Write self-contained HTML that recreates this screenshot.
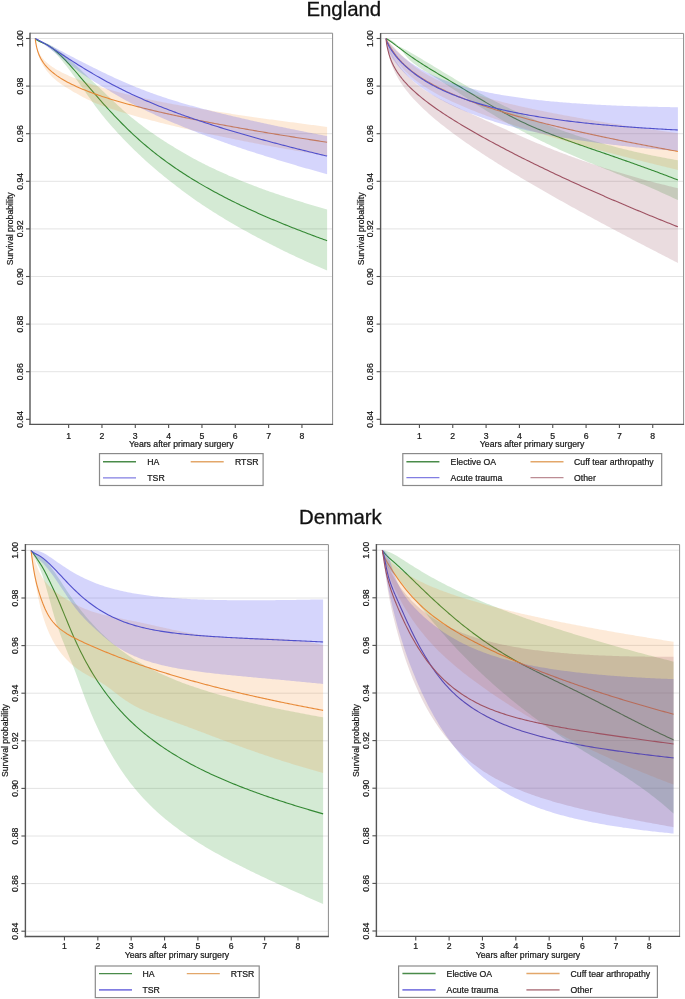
<!DOCTYPE html>
<html><head><meta charset="utf-8"><style>
html,body{margin:0;padding:0;background:#fff;}
body{width:685px;height:999px;overflow:hidden;font-family:"Liberation Sans",sans-serif;}
svg{display:block;will-change:transform;}
</style></head><body>
<svg width="685" height="999" viewBox="0 0 685 999">
<rect width="685" height="999" fill="#fff"/>
<text x="343.8" y="16.1" text-anchor="middle" font-size="20.4" fill="#111" font-family="Liberation Sans, sans-serif" stroke="#111" stroke-width="0.3" paint-order="stroke">England</text>
<text x="340.45" y="524.3" text-anchor="middle" font-size="20.4" fill="#111" font-family="Liberation Sans, sans-serif" stroke="#111" stroke-width="0.3" paint-order="stroke">Denmark</text>
<line x1="30.70" y1="38.50" x2="332.10" y2="38.50" stroke="#e4e4e4" stroke-width="1" stroke-opacity="1.00"/>
<line x1="30.70" y1="86.10" x2="332.10" y2="86.10" stroke="#e4e4e4" stroke-width="1" stroke-opacity="1.00"/>
<line x1="30.70" y1="133.70" x2="332.10" y2="133.70" stroke="#e4e4e4" stroke-width="1" stroke-opacity="1.00"/>
<line x1="30.70" y1="181.30" x2="332.10" y2="181.30" stroke="#e4e4e4" stroke-width="1" stroke-opacity="1.00"/>
<line x1="30.70" y1="228.90" x2="332.10" y2="228.90" stroke="#e4e4e4" stroke-width="1" stroke-opacity="1.00"/>
<line x1="30.70" y1="276.50" x2="332.10" y2="276.50" stroke="#e4e4e4" stroke-width="1" stroke-opacity="1.00"/>
<line x1="30.70" y1="324.10" x2="332.10" y2="324.10" stroke="#e4e4e4" stroke-width="1" stroke-opacity="1.00"/>
<line x1="30.70" y1="371.70" x2="332.10" y2="371.70" stroke="#e4e4e4" stroke-width="1" stroke-opacity="1.00"/>
<polygon points="35.30,38.50 35.30,38.52 35.33,38.61 35.40,38.73 35.51,38.88 35.72,39.10 35.93,39.29 36.14,39.45 36.35,39.59 36.57,39.73 36.78,39.86 36.99,39.98 37.20,40.09 37.41,40.20 37.62,40.31 37.83,40.41 38.04,40.51 38.25,40.60 38.46,40.70 38.68,40.78 38.89,40.87 39.10,40.96 39.31,41.04 39.52,41.12 39.73,41.20 39.94,41.27 40.15,41.35 40.36,41.42 40.57,41.49 40.78,41.56 41.00,41.63 41.21,41.70 41.42,41.77 41.63,41.83 41.84,41.90 42.05,41.96 42.26,42.02 42.47,42.08 42.68,42.14 42.89,42.20 43.11,42.26 43.32,42.32 43.53,42.37 43.74,42.43 43.95,42.48 44.16,42.55 44.37,42.61 44.58,42.67 44.79,42.74 45.00,42.81 45.21,42.88 45.43,42.96 45.64,43.03 45.85,43.11 46.06,43.19 46.27,43.28 46.48,43.36 46.69,43.45 46.90,43.53 47.11,43.62 47.32,43.72 47.54,43.81 47.75,43.90 47.96,44.00 48.17,44.10 48.38,44.20 48.59,44.30 48.80,44.40 49.01,44.51 49.22,44.61 49.43,44.72 49.64,44.83 49.86,44.94 50.07,45.05 50.28,45.16 50.49,45.28 50.70,45.39 50.91,45.51 51.12,45.63 51.33,45.75 51.54,45.87 51.75,45.99 51.96,46.12 53.70,47.17 55.43,48.28 57.16,49.44 58.89,50.66 60.62,51.92 62.35,53.25 64.08,54.62 65.81,56.05 67.54,57.53 69.27,59.07 71.00,60.64 72.73,62.24 74.46,63.86 76.19,65.50 77.92,67.16 79.65,68.83 81.38,70.50 83.11,72.18 84.84,73.86 86.57,75.54 88.30,77.20 90.03,78.85 91.77,80.49 93.50,82.13 95.23,83.77 96.96,85.41 98.69,87.06 100.42,88.72 102.15,90.40 103.88,92.07 105.61,93.75 107.34,95.42 109.07,97.08 110.80,98.73 112.53,100.37 114.26,101.99 115.99,103.61 117.72,105.21 119.45,106.80 121.18,108.37 122.91,109.92 124.64,111.45 126.37,112.97 128.10,114.46 129.83,115.93 131.57,117.38 133.30,118.81 135.03,120.22 136.76,121.60 138.49,122.95 140.22,124.29 141.95,125.60 143.68,126.90 145.41,128.17 147.14,129.43 148.87,130.67 150.60,131.90 152.33,133.10 154.06,134.29 155.79,135.47 157.52,136.64 159.25,137.79 160.98,138.93 162.71,140.05 164.44,141.17 166.17,142.28 167.90,143.38 169.63,144.46 171.37,145.54 173.10,146.61 174.83,147.67 176.56,148.72 178.29,149.76 180.02,150.79 181.75,151.81 183.48,152.82 185.21,153.82 186.94,154.81 188.67,155.78 190.40,156.75 192.13,157.71 193.86,158.65 195.59,159.58 197.32,160.50 199.05,161.41 200.78,162.31 202.51,163.19 204.24,164.06 205.97,164.93 207.70,165.78 209.43,166.63 211.17,167.47 212.90,168.29 214.63,169.11 216.36,169.92 218.09,170.73 219.82,171.52 221.55,172.31 223.28,173.09 225.01,173.86 226.74,174.62 228.47,175.38 230.20,176.13 231.93,176.87 233.66,177.60 235.39,178.33 237.12,179.05 238.85,179.77 240.58,180.48 242.31,181.18 244.04,181.88 245.77,182.57 247.50,183.26 249.23,183.94 250.97,184.62 252.70,185.28 254.43,185.95 256.16,186.60 257.89,187.26 259.62,187.90 261.35,188.54 263.08,189.17 264.81,189.80 266.54,190.42 268.27,191.04 270.00,191.65 271.73,192.25 273.46,192.85 275.19,193.45 276.92,194.03 278.65,194.62 280.38,195.19 282.11,195.77 283.84,196.33 285.57,196.90 287.30,197.46 289.03,198.01 290.77,198.57 292.50,199.12 294.23,199.66 295.96,200.20 297.69,200.74 299.42,201.28 301.15,201.82 302.88,202.35 304.61,202.88 306.34,203.41 308.07,203.93 309.80,204.45 311.53,204.97 313.26,205.49 314.99,206.00 316.72,206.52 318.45,207.02 320.18,207.53 321.91,208.03 323.64,208.54 325.37,209.04 327.10,209.53 327.10,270.46 325.37,269.73 323.64,268.99 321.91,268.25 320.18,267.51 318.45,266.76 316.72,266.01 314.99,265.26 313.26,264.50 311.53,263.73 309.80,262.96 308.07,262.19 306.34,261.41 304.61,260.63 302.88,259.85 301.15,259.06 299.42,258.26 297.69,257.46 295.96,256.66 294.23,255.85 292.50,255.03 290.77,254.21 289.03,253.38 287.30,252.55 285.57,251.72 283.84,250.88 282.11,250.03 280.38,249.19 278.65,248.33 276.92,247.47 275.19,246.61 273.46,245.74 271.73,244.87 270.00,243.99 268.27,243.11 266.54,242.22 264.81,241.33 263.08,240.43 261.35,239.52 259.62,238.61 257.89,237.69 256.16,236.77 254.43,235.84 252.70,234.91 250.97,233.97 249.23,233.02 247.50,232.07 245.77,231.11 244.04,230.15 242.31,229.18 240.58,228.20 238.85,227.22 237.12,226.23 235.39,225.24 233.66,224.24 231.93,223.23 230.20,222.22 228.47,221.20 226.74,220.17 225.01,219.14 223.28,218.10 221.55,217.05 219.82,215.99 218.09,214.93 216.36,213.85 214.63,212.77 212.90,211.68 211.17,210.58 209.43,209.47 207.70,208.35 205.97,207.22 204.24,206.08 202.51,204.93 200.78,203.77 199.05,202.59 197.32,201.40 195.59,200.20 193.86,198.98 192.13,197.76 190.40,196.52 188.67,195.26 186.94,194.00 185.21,192.72 183.48,191.44 181.75,190.14 180.02,188.84 178.29,187.52 176.56,186.20 174.83,184.86 173.10,183.52 171.37,182.16 169.63,180.80 167.90,179.44 166.17,178.06 164.44,176.66 162.71,175.26 160.98,173.84 159.25,172.41 157.52,170.97 155.79,169.51 154.06,168.03 152.33,166.54 150.60,165.03 148.87,163.51 147.14,161.97 145.41,160.41 143.68,158.83 141.95,157.23 140.22,155.61 138.49,153.97 136.76,152.31 135.03,150.63 133.30,148.94 131.57,147.22 129.83,145.50 128.10,143.75 126.37,141.99 124.64,140.21 122.91,138.41 121.18,136.58 119.45,134.74 117.72,132.88 115.99,130.99 114.26,129.08 112.53,127.14 110.80,125.17 109.07,123.19 107.34,121.17 105.61,119.13 103.88,117.06 102.15,114.96 100.42,112.80 98.69,110.57 96.96,108.26 95.23,105.90 93.50,103.49 91.77,101.05 90.03,98.60 88.30,96.14 86.57,93.70 84.84,91.28 83.11,88.87 81.38,86.44 79.65,84.02 77.92,81.60 76.19,79.19 74.46,76.80 72.73,74.44 71.00,72.10 69.27,69.80 67.54,67.55 65.81,65.32 64.08,63.14 62.35,61.01 60.62,58.95 58.89,56.95 57.16,55.04 55.43,53.23 53.70,51.52 51.96,49.93 51.75,49.74 51.54,49.56 51.33,49.37 51.12,49.19 50.91,49.01 50.70,48.84 50.49,48.66 50.28,48.49 50.07,48.31 49.86,48.14 49.64,47.97 49.43,47.81 49.22,47.64 49.01,47.48 48.80,47.31 48.59,47.15 48.38,47.00 48.17,46.84 47.96,46.68 47.75,46.53 47.54,46.38 47.32,46.23 47.11,46.09 46.90,45.94 46.69,45.80 46.48,45.66 46.27,45.52 46.06,45.38 45.85,45.25 45.64,45.12 45.43,44.99 45.21,44.86 45.00,44.74 44.79,44.61 44.58,44.50 44.37,44.38 44.16,44.27 43.95,44.16 43.74,44.05 43.53,43.94 43.32,43.84 43.11,43.73 42.89,43.63 42.68,43.52 42.47,43.41 42.26,43.30 42.05,43.20 41.84,43.09 41.63,42.98 41.42,42.87 41.21,42.76 41.00,42.64 40.78,42.53 40.57,42.42 40.36,42.30 40.15,42.19 39.94,42.07 39.73,41.95 39.52,41.83 39.31,41.71 39.10,41.59 38.89,41.46 38.68,41.34 38.46,41.21 38.25,41.08 38.04,40.95 37.83,40.81 37.62,40.67 37.41,40.53 37.20,40.39 36.99,40.24 36.78,40.08 36.57,39.92 36.35,39.75 36.14,39.57 35.93,39.38 35.72,39.16 35.51,38.91 35.40,38.75 35.33,38.62 35.30,38.52 35.30,38.50" fill="#2a962a" fill-opacity="0.200"/>
<polyline points="35.30,38.50 35.30,38.52 35.33,38.62 35.40,38.74 35.51,38.90 35.72,39.13 35.93,39.33 36.14,39.51 36.35,39.67 36.57,39.83 36.78,39.97 36.99,40.11 37.20,40.24 37.41,40.37 37.62,40.49 37.83,40.61 38.04,40.73 38.25,40.84 38.46,40.95 38.68,41.06 38.89,41.17 39.10,41.27 39.31,41.37 39.52,41.48 39.73,41.57 39.94,41.67 40.15,41.77 40.36,41.86 40.57,41.96 40.78,42.05 41.00,42.14 41.21,42.23 41.42,42.32 41.63,42.41 41.84,42.49 42.05,42.58 42.26,42.66 42.47,42.75 42.68,42.83 42.89,42.91 43.11,43.00 43.32,43.08 43.53,43.16 43.74,43.24 43.95,43.32 44.16,43.41 44.37,43.49 44.58,43.58 44.79,43.68 45.00,43.77 45.21,43.87 45.43,43.97 45.64,44.08 45.85,44.18 46.06,44.29 46.27,44.40 46.48,44.51 46.69,44.62 46.90,44.74 47.11,44.85 47.32,44.97 47.54,45.09 47.75,45.22 47.96,45.34 48.17,45.47 48.38,45.60 48.59,45.73 48.80,45.86 49.01,45.99 49.22,46.13 49.43,46.26 49.64,46.40 49.86,46.54 50.07,46.68 50.28,46.82 50.49,46.97 50.70,47.12 50.91,47.26 51.12,47.41 51.33,47.56 51.54,47.71 51.75,47.87 51.96,48.02 53.70,49.35 55.43,50.76 57.16,52.25 58.89,53.81 60.62,55.45 62.35,57.15 64.08,58.90 65.81,60.70 67.54,62.54 69.27,64.43 71.00,66.35 72.73,68.29 74.46,70.26 76.19,72.25 77.92,74.25 79.65,76.27 81.38,78.29 83.11,80.31 84.84,82.34 86.57,84.36 88.30,86.39 90.03,88.41 91.77,90.42 93.50,92.43 95.23,94.43 96.96,96.42 98.69,98.40 100.42,100.37 102.15,102.32 103.88,104.27 105.61,106.19 107.34,108.10 109.07,110.00 110.80,111.87 112.53,113.73 114.26,115.58 115.99,117.40 117.72,119.20 119.45,120.99 121.18,122.75 122.91,124.50 124.64,126.22 126.37,127.93 128.10,129.61 129.83,131.27 131.57,132.91 133.30,134.53 135.03,136.13 136.76,137.71 138.49,139.26 140.22,140.80 141.95,142.31 143.68,143.81 145.41,145.28 147.14,146.74 148.87,148.17 150.60,149.59 152.33,150.99 154.06,152.37 155.79,153.74 157.52,155.09 159.25,156.42 160.98,157.73 162.71,159.03 164.44,160.31 166.17,161.58 167.90,162.83 169.63,164.07 171.37,165.29 173.10,166.50 174.83,167.69 176.56,168.87 178.29,170.04 180.02,171.19 181.75,172.33 183.48,173.46 185.21,174.58 186.94,175.68 188.67,176.78 190.40,177.86 192.13,178.93 193.86,179.99 195.59,181.04 197.32,182.07 199.05,183.10 200.78,184.12 202.51,185.13 204.24,186.12 205.97,187.11 207.70,188.09 209.43,189.06 211.17,190.02 212.90,190.97 214.63,191.91 216.36,192.85 218.09,193.78 219.82,194.69 221.55,195.60 223.28,196.51 225.01,197.40 226.74,198.29 228.47,199.17 230.20,200.04 231.93,200.91 233.66,201.76 235.39,202.62 237.12,203.46 238.85,204.30 240.58,205.13 242.31,205.96 244.04,206.78 245.77,207.59 247.50,208.40 249.23,209.20 250.97,210.00 252.70,210.79 254.43,211.57 256.16,212.35 257.89,213.13 259.62,213.90 261.35,214.66 263.08,215.42 264.81,216.18 266.54,216.93 268.27,217.67 270.00,218.41 271.73,219.15 273.46,219.88 275.19,220.60 276.92,221.33 278.65,222.05 280.38,222.76 282.11,223.47 283.84,224.18 285.57,224.88 287.30,225.58 289.03,226.27 290.77,226.96 292.50,227.65 294.23,228.33 295.96,229.01 297.69,229.69 299.42,230.36 301.15,231.03 302.88,231.70 304.61,232.36 306.34,233.02 308.07,233.68 309.80,234.33 311.53,234.98 313.26,235.63 314.99,236.27 316.72,236.92 318.45,237.55 320.18,238.19 321.91,238.82 323.64,239.46 325.37,240.08 327.10,240.71" fill="none" stroke="#338833" stroke-width="1.10" stroke-linejoin="round"/>
<polygon points="35.30,38.50 35.30,38.62 35.33,39.11 35.40,39.81 35.51,40.70 35.72,42.04 35.93,43.18 36.14,44.19 36.35,45.13 36.57,46.01 36.78,46.81 36.99,47.54 37.20,48.22 37.41,48.85 37.62,49.45 37.83,50.00 38.04,50.53 38.25,51.04 38.46,51.52 38.68,51.98 38.89,52.42 39.10,52.84 39.31,53.25 39.52,53.64 39.73,54.02 39.94,54.39 40.15,54.74 40.36,55.08 40.57,55.42 40.78,55.74 41.00,56.06 41.21,56.36 41.42,56.66 41.63,56.96 41.84,57.24 42.05,57.52 42.26,57.79 42.47,58.06 42.68,58.32 42.89,58.58 43.11,58.83 43.32,59.08 43.53,59.32 43.74,59.56 43.95,59.79 44.16,60.02 44.37,60.25 44.58,60.47 44.79,60.69 45.00,60.90 45.21,61.11 45.43,61.32 45.64,61.53 45.85,61.73 46.06,61.93 46.27,62.12 46.48,62.32 46.69,62.51 46.90,62.69 47.11,62.88 47.32,63.06 47.54,63.24 47.75,63.42 47.96,63.60 48.17,63.78 48.38,63.95 48.59,64.12 48.80,64.29 49.01,64.46 49.22,64.62 49.43,64.79 49.64,64.95 49.86,65.11 50.07,65.27 50.28,65.43 50.49,65.58 50.70,65.74 50.91,65.89 51.12,66.04 51.33,66.19 51.54,66.34 51.75,66.49 51.96,66.64 53.70,67.80 55.43,68.88 57.16,69.90 58.89,70.86 60.62,71.77 62.35,72.65 64.08,73.49 65.81,74.31 67.54,75.11 69.27,75.89 71.00,76.64 72.73,77.38 74.46,78.09 76.19,78.78 77.92,79.46 79.65,80.12 81.38,80.76 83.11,81.39 84.84,82.01 86.57,82.61 88.30,83.21 90.03,83.79 91.77,84.36 93.50,84.92 95.23,85.47 96.96,86.02 98.69,86.55 100.42,87.07 102.15,87.59 103.88,88.10 105.61,88.60 107.34,89.09 109.07,89.58 110.80,90.07 112.53,90.55 114.26,91.02 115.99,91.49 117.72,91.95 119.45,92.40 121.18,92.85 122.91,93.30 124.64,93.74 126.37,94.17 128.10,94.60 129.83,95.02 131.57,95.44 133.30,95.85 135.03,96.25 136.76,96.65 138.49,97.05 140.22,97.44 141.95,97.83 143.68,98.21 145.41,98.59 147.14,98.97 148.87,99.35 150.60,99.71 152.33,100.08 154.06,100.44 155.79,100.80 157.52,101.16 159.25,101.51 160.98,101.85 162.71,102.20 164.44,102.54 166.17,102.87 167.90,103.20 169.63,103.53 171.37,103.86 173.10,104.17 174.83,104.49 176.56,104.80 178.29,105.11 180.02,105.41 181.75,105.71 183.48,106.01 185.21,106.31 186.94,106.60 188.67,106.89 190.40,107.18 192.13,107.47 193.86,107.76 195.59,108.05 197.32,108.33 199.05,108.62 200.78,108.90 202.51,109.19 204.24,109.47 205.97,109.76 207.70,110.04 209.43,110.32 211.17,110.60 212.90,110.88 214.63,111.16 216.36,111.44 218.09,111.72 219.82,112.00 221.55,112.27 223.28,112.54 225.01,112.81 226.74,113.08 228.47,113.35 230.20,113.62 231.93,113.89 233.66,114.15 235.39,114.41 237.12,114.67 238.85,114.93 240.58,115.19 242.31,115.44 244.04,115.70 245.77,115.95 247.50,116.21 249.23,116.46 250.97,116.71 252.70,116.96 254.43,117.20 256.16,117.45 257.89,117.70 259.62,117.94 261.35,118.18 263.08,118.43 264.81,118.67 266.54,118.91 268.27,119.15 270.00,119.38 271.73,119.62 273.46,119.85 275.19,120.09 276.92,120.32 278.65,120.55 280.38,120.78 282.11,121.00 283.84,121.23 285.57,121.46 287.30,121.68 289.03,121.91 290.77,122.14 292.50,122.36 294.23,122.59 295.96,122.82 297.69,123.05 299.42,123.27 301.15,123.50 302.88,123.74 304.61,123.97 306.34,124.20 308.07,124.43 309.80,124.66 311.53,124.89 313.26,125.12 314.99,125.36 316.72,125.59 318.45,125.82 320.18,126.05 321.91,126.28 323.64,126.52 325.37,126.75 327.10,126.98 327.10,155.78 325.37,155.51 323.64,155.24 321.91,154.96 320.18,154.68 318.45,154.41 316.72,154.13 314.99,153.85 313.26,153.57 311.53,153.28 309.80,153.00 308.07,152.71 306.34,152.43 304.61,152.14 302.88,151.85 301.15,151.56 299.42,151.27 297.69,150.98 295.96,150.68 294.23,150.39 292.50,150.09 290.77,149.79 289.03,149.49 287.30,149.19 285.57,148.89 283.84,148.59 282.11,148.28 280.38,147.98 278.65,147.67 276.92,147.36 275.19,147.05 273.46,146.73 271.73,146.42 270.00,146.10 268.27,145.79 266.54,145.47 264.81,145.15 263.08,144.82 261.35,144.50 259.62,144.17 257.89,143.84 256.16,143.50 254.43,143.17 252.70,142.84 250.97,142.50 249.23,142.16 247.50,141.82 245.77,141.48 244.04,141.13 242.31,140.79 240.58,140.45 238.85,140.10 237.12,139.75 235.39,139.41 233.66,139.06 231.93,138.71 230.20,138.36 228.47,138.01 226.74,137.65 225.01,137.30 223.28,136.94 221.55,136.58 219.82,136.22 218.09,135.86 216.36,135.50 214.63,135.14 212.90,134.77 211.17,134.40 209.43,134.03 207.70,133.66 205.97,133.29 204.24,132.92 202.51,132.54 200.78,132.16 199.05,131.78 197.32,131.40 195.59,131.02 193.86,130.63 192.13,130.25 190.40,129.86 188.67,129.46 186.94,129.07 185.21,128.67 183.48,128.28 181.75,127.88 180.02,127.47 178.29,127.07 176.56,126.66 174.83,126.25 173.10,125.84 171.37,125.42 169.63,125.01 167.90,124.59 166.17,124.16 164.44,123.74 162.71,123.31 160.98,122.88 159.25,122.44 157.52,122.01 155.79,121.56 154.06,121.12 152.33,120.67 150.60,120.22 148.87,119.77 147.14,119.31 145.41,118.85 143.68,118.38 141.95,117.91 140.22,117.44 138.49,116.96 136.76,116.48 135.03,115.99 133.30,115.50 131.57,115.01 129.83,114.52 128.10,114.02 126.37,113.52 124.64,113.01 122.91,112.49 121.18,111.97 119.45,111.45 117.72,110.91 115.99,110.37 114.26,109.82 112.53,109.27 110.80,108.70 109.07,108.12 107.34,107.53 105.61,106.93 103.88,106.32 102.15,105.69 100.42,105.04 98.69,104.36 96.96,103.66 95.23,102.93 93.50,102.17 91.77,101.39 90.03,100.58 88.30,99.75 86.57,98.90 84.84,98.02 83.11,97.13 81.38,96.22 79.65,95.29 77.92,94.34 76.19,93.37 74.46,92.38 72.73,91.38 71.00,90.36 69.27,89.32 67.54,88.26 65.81,87.18 64.08,86.06 62.35,84.91 60.62,83.72 58.89,82.46 57.16,81.14 55.43,79.74 53.70,78.24 51.96,76.64 51.75,76.43 51.54,76.22 51.33,76.02 51.12,75.80 50.91,75.59 50.70,75.37 50.49,75.15 50.28,74.93 50.07,74.71 49.86,74.48 49.64,74.25 49.43,74.02 49.22,73.79 49.01,73.55 48.80,73.31 48.59,73.07 48.38,72.82 48.17,72.57 47.96,72.32 47.75,72.07 47.54,71.81 47.32,71.55 47.11,71.28 46.90,71.01 46.69,70.74 46.48,70.47 46.27,70.19 46.06,69.91 45.85,69.62 45.64,69.33 45.43,69.03 45.21,68.74 45.00,68.43 44.79,68.12 44.58,67.81 44.37,67.49 44.16,67.17 43.95,66.84 43.74,66.51 43.53,66.17 43.32,65.83 43.11,65.48 42.89,65.12 42.68,64.76 42.47,64.38 42.26,64.01 42.05,63.62 41.84,63.22 41.63,62.82 41.42,62.40 41.21,61.98 41.00,61.54 40.78,61.10 40.57,60.64 40.36,60.17 40.15,59.68 39.94,59.18 39.73,58.67 39.52,58.14 39.31,57.59 39.10,57.02 38.89,56.43 38.68,55.82 38.46,55.18 38.25,54.51 38.04,53.81 37.83,53.08 37.62,52.30 37.41,51.48 37.20,50.62 36.99,49.69 36.78,48.71 36.57,47.65 36.35,46.51 36.14,45.31 35.93,44.02 35.72,42.61 35.51,40.98 35.40,39.95 35.33,39.16 35.30,38.63 35.30,38.50" fill="#f58c28" fill-opacity="0.180"/>
<polyline points="35.30,38.50 35.30,38.62 35.33,39.13 35.40,39.88 35.51,40.84 35.72,42.32 35.93,43.59 36.14,44.74 36.35,45.81 36.57,46.82 36.78,47.75 36.99,48.61 37.20,49.41 37.41,50.16 37.62,50.86 37.83,51.53 38.04,52.16 38.25,52.77 38.46,53.35 38.68,53.90 38.89,54.43 39.10,54.94 39.31,55.43 39.52,55.91 39.73,56.37 39.94,56.81 40.15,57.25 40.36,57.67 40.57,58.07 40.78,58.47 41.00,58.86 41.21,59.23 41.42,59.60 41.63,59.96 41.84,60.31 42.05,60.65 42.26,60.99 42.47,61.32 42.68,61.64 42.89,61.95 43.11,62.26 43.32,62.57 43.53,62.86 43.74,63.16 43.95,63.44 44.16,63.73 44.37,64.00 44.58,64.28 44.79,64.55 45.00,64.81 45.21,65.07 45.43,65.33 45.64,65.58 45.85,65.83 46.06,66.07 46.27,66.32 46.48,66.56 46.69,66.79 46.90,67.02 47.11,67.25 47.32,67.48 47.54,67.70 47.75,67.93 47.96,68.14 48.17,68.36 48.38,68.57 48.59,68.78 48.80,68.99 49.01,69.20 49.22,69.40 49.43,69.61 49.64,69.81 49.86,70.00 50.07,70.20 50.28,70.39 50.49,70.58 50.70,70.77 50.91,70.96 51.12,71.15 51.33,71.33 51.54,71.52 51.75,71.70 51.96,71.88 53.70,73.29 55.43,74.61 57.16,75.86 58.89,77.04 60.62,78.16 62.35,79.22 64.08,80.24 65.81,81.22 67.54,82.16 69.27,83.07 71.00,83.95 72.73,84.80 74.46,85.62 76.19,86.42 77.92,87.20 79.65,87.95 81.38,88.69 83.11,89.41 84.84,90.11 86.57,90.80 88.30,91.47 90.03,92.13 91.77,92.77 93.50,93.41 95.23,94.03 96.96,94.64 98.69,95.23 100.42,95.82 102.15,96.40 103.88,96.97 105.61,97.53 107.34,98.08 109.07,98.63 110.80,99.16 112.53,99.69 114.26,100.21 115.99,100.73 117.72,101.24 119.45,101.74 121.18,102.23 122.91,102.72 124.64,103.21 126.37,103.69 128.10,104.16 129.83,104.63 131.57,105.09 133.30,105.55 135.03,106.00 136.76,106.45 138.49,106.90 140.22,107.34 141.95,107.77 143.68,108.21 145.41,108.64 147.14,109.06 148.87,109.48 150.60,109.90 152.33,110.31 154.06,110.72 155.79,111.13 157.52,111.53 159.25,111.93 160.98,112.33 162.71,112.73 164.44,113.12 166.17,113.51 167.90,113.89 169.63,114.27 171.37,114.66 173.10,115.03 174.83,115.41 176.56,115.78 178.29,116.15 180.02,116.52 181.75,116.89 183.48,117.25 185.21,117.61 186.94,117.97 188.67,118.33 190.40,118.68 192.13,119.03 193.86,119.38 195.59,119.73 197.32,120.08 199.05,120.42 200.78,120.76 202.51,121.11 204.24,121.44 205.97,121.78 207.70,122.12 209.43,122.45 211.17,122.78 212.90,123.11 214.63,123.44 216.36,123.77 218.09,124.09 219.82,124.42 221.55,124.74 223.28,125.06 225.01,125.38 226.74,125.70 228.47,126.01 230.20,126.33 231.93,126.64 233.66,126.96 235.39,127.27 237.12,127.58 238.85,127.88 240.58,128.19 242.31,128.50 244.04,128.80 245.77,129.10 247.50,129.41 249.23,129.71 250.97,130.01 252.70,130.31 254.43,130.60 256.16,130.90 257.89,131.19 259.62,131.49 261.35,131.78 263.08,132.07 264.81,132.36 266.54,132.65 268.27,132.94 270.00,133.23 271.73,133.51 273.46,133.80 275.19,134.09 276.92,134.37 278.65,134.65 280.38,134.93 282.11,135.21 283.84,135.49 285.57,135.77 287.30,136.05 289.03,136.33 290.77,136.60 292.50,136.88 294.23,137.15 295.96,137.43 297.69,137.70 299.42,137.97 301.15,138.24 302.88,138.51 304.61,138.78 306.34,139.05 308.07,139.32 309.80,139.59 311.53,139.85 313.26,140.12 314.99,140.38 316.72,140.65 318.45,140.91 320.18,141.17 321.91,141.44 323.64,141.70 325.37,141.96 327.10,142.22" fill="none" stroke="#e88a38" stroke-width="1.10" stroke-linejoin="round"/>
<polygon points="35.30,38.50 35.30,38.50 35.33,38.51 35.40,38.53 35.51,38.56 35.72,38.63 35.93,38.71 36.14,38.79 36.35,38.87 36.57,38.95 36.78,39.03 36.99,39.11 37.20,39.20 37.41,39.28 37.62,39.37 37.83,39.46 38.04,39.54 38.25,39.63 38.46,39.72 38.68,39.81 38.89,39.90 39.10,39.99 39.31,40.08 39.52,40.17 39.73,40.26 39.94,40.35 40.15,40.44 40.36,40.53 40.57,40.63 40.78,40.72 41.00,40.81 41.21,40.91 41.42,41.00 41.63,41.09 41.84,41.19 42.05,41.28 42.26,41.38 42.47,41.47 42.68,41.57 42.89,41.66 43.11,41.76 43.32,41.86 43.53,41.95 43.74,42.05 43.95,42.15 44.16,42.24 44.37,42.34 44.58,42.44 44.79,42.54 45.00,42.64 45.21,42.74 45.43,42.84 45.64,42.94 45.85,43.04 46.06,43.14 46.27,43.25 46.48,43.35 46.69,43.45 46.90,43.55 47.11,43.66 47.32,43.76 47.54,43.87 47.75,43.97 47.96,44.07 48.17,44.18 48.38,44.29 48.59,44.39 48.80,44.50 49.01,44.60 49.22,44.71 49.43,44.82 49.64,44.92 49.86,45.03 50.07,45.14 50.28,45.25 50.49,45.35 50.70,45.46 50.91,45.57 51.12,45.68 51.33,45.79 51.54,45.90 51.75,46.01 51.96,46.12 53.70,47.02 55.43,47.93 57.16,48.85 58.89,49.77 60.62,50.69 62.35,51.62 64.08,52.54 65.81,53.46 67.54,54.38 69.27,55.30 71.00,56.20 72.73,57.10 74.46,58.00 76.19,58.88 77.92,59.76 79.65,60.64 81.38,61.52 83.11,62.40 84.84,63.28 86.57,64.16 88.30,65.03 90.03,65.90 91.77,66.77 93.50,67.63 95.23,68.49 96.96,69.34 98.69,70.20 100.42,71.04 102.15,71.89 103.88,72.73 105.61,73.57 107.34,74.40 109.07,75.23 110.80,76.05 112.53,76.86 114.26,77.67 115.99,78.47 117.72,79.26 119.45,80.05 121.18,80.83 122.91,81.60 124.64,82.36 126.37,83.11 128.10,83.85 129.83,84.58 131.57,85.31 133.30,86.02 135.03,86.72 136.76,87.42 138.49,88.10 140.22,88.78 141.95,89.45 143.68,90.11 145.41,90.76 147.14,91.41 148.87,92.05 150.60,92.69 152.33,93.31 154.06,93.93 155.79,94.54 157.52,95.15 159.25,95.74 160.98,96.33 162.71,96.92 164.44,97.49 166.17,98.06 167.90,98.63 169.63,99.18 171.37,99.73 173.10,100.27 174.83,100.81 176.56,101.34 178.29,101.87 180.02,102.38 181.75,102.90 183.48,103.41 185.21,103.91 186.94,104.41 188.67,104.90 190.40,105.39 192.13,105.87 193.86,106.35 195.59,106.83 197.32,107.30 199.05,107.77 200.78,108.23 202.51,108.69 204.24,109.15 205.97,109.60 207.70,110.05 209.43,110.50 211.17,110.94 212.90,111.38 214.63,111.81 216.36,112.24 218.09,112.67 219.82,113.10 221.55,113.52 223.28,113.94 225.01,114.35 226.74,114.77 228.47,115.18 230.20,115.59 231.93,116.00 233.66,116.41 235.39,116.81 237.12,117.22 238.85,117.62 240.58,118.02 242.31,118.42 244.04,118.81 245.77,119.21 247.50,119.60 249.23,119.99 250.97,120.38 252.70,120.76 254.43,121.15 256.16,121.53 257.89,121.91 259.62,122.29 261.35,122.67 263.08,123.05 264.81,123.42 266.54,123.80 268.27,124.17 270.00,124.54 271.73,124.91 273.46,125.28 275.19,125.65 276.92,126.02 278.65,126.38 280.38,126.75 282.11,127.11 283.84,127.47 285.57,127.83 287.30,128.19 289.03,128.55 290.77,128.91 292.50,129.26 294.23,129.62 295.96,129.97 297.69,130.32 299.42,130.67 301.15,131.02 302.88,131.36 304.61,131.71 306.34,132.05 308.07,132.40 309.80,132.74 311.53,133.08 313.26,133.42 314.99,133.75 316.72,134.09 318.45,134.43 320.18,134.76 321.91,135.10 323.64,135.43 325.37,135.76 327.10,136.09 327.10,174.17 325.37,173.70 323.64,173.22 321.91,172.75 320.18,172.27 318.45,171.79 316.72,171.31 314.99,170.82 313.26,170.34 311.53,169.85 309.80,169.36 308.07,168.87 306.34,168.38 304.61,167.88 302.88,167.39 301.15,166.89 299.42,166.38 297.69,165.88 295.96,165.37 294.23,164.86 292.50,164.35 290.77,163.84 289.03,163.32 287.30,162.80 285.57,162.28 283.84,161.76 282.11,161.24 280.38,160.71 278.65,160.18 276.92,159.65 275.19,159.12 273.46,158.59 271.73,158.06 270.00,157.52 268.27,156.98 266.54,156.44 264.81,155.90 263.08,155.36 261.35,154.81 259.62,154.27 257.89,153.72 256.16,153.17 254.43,152.61 252.70,152.06 250.97,151.50 249.23,150.94 247.50,150.38 245.77,149.81 244.04,149.24 242.31,148.67 240.58,148.09 238.85,147.51 237.12,146.93 235.39,146.34 233.66,145.75 231.93,145.15 230.20,144.55 228.47,143.95 226.74,143.34 225.01,142.73 223.28,142.12 221.55,141.50 219.82,140.87 218.09,140.25 216.36,139.62 214.63,138.99 212.90,138.35 211.17,137.71 209.43,137.07 207.70,136.42 205.97,135.77 204.24,135.12 202.51,134.46 200.78,133.80 199.05,133.14 197.32,132.47 195.59,131.80 193.86,131.12 192.13,130.44 190.40,129.75 188.67,129.06 186.94,128.37 185.21,127.67 183.48,126.96 181.75,126.26 180.02,125.54 178.29,124.83 176.56,124.11 174.83,123.38 173.10,122.66 171.37,121.92 169.63,121.19 167.90,120.45 166.17,119.70 164.44,118.95 162.71,118.20 160.98,117.45 159.25,116.69 157.52,115.92 155.79,115.15 154.06,114.37 152.33,113.58 150.60,112.79 148.87,111.99 147.14,111.18 145.41,110.37 143.68,109.54 141.95,108.71 140.22,107.86 138.49,107.01 136.76,106.14 135.03,105.26 133.30,104.37 131.57,103.46 129.83,102.53 128.10,101.60 126.37,100.65 124.64,99.69 122.91,98.72 121.18,97.74 119.45,96.74 117.72,95.74 115.99,94.73 114.26,93.71 112.53,92.69 110.80,91.66 109.07,90.62 107.34,89.58 105.61,88.53 103.88,87.48 102.15,86.43 100.42,85.38 98.69,84.33 96.96,83.27 95.23,82.21 93.50,81.14 91.77,80.07 90.03,78.97 88.30,77.86 86.57,76.73 84.84,75.58 83.11,74.39 81.38,73.17 79.65,71.91 77.92,70.63 76.19,69.33 74.46,68.02 72.73,66.69 71.00,65.36 69.27,64.02 67.54,62.68 65.81,61.33 64.08,59.98 62.35,58.61 60.62,57.23 58.89,55.86 57.16,54.48 55.43,53.11 53.70,51.75 51.96,50.40 51.75,50.24 51.54,50.07 51.33,49.91 51.12,49.75 50.91,49.58 50.70,49.42 50.49,49.26 50.28,49.10 50.07,48.93 49.86,48.77 49.64,48.61 49.43,48.45 49.22,48.29 49.01,48.13 48.80,47.97 48.59,47.81 48.38,47.65 48.17,47.49 47.96,47.33 47.75,47.17 47.54,47.01 47.32,46.85 47.11,46.69 46.90,46.54 46.69,46.38 46.48,46.22 46.27,46.07 46.06,45.91 45.85,45.75 45.64,45.60 45.43,45.44 45.21,45.29 45.00,45.13 44.79,44.98 44.58,44.83 44.37,44.67 44.16,44.52 43.95,44.37 43.74,44.22 43.53,44.07 43.32,43.92 43.11,43.77 42.89,43.62 42.68,43.47 42.47,43.32 42.26,43.17 42.05,43.02 41.84,42.87 41.63,42.72 41.42,42.57 41.21,42.43 41.00,42.28 40.78,42.13 40.57,41.98 40.36,41.84 40.15,41.69 39.94,41.54 39.73,41.40 39.52,41.25 39.31,41.11 39.10,40.96 38.89,40.82 38.68,40.68 38.46,40.53 38.25,40.39 38.04,40.25 37.83,40.11 37.62,39.97 37.41,39.82 37.20,39.69 36.99,39.55 36.78,39.41 36.57,39.27 36.35,39.14 36.14,39.00 35.93,38.87 35.72,38.74 35.51,38.62 35.40,38.55 35.33,38.52 35.30,38.50 35.30,38.50" fill="#4040f0" fill-opacity="0.220"/>
<polyline points="35.30,38.50 35.30,38.50 35.33,38.51 35.40,38.54 35.51,38.59 35.72,38.68 35.93,38.78 36.14,38.88 36.35,38.99 36.57,39.09 36.78,39.20 36.99,39.31 37.20,39.41 37.41,39.52 37.62,39.63 37.83,39.74 38.04,39.86 38.25,39.97 38.46,40.08 38.68,40.19 38.89,40.31 39.10,40.42 39.31,40.53 39.52,40.65 39.73,40.77 39.94,40.88 40.15,41.00 40.36,41.11 40.57,41.23 40.78,41.35 41.00,41.46 41.21,41.58 41.42,41.70 41.63,41.82 41.84,41.94 42.05,42.05 42.26,42.17 42.47,42.29 42.68,42.41 42.89,42.53 43.11,42.65 43.32,42.77 43.53,42.89 43.74,43.01 43.95,43.13 44.16,43.26 44.37,43.38 44.58,43.50 44.79,43.62 45.00,43.75 45.21,43.87 45.43,44.00 45.64,44.12 45.85,44.25 46.06,44.37 46.27,44.50 46.48,44.63 46.69,44.75 46.90,44.88 47.11,45.01 47.32,45.13 47.54,45.26 47.75,45.39 47.96,45.52 48.17,45.65 48.38,45.78 48.59,45.91 48.80,46.04 49.01,46.17 49.22,46.30 49.43,46.43 49.64,46.56 49.86,46.69 50.07,46.83 50.28,46.96 50.49,47.09 50.70,47.22 50.91,47.35 51.12,47.49 51.33,47.62 51.54,47.75 51.75,47.89 51.96,48.02 53.70,49.12 55.43,50.23 57.16,51.34 58.89,52.46 60.62,53.58 62.35,54.71 64.08,55.83 65.81,56.95 67.54,58.06 69.27,59.18 71.00,60.29 72.73,61.39 74.46,62.49 76.19,63.58 77.92,64.67 79.65,65.75 81.38,66.82 83.11,67.89 84.84,68.94 86.57,69.99 88.30,71.03 90.03,72.06 91.77,73.09 93.50,74.10 95.23,75.11 96.96,76.11 98.69,77.09 100.42,78.07 102.15,79.04 103.88,80.00 105.61,80.96 107.34,81.90 109.07,82.83 110.80,83.76 112.53,84.67 114.26,85.58 115.99,86.47 117.72,87.36 119.45,88.24 121.18,89.11 122.91,89.97 124.64,90.82 126.37,91.67 128.10,92.50 129.83,93.33 131.57,94.14 133.30,94.95 135.03,95.75 136.76,96.54 138.49,97.33 140.22,98.10 141.95,98.87 143.68,99.63 145.41,100.38 147.14,101.12 148.87,101.86 150.60,102.59 152.33,103.31 154.06,104.03 155.79,104.74 157.52,105.44 159.25,106.14 160.98,106.83 162.71,107.51 164.44,108.19 166.17,108.86 167.90,109.53 169.63,110.19 171.37,110.85 173.10,111.50 174.83,112.14 176.56,112.78 178.29,113.42 180.02,114.05 181.75,114.67 183.48,115.29 185.21,115.91 186.94,116.52 188.67,117.12 190.40,117.72 192.13,118.32 193.86,118.91 195.59,119.50 197.32,120.09 199.05,120.67 200.78,121.25 202.51,121.82 204.24,122.39 205.97,122.95 207.70,123.52 209.43,124.07 211.17,124.63 212.90,125.18 214.63,125.73 216.36,126.27 218.09,126.81 219.82,127.35 221.55,127.88 223.28,128.42 225.01,128.94 226.74,129.47 228.47,129.99 230.20,130.51 231.93,131.03 233.66,131.54 235.39,132.05 237.12,132.56 238.85,133.07 240.58,133.57 242.31,134.07 244.04,134.57 245.77,135.06 247.50,135.56 249.23,136.05 250.97,136.53 252.70,137.02 254.43,137.50 256.16,137.98 257.89,138.46 259.62,138.94 261.35,139.41 263.08,139.88 264.81,140.35 266.54,140.82 268.27,141.29 270.00,141.75 271.73,142.21 273.46,142.67 275.19,143.13 276.92,143.59 278.65,144.04 280.38,144.49 282.11,144.94 283.84,145.39 285.57,145.84 287.30,146.28 289.03,146.73 290.77,147.17 292.50,147.61 294.23,148.05 295.96,148.48 297.69,148.92 299.42,149.35 301.15,149.78 302.88,150.21 304.61,150.64 306.34,151.07 308.07,151.49 309.80,151.92 311.53,152.34 313.26,152.76 314.99,153.18 316.72,153.60 318.45,154.02 320.18,154.43 321.91,154.85 323.64,155.26 325.37,155.67 327.10,156.08" fill="none" stroke="#5050cc" stroke-width="1.10" stroke-linejoin="round"/>
<line x1="30.00" y1="33.20" x2="332.60" y2="33.20" stroke="#8a8a8a" stroke-width="1"/>
<line x1="332.60" y1="33.20" x2="332.60" y2="424.40" stroke="#8a8a8a" stroke-width="1"/>
<line x1="30.00" y1="32.70" x2="30.00" y2="425.10" stroke="#555555" stroke-width="1.4"/>
<line x1="29.30" y1="424.40" x2="333.10" y2="424.40" stroke="#555555" stroke-width="1.4"/>
<line x1="26.00" y1="38.50" x2="30.00" y2="38.50" stroke="#505050" stroke-width="1.1"/>
<text x="0" y="0" transform="translate(22.80,38.50) rotate(-90)" text-anchor="middle" font-size="8.7" fill="#161616" font-family="Liberation Sans, sans-serif" stroke="#1a1a1a" stroke-width="0.22" paint-order="stroke">1.00</text>
<line x1="26.00" y1="86.10" x2="30.00" y2="86.10" stroke="#505050" stroke-width="1.1"/>
<text x="0" y="0" transform="translate(22.80,86.10) rotate(-90)" text-anchor="middle" font-size="8.7" fill="#161616" font-family="Liberation Sans, sans-serif" stroke="#1a1a1a" stroke-width="0.22" paint-order="stroke">0.98</text>
<line x1="26.00" y1="133.70" x2="30.00" y2="133.70" stroke="#505050" stroke-width="1.1"/>
<text x="0" y="0" transform="translate(22.80,133.70) rotate(-90)" text-anchor="middle" font-size="8.7" fill="#161616" font-family="Liberation Sans, sans-serif" stroke="#1a1a1a" stroke-width="0.22" paint-order="stroke">0.96</text>
<line x1="26.00" y1="181.30" x2="30.00" y2="181.30" stroke="#505050" stroke-width="1.1"/>
<text x="0" y="0" transform="translate(22.80,181.30) rotate(-90)" text-anchor="middle" font-size="8.7" fill="#161616" font-family="Liberation Sans, sans-serif" stroke="#1a1a1a" stroke-width="0.22" paint-order="stroke">0.94</text>
<line x1="26.00" y1="228.90" x2="30.00" y2="228.90" stroke="#505050" stroke-width="1.1"/>
<text x="0" y="0" transform="translate(22.80,228.90) rotate(-90)" text-anchor="middle" font-size="8.7" fill="#161616" font-family="Liberation Sans, sans-serif" stroke="#1a1a1a" stroke-width="0.22" paint-order="stroke">0.92</text>
<line x1="26.00" y1="276.50" x2="30.00" y2="276.50" stroke="#505050" stroke-width="1.1"/>
<text x="0" y="0" transform="translate(22.80,276.50) rotate(-90)" text-anchor="middle" font-size="8.7" fill="#161616" font-family="Liberation Sans, sans-serif" stroke="#1a1a1a" stroke-width="0.22" paint-order="stroke">0.90</text>
<line x1="26.00" y1="324.10" x2="30.00" y2="324.10" stroke="#505050" stroke-width="1.1"/>
<text x="0" y="0" transform="translate(22.80,324.10) rotate(-90)" text-anchor="middle" font-size="8.7" fill="#161616" font-family="Liberation Sans, sans-serif" stroke="#1a1a1a" stroke-width="0.22" paint-order="stroke">0.88</text>
<line x1="26.00" y1="371.70" x2="30.00" y2="371.70" stroke="#505050" stroke-width="1.1"/>
<text x="0" y="0" transform="translate(22.80,371.70) rotate(-90)" text-anchor="middle" font-size="8.7" fill="#161616" font-family="Liberation Sans, sans-serif" stroke="#1a1a1a" stroke-width="0.22" paint-order="stroke">0.86</text>
<line x1="26.00" y1="419.30" x2="30.00" y2="419.30" stroke="#505050" stroke-width="1.1"/>
<text x="0" y="0" transform="translate(22.80,419.30) rotate(-90)" text-anchor="middle" font-size="8.7" fill="#161616" font-family="Liberation Sans, sans-serif" stroke="#1a1a1a" stroke-width="0.22" paint-order="stroke">0.84</text>
<line x1="68.63" y1="424.40" x2="68.63" y2="427.90" stroke="#505050" stroke-width="1.1"/>
<text x="68.63" y="439.00" text-anchor="middle" font-size="8.7" fill="#161616" font-family="Liberation Sans, sans-serif" stroke="#1a1a1a" stroke-width="0.22" paint-order="stroke">1</text>
<line x1="101.96" y1="424.40" x2="101.96" y2="427.90" stroke="#505050" stroke-width="1.1"/>
<text x="101.96" y="439.00" text-anchor="middle" font-size="8.7" fill="#161616" font-family="Liberation Sans, sans-serif" stroke="#1a1a1a" stroke-width="0.22" paint-order="stroke">2</text>
<line x1="135.29" y1="424.40" x2="135.29" y2="427.90" stroke="#505050" stroke-width="1.1"/>
<text x="135.29" y="439.00" text-anchor="middle" font-size="8.7" fill="#161616" font-family="Liberation Sans, sans-serif" stroke="#1a1a1a" stroke-width="0.22" paint-order="stroke">3</text>
<line x1="168.62" y1="424.40" x2="168.62" y2="427.90" stroke="#505050" stroke-width="1.1"/>
<text x="168.62" y="439.00" text-anchor="middle" font-size="8.7" fill="#161616" font-family="Liberation Sans, sans-serif" stroke="#1a1a1a" stroke-width="0.22" paint-order="stroke">4</text>
<line x1="201.95" y1="424.40" x2="201.95" y2="427.90" stroke="#505050" stroke-width="1.1"/>
<text x="201.95" y="439.00" text-anchor="middle" font-size="8.7" fill="#161616" font-family="Liberation Sans, sans-serif" stroke="#1a1a1a" stroke-width="0.22" paint-order="stroke">5</text>
<line x1="235.28" y1="424.40" x2="235.28" y2="427.90" stroke="#505050" stroke-width="1.1"/>
<text x="235.28" y="439.00" text-anchor="middle" font-size="8.7" fill="#161616" font-family="Liberation Sans, sans-serif" stroke="#1a1a1a" stroke-width="0.22" paint-order="stroke">6</text>
<line x1="268.61" y1="424.40" x2="268.61" y2="427.90" stroke="#505050" stroke-width="1.1"/>
<text x="268.61" y="439.00" text-anchor="middle" font-size="8.7" fill="#161616" font-family="Liberation Sans, sans-serif" stroke="#1a1a1a" stroke-width="0.22" paint-order="stroke">7</text>
<line x1="301.94" y1="424.40" x2="301.94" y2="427.90" stroke="#505050" stroke-width="1.1"/>
<text x="301.94" y="439.00" text-anchor="middle" font-size="8.7" fill="#161616" font-family="Liberation Sans, sans-serif" stroke="#1a1a1a" stroke-width="0.22" paint-order="stroke">8</text>
<text x="181.30" y="446.60" text-anchor="middle" font-size="8.7" fill="#161616" font-family="Liberation Sans, sans-serif" stroke="#1a1a1a" stroke-width="0.22" paint-order="stroke">Years after primary surgery</text>
<text x="0" y="0" transform="translate(13.20,228.80) rotate(-90)" text-anchor="middle" font-size="8.7" fill="#161616" font-family="Liberation Sans, sans-serif" stroke="#1a1a1a" stroke-width="0.22" paint-order="stroke">Survival probability</text>
<rect x="99.50" y="453.60" width="163.60" height="31.90" fill="#fff" stroke="#8a8a8a" stroke-width="1.2"/>
<line x1="103.00" y1="461.70" x2="136.00" y2="461.70" stroke="#3f853f" stroke-width="1.40" stroke-opacity="0.95"/>
<text x="147.30" y="464.80" font-size="8.7" fill="#161616" font-family="Liberation Sans, sans-serif" stroke="#1a1a1a" stroke-width="0.22" paint-order="stroke">HA</text>
<line x1="190.70" y1="461.70" x2="223.70" y2="461.70" stroke="#e2a262" stroke-width="1.40" stroke-opacity="0.95"/>
<text x="235.00" y="464.80" font-size="8.7" fill="#161616" font-family="Liberation Sans, sans-serif" stroke="#1a1a1a" stroke-width="0.22" paint-order="stroke">RTSR</text>
<line x1="103.00" y1="477.90" x2="136.00" y2="477.90" stroke="#7a76e0" stroke-width="1.40" stroke-opacity="0.95"/>
<text x="147.30" y="481.00" font-size="8.7" fill="#161616" font-family="Liberation Sans, sans-serif" stroke="#1a1a1a" stroke-width="0.22" paint-order="stroke">TSR</text>
<line x1="381.30" y1="38.50" x2="683.10" y2="38.50" stroke="#e4e4e4" stroke-width="1" stroke-opacity="1.00"/>
<line x1="381.30" y1="86.10" x2="683.10" y2="86.10" stroke="#e4e4e4" stroke-width="1" stroke-opacity="1.00"/>
<line x1="381.30" y1="133.70" x2="683.10" y2="133.70" stroke="#e4e4e4" stroke-width="1" stroke-opacity="1.00"/>
<line x1="381.30" y1="181.30" x2="683.10" y2="181.30" stroke="#e4e4e4" stroke-width="1" stroke-opacity="1.00"/>
<line x1="381.30" y1="228.90" x2="683.10" y2="228.90" stroke="#e4e4e4" stroke-width="1" stroke-opacity="1.00"/>
<line x1="381.30" y1="276.50" x2="683.10" y2="276.50" stroke="#e4e4e4" stroke-width="1" stroke-opacity="1.00"/>
<line x1="381.30" y1="324.10" x2="683.10" y2="324.10" stroke="#e4e4e4" stroke-width="1" stroke-opacity="1.00"/>
<line x1="381.30" y1="371.70" x2="683.10" y2="371.70" stroke="#e4e4e4" stroke-width="1" stroke-opacity="1.00"/>
<polygon points="386.10,38.50 386.10,38.51 386.13,38.54 386.20,38.60 386.31,38.70 386.52,38.87 386.73,39.03 386.94,39.19 387.15,39.34 387.37,39.49 387.58,39.63 387.79,39.78 388.00,39.92 388.21,40.06 388.42,40.19 388.63,40.33 388.84,40.46 389.05,40.60 389.26,40.73 389.48,40.86 389.69,40.99 389.90,41.12 390.11,41.25 390.32,41.38 390.53,41.51 390.74,41.64 390.95,41.76 391.16,41.89 391.37,42.01 391.58,42.14 391.80,42.26 392.01,42.39 392.22,42.51 392.43,42.63 392.64,42.75 392.85,42.88 393.06,43.00 393.27,43.12 393.48,43.24 393.69,43.36 393.91,43.48 394.12,43.60 394.33,43.72 394.54,43.84 394.75,43.95 394.96,44.07 395.17,44.19 395.38,44.31 395.59,44.42 395.80,44.54 396.01,44.66 396.23,44.77 396.44,44.89 396.65,45.01 396.86,45.12 397.07,45.24 397.28,45.35 397.49,45.47 397.70,45.58 397.91,45.69 398.12,45.81 398.34,45.92 398.55,46.04 398.76,46.15 398.97,46.26 399.18,46.38 399.39,46.49 399.60,46.60 399.81,46.71 400.02,46.83 400.23,46.94 400.44,47.05 400.66,47.16 400.87,47.27 401.08,47.38 401.29,47.49 401.50,47.60 401.71,47.72 401.92,47.83 402.13,47.94 402.34,48.05 402.55,48.16 402.77,48.27 404.50,49.18 406.23,50.11 407.96,51.06 409.69,52.03 411.42,53.01 413.15,54.00 414.88,55.00 416.61,56.01 418.34,57.03 420.07,58.06 421.80,59.09 423.53,60.13 425.26,61.17 426.99,62.22 428.72,63.26 430.45,64.31 432.18,65.36 433.91,66.41 435.64,67.46 437.37,68.51 439.10,69.56 440.83,70.61 442.57,71.66 444.30,72.70 446.03,73.74 447.76,74.78 449.49,75.81 451.22,76.85 452.95,77.87 454.68,78.90 456.41,79.92 458.14,80.93 459.87,81.94 461.60,82.95 463.33,83.95 465.06,84.94 466.79,85.93 468.52,86.92 470.25,87.90 471.98,88.87 473.71,89.84 475.44,90.80 477.17,91.76 478.90,92.70 480.63,93.65 482.37,94.58 484.10,95.51 485.83,96.44 487.56,97.35 489.29,98.26 491.02,99.17 492.75,100.07 494.48,100.96 496.21,101.84 497.94,102.72 499.67,103.59 501.40,104.45 503.13,105.31 504.86,106.16 506.59,107.00 508.32,107.83 510.05,108.66 511.78,109.49 513.51,110.30 515.24,111.11 516.97,111.91 518.70,112.70 520.43,113.49 522.17,114.27 523.90,115.05 525.63,115.81 527.36,116.57 529.09,117.33 530.82,118.07 532.55,118.81 534.28,119.55 536.01,120.27 537.74,120.99 539.47,121.71 541.20,122.41 542.93,123.11 544.66,123.81 546.39,124.49 548.12,125.17 549.85,125.85 551.58,126.52 553.31,127.18 555.04,127.83 556.77,128.48 558.50,129.12 560.23,129.76 561.97,130.39 563.70,131.01 565.43,131.63 567.16,132.24 568.89,132.84 570.62,133.44 572.35,134.03 574.08,134.62 575.81,135.20 577.54,135.77 579.27,136.34 581.00,136.90 582.73,137.46 584.46,138.01 586.19,138.56 587.92,139.10 589.65,139.63 591.38,140.16 593.11,140.68 594.84,141.20 596.57,141.71 598.30,142.22 600.03,142.72 601.77,143.21 603.50,143.70 605.23,144.19 606.96,144.67 608.69,145.14 610.42,145.61 612.15,146.07 613.88,146.53 615.61,146.98 617.34,147.43 619.07,147.88 620.80,148.31 622.53,148.75 624.26,149.18 625.99,149.60 627.72,150.02 629.45,150.43 631.18,150.84 632.91,151.25 634.64,151.65 636.37,152.04 638.10,152.43 639.83,152.82 641.57,153.20 643.30,153.58 645.03,153.95 646.76,154.32 648.49,154.68 650.22,155.04 651.95,155.39 653.68,155.74 655.41,156.09 657.14,156.43 658.87,156.77 660.60,157.10 662.33,157.43 664.06,157.76 665.79,158.08 667.52,158.40 669.25,158.71 670.98,159.02 672.71,159.32 674.44,159.63 676.17,159.92 677.90,160.22 677.90,200.08 676.17,199.26 674.44,198.45 672.71,197.64 670.98,196.84 669.25,196.05 667.52,195.25 665.79,194.47 664.06,193.69 662.33,192.91 660.60,192.13 658.87,191.36 657.14,190.60 655.41,189.84 653.68,189.08 651.95,188.33 650.22,187.58 648.49,186.83 646.76,186.09 645.03,185.35 643.30,184.62 641.57,183.88 639.83,183.15 638.10,182.43 636.37,181.70 634.64,180.98 632.91,180.26 631.18,179.55 629.45,178.83 627.72,178.12 625.99,177.41 624.26,176.70 622.53,175.99 620.80,175.29 619.07,174.58 617.34,173.88 615.61,173.18 613.88,172.48 612.15,171.77 610.42,171.07 608.69,170.37 606.96,169.67 605.23,168.97 603.50,168.27 601.77,167.57 600.03,166.87 598.30,166.17 596.57,165.46 594.84,164.76 593.11,164.05 591.38,163.34 589.65,162.63 587.92,161.91 586.19,161.19 584.46,160.47 582.73,159.75 581.00,159.02 579.27,158.29 577.54,157.56 575.81,156.82 574.08,156.07 572.35,155.32 570.62,154.57 568.89,153.81 567.16,153.04 565.43,152.27 563.70,151.50 561.97,150.72 560.23,149.93 558.50,149.14 556.77,148.34 555.04,147.54 553.31,146.73 551.58,145.92 549.85,145.10 548.12,144.27 546.39,143.44 544.66,142.61 542.93,141.77 541.20,140.92 539.47,140.06 537.74,139.20 536.01,138.34 534.28,137.47 532.55,136.59 530.82,135.70 529.09,134.81 527.36,133.92 525.63,133.01 523.90,132.10 522.17,131.19 520.43,130.27 518.70,129.34 516.97,128.40 515.24,127.46 513.51,126.51 511.78,125.56 510.05,124.59 508.32,123.63 506.59,122.65 504.86,121.67 503.13,120.68 501.40,119.68 499.67,118.67 497.94,117.66 496.21,116.64 494.48,115.62 492.75,114.59 491.02,113.54 489.29,112.50 487.56,111.44 485.83,110.38 484.10,109.31 482.37,108.23 480.63,107.14 478.90,106.05 477.17,104.95 475.44,103.85 473.71,102.73 471.98,101.62 470.25,100.50 468.52,99.37 466.79,98.24 465.06,97.10 463.33,95.96 461.60,94.82 459.87,93.67 458.14,92.52 456.41,91.37 454.68,90.22 452.95,89.07 451.22,87.91 449.49,86.76 447.76,85.61 446.03,84.46 444.30,83.32 442.57,82.17 440.83,81.04 439.10,79.90 437.37,78.78 435.64,77.66 433.91,76.56 432.18,75.46 430.45,74.38 428.72,73.31 426.99,72.25 425.26,71.20 423.53,70.13 421.80,69.06 420.07,67.96 418.34,66.82 416.61,65.62 414.88,64.36 413.15,63.01 411.42,61.55 409.69,59.96 407.96,58.21 406.23,56.29 404.50,54.18 402.77,51.87 402.55,51.58 402.34,51.29 402.13,51.01 401.92,50.73 401.71,50.45 401.50,50.17 401.29,49.89 401.08,49.62 400.87,49.35 400.66,49.09 400.44,48.82 400.23,48.56 400.02,48.30 399.81,48.05 399.60,47.80 399.39,47.55 399.18,47.30 398.97,47.06 398.76,46.82 398.55,46.58 398.34,46.34 398.12,46.11 397.91,45.88 397.70,45.66 397.49,45.43 397.28,45.21 397.07,44.99 396.86,44.78 396.65,44.57 396.44,44.36 396.23,44.15 396.01,43.95 395.80,43.75 395.59,43.56 395.38,43.37 395.17,43.18 394.96,42.99 394.75,42.81 394.54,42.63 394.33,42.45 394.12,42.28 393.91,42.11 393.69,41.94 393.48,41.78 393.27,41.61 393.06,41.46 392.85,41.30 392.64,41.15 392.43,41.01 392.22,40.87 392.01,40.73 391.80,40.59 391.58,40.46 391.37,40.33 391.16,40.21 390.95,40.08 390.74,39.97 390.53,39.85 390.32,39.74 390.11,39.64 389.90,39.54 389.69,39.44 389.48,39.35 389.26,39.26 389.05,39.17 388.84,39.09 388.63,39.01 388.42,38.94 388.21,38.87 388.00,38.81 387.79,38.75 387.58,38.70 387.37,38.65 387.15,38.61 386.94,38.58 386.73,38.55 386.52,38.52 386.31,38.51 386.20,38.50 386.13,38.50 386.10,38.50 386.10,38.50" fill="#2a962a" fill-opacity="0.200"/>
<polyline points="386.10,38.50 386.10,38.50 386.13,38.52 386.20,38.55 386.31,38.61 386.52,38.73 386.73,38.86 386.94,38.99 387.15,39.12 387.37,39.26 387.58,39.40 387.79,39.53 388.00,39.67 388.21,39.81 388.42,39.95 388.63,40.10 388.84,40.24 389.05,40.38 389.26,40.53 389.48,40.67 389.69,40.82 389.90,40.97 390.11,41.11 390.32,41.26 390.53,41.41 390.74,41.56 390.95,41.71 391.16,41.86 391.37,42.01 391.58,42.16 391.80,42.31 392.01,42.46 392.22,42.62 392.43,42.77 392.64,42.92 392.85,43.08 393.06,43.23 393.27,43.38 393.48,43.54 393.69,43.69 393.91,43.85 394.12,44.00 394.33,44.16 394.54,44.31 394.75,44.47 394.96,44.62 395.17,44.78 395.38,44.94 395.59,45.10 395.80,45.25 396.01,45.41 396.23,45.57 396.44,45.73 396.65,45.88 396.86,46.04 397.07,46.20 397.28,46.36 397.49,46.52 397.70,46.68 397.91,46.84 398.12,47.00 398.34,47.16 398.55,47.32 398.76,47.48 398.97,47.64 399.18,47.80 399.39,47.96 399.60,48.12 399.81,48.28 400.02,48.44 400.23,48.60 400.44,48.77 400.66,48.93 400.87,49.09 401.08,49.25 401.29,49.41 401.50,49.58 401.71,49.74 401.92,49.90 402.13,50.07 402.34,50.23 402.55,50.39 402.77,50.56 404.50,51.88 406.23,53.17 407.96,54.43 409.69,55.67 411.42,56.88 413.15,58.07 414.88,59.24 416.61,60.39 418.34,61.53 420.07,62.65 421.80,63.76 423.53,64.86 425.26,65.95 426.99,67.03 428.72,68.10 430.45,69.17 432.18,70.22 433.91,71.28 435.64,72.33 437.37,73.37 439.10,74.41 440.83,75.45 442.57,76.48 444.30,77.52 446.03,78.55 447.76,79.58 449.49,80.61 451.22,81.64 452.95,82.67 454.68,83.69 456.41,84.72 458.14,85.75 459.87,86.79 461.60,87.82 463.33,88.85 465.06,89.89 466.79,90.92 468.52,91.96 470.25,93.00 471.98,94.05 473.71,95.09 475.44,96.13 477.17,97.18 478.90,98.22 480.63,99.26 482.37,100.29 484.10,101.32 485.83,102.35 487.56,103.37 489.29,104.39 491.02,105.40 492.75,106.40 494.48,107.40 496.21,108.39 497.94,109.37 499.67,110.34 501.40,111.30 503.13,112.25 504.86,113.19 506.59,114.12 508.32,115.04 510.05,115.95 511.78,116.85 513.51,117.74 515.24,118.61 516.97,119.47 518.70,120.32 520.43,121.16 522.17,121.98 523.90,122.79 525.63,123.59 527.36,124.38 529.09,125.16 530.82,125.92 532.55,126.68 534.28,127.43 536.01,128.17 537.74,128.90 539.47,129.62 541.20,130.33 542.93,131.04 544.66,131.74 546.39,132.43 548.12,133.11 549.85,133.79 551.58,134.46 553.31,135.13 555.04,135.79 556.77,136.45 558.50,137.10 560.23,137.75 561.97,138.39 563.70,139.03 565.43,139.66 567.16,140.29 568.89,140.92 570.62,141.54 572.35,142.16 574.08,142.78 575.81,143.40 577.54,144.01 579.27,144.62 581.00,145.23 582.73,145.84 584.46,146.45 586.19,147.05 587.92,147.65 589.65,148.26 591.38,148.86 593.11,149.46 594.84,150.06 596.57,150.65 598.30,151.25 600.03,151.85 601.77,152.45 603.50,153.05 605.23,153.64 606.96,154.24 608.69,154.84 610.42,155.44 612.15,156.04 613.88,156.64 615.61,157.24 617.34,157.84 619.07,158.44 620.80,159.05 622.53,159.65 624.26,160.26 625.99,160.86 627.72,161.47 629.45,162.08 631.18,162.69 632.91,163.30 634.64,163.92 636.37,164.54 638.10,165.15 639.83,165.77 641.57,166.40 643.30,167.02 645.03,167.65 646.76,168.28 648.49,168.91 650.22,169.54 651.95,170.18 653.68,170.81 655.41,171.45 657.14,172.10 658.87,172.74 660.60,173.39 662.33,174.04 664.06,174.70 665.79,175.36 667.52,176.02 669.25,176.68 670.98,177.35 672.71,178.01 674.44,178.69 676.17,179.36 677.90,180.04" fill="none" stroke="#338833" stroke-width="1.10" stroke-linejoin="round"/>
<polygon points="386.10,38.50 386.10,38.51 386.13,38.55 386.20,38.64 386.31,38.78 386.52,39.04 386.73,39.29 386.94,39.54 387.15,39.79 387.37,40.03 387.58,40.27 387.79,40.51 388.00,40.75 388.21,40.99 388.42,41.22 388.63,41.46 388.84,41.69 389.05,41.93 389.26,42.16 389.48,42.39 389.69,42.62 389.90,42.85 390.11,43.08 390.32,43.31 390.53,43.54 390.74,43.77 390.95,43.99 391.16,44.22 391.37,44.45 391.58,44.67 391.80,44.90 392.01,45.12 392.22,45.35 392.43,45.57 392.64,45.80 392.85,46.02 393.06,46.24 393.27,46.46 393.48,46.69 393.69,46.91 393.91,47.13 394.12,47.35 394.33,47.57 394.54,47.79 394.75,48.01 394.96,48.23 395.17,48.45 395.38,48.67 395.59,48.89 395.80,49.11 396.01,49.33 396.23,49.55 396.44,49.77 396.65,49.99 396.86,50.21 397.07,50.42 397.28,50.64 397.49,50.86 397.70,51.08 397.91,51.29 398.12,51.51 398.34,51.73 398.55,51.94 398.76,52.16 398.97,52.37 399.18,52.59 399.39,52.81 399.60,53.02 399.81,53.24 400.02,53.45 400.23,53.67 400.44,53.88 400.66,54.09 400.87,54.31 401.08,54.52 401.29,54.74 401.50,54.95 401.71,55.16 401.92,55.38 402.13,55.59 402.34,55.80 402.55,56.02 402.77,56.23 404.50,57.93 406.23,59.56 407.96,61.11 409.69,62.59 411.42,64.00 413.15,65.36 414.88,66.66 416.61,67.91 418.34,69.11 420.07,70.27 421.80,71.39 423.53,72.46 425.26,73.51 426.99,74.52 428.72,75.49 430.45,76.44 432.18,77.36 433.91,78.26 435.64,79.13 437.37,79.97 439.10,80.80 440.83,81.60 442.57,82.38 444.30,83.15 446.03,83.89 447.76,84.62 449.49,85.33 451.22,86.03 452.95,86.71 454.68,87.38 456.41,88.04 458.14,88.68 459.87,89.31 461.60,89.93 463.33,90.54 465.06,91.13 466.79,91.72 468.52,92.30 470.25,92.86 471.98,93.42 473.71,93.97 475.44,94.51 477.17,95.04 478.90,95.56 480.63,96.08 482.37,96.59 484.10,97.09 485.83,97.58 487.56,98.07 489.29,98.55 491.02,99.03 492.75,99.50 494.48,99.96 496.21,100.42 497.94,100.87 499.67,101.32 501.40,101.76 503.13,102.19 504.86,102.63 506.59,103.05 508.32,103.47 510.05,103.89 511.78,104.31 513.51,104.72 515.24,105.12 516.97,105.52 518.70,105.92 520.43,106.31 522.17,106.70 523.90,107.09 525.63,107.47 527.36,107.85 529.09,108.23 530.82,108.60 532.55,108.97 534.28,109.33 536.01,109.70 537.74,110.06 539.47,110.42 541.20,110.77 542.93,111.12 544.66,111.47 546.39,111.82 548.12,112.16 549.85,112.50 551.58,112.84 553.31,113.18 555.04,113.51 556.77,113.85 558.50,114.18 560.23,114.50 561.97,114.83 563.70,115.15 565.43,115.47 567.16,115.79 568.89,116.11 570.62,116.43 572.35,116.74 574.08,117.05 575.81,117.36 577.54,117.67 579.27,117.97 581.00,118.28 582.73,118.58 584.46,118.88 586.19,119.18 587.92,119.48 589.65,119.78 591.38,120.07 593.11,120.36 594.84,120.66 596.57,120.95 598.30,121.24 600.03,121.52 601.77,121.81 603.50,122.09 605.23,122.38 606.96,122.66 608.69,122.94 610.42,123.22 612.15,123.50 613.88,123.77 615.61,124.05 617.34,124.32 619.07,124.60 620.80,124.87 622.53,125.14 624.26,125.41 625.99,125.68 627.72,125.95 629.45,126.21 631.18,126.48 632.91,126.74 634.64,127.01 636.37,127.27 638.10,127.53 639.83,127.79 641.57,128.05 643.30,128.31 645.03,128.57 646.76,128.83 648.49,129.08 650.22,129.34 651.95,129.59 653.68,129.84 655.41,130.10 657.14,130.35 658.87,130.60 660.60,130.85 662.33,131.10 664.06,131.35 665.79,131.59 667.52,131.84 669.25,132.09 670.98,132.33 672.71,132.58 674.44,132.82 676.17,133.06 677.90,133.31 677.90,169.91 676.17,169.50 674.44,169.08 672.71,168.67 670.98,168.25 669.25,167.83 667.52,167.41 665.79,166.99 664.06,166.57 662.33,166.15 660.60,165.73 658.87,165.31 657.14,164.89 655.41,164.46 653.68,164.04 651.95,163.61 650.22,163.19 648.49,162.76 646.76,162.33 645.03,161.90 643.30,161.47 641.57,161.04 639.83,160.61 638.10,160.17 636.37,159.74 634.64,159.30 632.91,158.87 631.18,158.43 629.45,157.99 627.72,157.55 625.99,157.11 624.26,156.67 622.53,156.23 620.80,155.79 619.07,155.34 617.34,154.90 615.61,154.45 613.88,154.00 612.15,153.55 610.42,153.10 608.69,152.65 606.96,152.20 605.23,151.74 603.50,151.29 601.77,150.83 600.03,150.37 598.30,149.91 596.57,149.45 594.84,148.99 593.11,148.53 591.38,148.06 589.65,147.60 587.92,147.13 586.19,146.66 584.46,146.19 582.73,145.72 581.00,145.24 579.27,144.77 577.54,144.29 575.81,143.81 574.08,143.33 572.35,142.85 570.62,142.36 568.89,141.88 567.16,141.39 565.43,140.90 563.70,140.41 561.97,139.92 560.23,139.42 558.50,138.92 556.77,138.42 555.04,137.92 553.31,137.42 551.58,136.91 549.85,136.40 548.12,135.89 546.39,135.38 544.66,134.87 542.93,134.35 541.20,133.83 539.47,133.31 537.74,132.78 536.01,132.26 534.28,131.73 532.55,131.19 530.82,130.66 529.09,130.12 527.36,129.58 525.63,129.04 523.90,128.49 522.17,127.94 520.43,127.38 518.70,126.83 516.97,126.27 515.24,125.70 513.51,125.14 511.78,124.57 510.05,123.99 508.32,123.41 506.59,122.83 504.86,122.24 503.13,121.65 501.40,121.06 499.67,120.46 497.94,119.86 496.21,119.25 494.48,118.64 492.75,118.02 491.02,117.40 489.29,116.77 487.56,116.13 485.83,115.49 484.10,114.85 482.37,114.20 480.63,113.54 478.90,112.88 477.17,112.21 475.44,111.53 473.71,110.85 471.98,110.16 470.25,109.46 468.52,108.75 466.79,108.04 465.06,107.31 463.33,106.58 461.60,105.84 459.87,105.09 458.14,104.33 456.41,103.56 454.68,102.77 452.95,101.98 451.22,101.17 449.49,100.35 447.76,99.52 446.03,98.68 444.30,97.82 442.57,96.94 440.83,96.05 439.10,95.14 437.37,94.21 435.64,93.26 433.91,92.29 432.18,91.30 430.45,90.29 428.72,89.25 426.99,88.18 425.26,87.08 423.53,85.96 421.80,84.79 420.07,83.60 418.34,82.36 416.61,81.07 414.88,79.74 413.15,78.36 411.42,76.92 409.69,75.41 407.96,73.82 406.23,72.16 404.50,70.39 402.77,68.52 402.55,68.28 402.34,68.05 402.13,67.81 401.92,67.57 401.71,67.33 401.50,67.08 401.29,66.84 401.08,66.60 400.87,66.35 400.66,66.10 400.44,65.85 400.23,65.60 400.02,65.35 399.81,65.10 399.60,64.84 399.39,64.59 399.18,64.33 398.97,64.07 398.76,63.81 398.55,63.55 398.34,63.28 398.12,63.02 397.91,62.75 397.70,62.48 397.49,62.21 397.28,61.93 397.07,61.66 396.86,61.38 396.65,61.10 396.44,60.82 396.23,60.53 396.01,60.25 395.80,59.96 395.59,59.67 395.38,59.37 395.17,59.08 394.96,58.78 394.75,58.48 394.54,58.17 394.33,57.87 394.12,57.56 393.91,57.24 393.69,56.93 393.48,56.61 393.27,56.28 393.06,55.96 392.85,55.62 392.64,55.29 392.43,54.95 392.22,54.61 392.01,54.26 391.80,53.91 391.58,53.55 391.37,53.19 391.16,52.82 390.95,52.44 390.74,52.06 390.53,51.68 390.32,51.28 390.11,50.88 389.90,50.47 389.69,50.05 389.48,49.62 389.26,49.19 389.05,48.74 388.84,48.27 388.63,47.80 388.42,47.31 388.21,46.80 388.00,46.27 387.79,45.72 387.58,45.15 387.37,44.54 387.15,43.89 386.94,43.19 386.73,42.42 386.52,41.54 386.31,40.47 386.20,39.74 386.13,39.12 386.10,38.65 386.10,38.50" fill="#f58c28" fill-opacity="0.180"/>
<polyline points="386.10,38.50 386.10,38.53 386.13,38.67 386.20,38.92 386.31,39.27 386.52,39.84 386.73,40.36 386.94,40.85 387.15,41.31 387.37,41.75 387.58,42.18 387.79,42.60 388.00,43.01 388.21,43.40 388.42,43.80 388.63,44.18 388.84,44.56 389.05,44.93 389.26,45.30 389.48,45.66 389.69,46.02 389.90,46.37 390.11,46.72 390.32,47.07 390.53,47.41 390.74,47.75 390.95,48.09 391.16,48.42 391.37,48.75 391.58,49.08 391.80,49.40 392.01,49.73 392.22,50.05 392.43,50.37 392.64,50.69 392.85,51.00 393.06,51.31 393.27,51.62 393.48,51.93 393.69,52.24 393.91,52.55 394.12,52.85 394.33,53.15 394.54,53.45 394.75,53.75 394.96,54.05 395.17,54.34 395.38,54.63 395.59,54.91 395.80,55.19 396.01,55.47 396.23,55.75 396.44,56.02 396.65,56.29 396.86,56.56 397.07,56.83 397.28,57.09 397.49,57.35 397.70,57.61 397.91,57.86 398.12,58.12 398.34,58.37 398.55,58.62 398.76,58.86 398.97,59.11 399.18,59.35 399.39,59.59 399.60,59.83 399.81,60.07 400.02,60.30 400.23,60.53 400.44,60.77 400.66,60.99 400.87,61.22 401.08,61.45 401.29,61.67 401.50,61.89 401.71,62.11 401.92,62.33 402.13,62.55 402.34,62.77 402.55,62.98 402.77,63.19 404.50,64.88 406.23,66.48 407.96,68.01 409.69,69.46 411.42,70.85 413.15,72.19 414.88,73.47 416.61,74.71 418.34,75.91 420.07,77.06 421.80,78.18 423.53,79.27 425.26,80.33 426.99,81.35 428.72,82.35 430.45,83.33 432.18,84.28 433.91,85.21 435.64,86.11 437.37,87.00 439.10,87.87 440.83,88.72 442.57,89.56 444.30,90.37 446.03,91.18 447.76,91.96 449.49,92.74 451.22,93.50 452.95,94.25 454.68,94.98 456.41,95.70 458.14,96.42 459.87,97.12 461.60,97.81 463.33,98.49 465.06,99.16 466.79,99.83 468.52,100.48 470.25,101.13 471.98,101.76 473.71,102.39 475.44,103.01 477.17,103.63 478.90,104.24 480.63,104.84 482.37,105.43 484.10,106.01 485.83,106.59 487.56,107.17 489.29,107.74 491.02,108.30 492.75,108.85 494.48,109.40 496.21,109.95 497.94,110.49 499.67,111.02 501.40,111.55 503.13,112.08 504.86,112.60 506.59,113.12 508.32,113.63 510.05,114.13 511.78,114.64 513.51,115.14 515.24,115.63 516.97,116.12 518.70,116.61 520.43,117.09 522.17,117.57 523.90,118.05 525.63,118.52 527.36,118.99 529.09,119.45 530.82,119.91 532.55,120.37 534.28,120.83 536.01,121.28 537.74,121.73 539.47,122.17 541.20,122.62 542.93,123.06 544.66,123.49 546.39,123.93 548.12,124.36 549.85,124.79 551.58,125.22 553.31,125.64 555.04,126.06 556.77,126.48 558.50,126.90 560.23,127.31 561.97,127.72 563.70,128.13 565.43,128.54 567.16,128.95 568.89,129.35 570.62,129.75 572.35,130.15 574.08,130.55 575.81,130.94 577.54,131.33 579.27,131.72 581.00,132.11 582.73,132.50 584.46,132.88 586.19,133.26 587.92,133.65 589.65,134.02 591.38,134.40 593.11,134.78 594.84,135.15 596.57,135.52 598.30,135.89 600.03,136.26 601.77,136.63 603.50,136.99 605.23,137.36 606.96,137.72 608.69,138.08 610.42,138.44 612.15,138.80 613.88,139.15 615.61,139.51 617.34,139.86 619.07,140.21 620.80,140.56 622.53,140.91 624.26,141.26 625.99,141.61 627.72,141.95 629.45,142.29 631.18,142.64 632.91,142.98 634.64,143.32 636.37,143.66 638.10,143.99 639.83,144.33 641.57,144.66 643.30,145.00 645.03,145.33 646.76,145.66 648.49,145.99 650.22,146.32 651.95,146.65 653.68,146.97 655.41,147.30 657.14,147.62 658.87,147.95 660.60,148.27 662.33,148.59 664.06,148.91 665.79,149.23 667.52,149.55 669.25,149.86 670.98,150.18 672.71,150.50 674.44,150.81 676.17,151.12 677.90,151.44" fill="none" stroke="#e88a38" stroke-width="1.10" stroke-linejoin="round"/>
<polygon points="386.10,38.50 386.10,38.51 386.13,38.58 386.20,38.71 386.31,38.90 386.52,39.24 386.73,39.56 386.94,39.86 387.15,40.15 387.37,40.44 387.58,40.72 387.79,41.00 388.00,41.27 388.21,41.54 388.42,41.80 388.63,42.06 388.84,42.32 389.05,42.58 389.26,42.83 389.48,43.09 389.69,43.34 389.90,43.59 390.11,43.83 390.32,44.08 390.53,44.32 390.74,44.56 390.95,44.80 391.16,45.04 391.37,45.28 391.58,45.52 391.80,45.76 392.01,45.99 392.22,46.22 392.43,46.46 392.64,46.69 392.85,46.92 393.06,47.15 393.27,47.38 393.48,47.61 393.69,47.84 393.91,48.06 394.12,48.29 394.33,48.51 394.54,48.74 394.75,48.96 394.96,49.18 395.17,49.40 395.38,49.62 395.59,49.84 395.80,50.06 396.01,50.27 396.23,50.49 396.44,50.70 396.65,50.91 396.86,51.12 397.07,51.33 397.28,51.53 397.49,51.74 397.70,51.95 397.91,52.15 398.12,52.35 398.34,52.55 398.55,52.75 398.76,52.95 398.97,53.15 399.18,53.35 399.39,53.54 399.60,53.74 399.81,53.93 400.02,54.12 400.23,54.32 400.44,54.51 400.66,54.69 400.87,54.88 401.08,55.07 401.29,55.26 401.50,55.44 401.71,55.63 401.92,55.81 402.13,55.99 402.34,56.17 402.55,56.35 402.77,56.53 404.50,57.97 406.23,59.34 407.96,60.67 409.69,61.94 411.42,63.16 413.15,64.34 414.88,65.47 416.61,66.57 418.34,67.62 420.07,68.65 421.80,69.63 423.53,70.59 425.26,71.52 426.99,72.41 428.72,73.28 430.45,74.12 432.18,74.94 433.91,75.74 435.64,76.51 437.37,77.25 439.10,77.98 440.83,78.69 442.57,79.38 444.30,80.05 446.03,80.70 447.76,81.33 449.49,81.95 451.22,82.55 452.95,83.14 454.68,83.71 456.41,84.26 458.14,84.81 459.87,85.33 461.60,85.85 463.33,86.35 465.06,86.84 466.79,87.32 468.52,87.79 470.25,88.25 471.98,88.69 473.71,89.13 475.44,89.55 477.17,89.97 478.90,90.38 480.63,90.77 482.37,91.16 484.10,91.54 485.83,91.91 487.56,92.27 489.29,92.63 491.02,92.97 492.75,93.31 494.48,93.64 496.21,93.97 497.94,94.28 499.67,94.59 501.40,94.90 503.13,95.20 504.86,95.49 506.59,95.77 508.32,96.05 510.05,96.32 511.78,96.59 513.51,96.85 515.24,97.10 516.97,97.35 518.70,97.60 520.43,97.84 522.17,98.07 523.90,98.30 525.63,98.53 527.36,98.75 529.09,98.97 530.82,99.18 532.55,99.38 534.28,99.59 536.01,99.79 537.74,99.98 539.47,100.17 541.20,100.36 542.93,100.54 544.66,100.72 546.39,100.89 548.12,101.07 549.85,101.23 551.58,101.40 553.31,101.56 555.04,101.72 556.77,101.87 558.50,102.02 560.23,102.17 561.97,102.32 563.70,102.46 565.43,102.60 567.16,102.73 568.89,102.87 570.62,103.00 572.35,103.13 574.08,103.25 575.81,103.37 577.54,103.49 579.27,103.61 581.00,103.73 582.73,103.84 584.46,103.95 586.19,104.06 587.92,104.16 589.65,104.27 591.38,104.37 593.11,104.47 594.84,104.56 596.57,104.66 598.30,104.75 600.03,104.84 601.77,104.93 603.50,105.01 605.23,105.10 606.96,105.18 608.69,105.26 610.42,105.34 612.15,105.42 613.88,105.49 615.61,105.57 617.34,105.64 619.07,105.71 620.80,105.78 622.53,105.84 624.26,105.91 625.99,105.97 627.72,106.03 629.45,106.09 631.18,106.15 632.91,106.21 634.64,106.27 636.37,106.32 638.10,106.38 639.83,106.43 641.57,106.48 643.30,106.53 645.03,106.57 646.76,106.62 648.49,106.67 650.22,106.71 651.95,106.75 653.68,106.79 655.41,106.83 657.14,106.87 658.87,106.91 660.60,106.95 662.33,106.98 664.06,107.02 665.79,107.05 667.52,107.08 669.25,107.11 670.98,107.14 672.71,107.17 674.44,107.20 676.17,107.23 677.90,107.25 677.90,151.03 676.17,150.90 674.44,150.77 672.71,150.63 670.98,150.49 669.25,150.36 667.52,150.22 665.79,150.08 664.06,149.93 662.33,149.79 660.60,149.64 658.87,149.49 657.14,149.34 655.41,149.19 653.68,149.04 651.95,148.88 650.22,148.72 648.49,148.56 646.76,148.40 645.03,148.24 643.30,148.07 641.57,147.90 639.83,147.73 638.10,147.56 636.37,147.39 634.64,147.21 632.91,147.03 631.18,146.85 629.45,146.67 627.72,146.48 625.99,146.30 624.26,146.11 622.53,145.91 620.80,145.72 619.07,145.52 617.34,145.32 615.61,145.12 613.88,144.91 612.15,144.71 610.42,144.50 608.69,144.28 606.96,144.07 605.23,143.85 603.50,143.63 601.77,143.41 600.03,143.18 598.30,142.95 596.57,142.72 594.84,142.48 593.11,142.24 591.38,142.00 589.65,141.76 587.92,141.51 586.19,141.26 584.46,141.01 582.73,140.75 581.00,140.49 579.27,140.22 577.54,139.96 575.81,139.69 574.08,139.41 572.35,139.13 570.62,138.85 568.89,138.57 567.16,138.28 565.43,137.98 563.70,137.69 561.97,137.39 560.23,137.08 558.50,136.77 556.77,136.46 555.04,136.14 553.31,135.82 551.58,135.49 549.85,135.16 548.12,134.83 546.39,134.49 544.66,134.14 542.93,133.79 541.20,133.44 539.47,133.08 537.74,132.72 536.01,132.35 534.28,131.97 532.55,131.59 530.82,131.21 529.09,130.82 527.36,130.42 525.63,130.02 523.90,129.61 522.17,129.20 520.43,128.78 518.70,128.35 516.97,127.92 515.24,127.48 513.51,127.03 511.78,126.58 510.05,126.12 508.32,125.66 506.59,125.18 504.86,124.70 503.13,124.21 501.40,123.72 499.67,123.21 497.94,122.70 496.21,122.18 494.48,121.66 492.75,121.12 491.02,120.57 489.29,120.02 487.56,119.46 485.83,118.88 484.10,118.30 482.37,117.71 480.63,117.11 478.90,116.49 477.17,115.87 475.44,115.24 473.71,114.59 471.98,113.93 470.25,113.27 468.52,112.58 466.79,111.89 465.06,111.18 463.33,110.46 461.60,109.73 459.87,108.98 458.14,108.22 456.41,107.44 454.68,106.65 452.95,105.84 451.22,105.02 449.49,104.18 447.76,103.32 446.03,102.44 444.30,101.54 442.57,100.62 440.83,99.68 439.10,98.73 437.37,97.74 435.64,96.74 433.91,95.71 432.18,94.66 430.45,93.58 428.72,92.47 426.99,91.33 425.26,90.16 423.53,88.97 421.80,87.73 420.07,86.46 418.34,85.16 416.61,83.81 414.88,82.42 413.15,80.99 411.42,79.50 409.69,77.97 407.96,76.38 406.23,74.72 404.50,73.00 402.77,71.20 402.55,70.98 402.34,70.75 402.13,70.52 401.92,70.30 401.71,70.07 401.50,69.84 401.29,69.60 401.08,69.37 400.87,69.13 400.66,68.90 400.44,68.66 400.23,68.42 400.02,68.18 399.81,67.94 399.60,67.70 399.39,67.45 399.18,67.20 398.97,66.96 398.76,66.71 398.55,66.45 398.34,66.20 398.12,65.95 397.91,65.69 397.70,65.43 397.49,65.17 397.28,64.91 397.07,64.65 396.86,64.38 396.65,64.11 396.44,63.84 396.23,63.57 396.01,63.30 395.80,63.02 395.59,62.74 395.38,62.47 395.17,62.18 394.96,61.90 394.75,61.61 394.54,61.32 394.33,61.03 394.12,60.74 393.91,60.44 393.69,60.13 393.48,59.83 393.27,59.52 393.06,59.20 392.85,58.88 392.64,58.55 392.43,58.22 392.22,57.88 392.01,57.54 391.80,57.19 391.58,56.84 391.37,56.48 391.16,56.11 390.95,55.73 390.74,55.35 390.53,54.95 390.32,54.55 390.11,54.14 389.90,53.71 389.69,53.28 389.48,52.83 389.26,52.37 389.05,51.89 388.84,51.39 388.63,50.88 388.42,50.34 388.21,49.78 388.00,49.19 387.79,48.57 387.58,47.91 387.37,47.20 387.15,46.43 386.94,45.58 386.73,44.61 386.52,43.47 386.31,41.99 386.20,40.89 386.13,39.86 386.10,38.92 386.10,38.50" fill="#4040f0" fill-opacity="0.220"/>
<polyline points="386.10,38.50 386.10,38.57 386.13,38.86 386.20,39.27 386.31,39.78 386.52,40.55 386.73,41.21 386.94,41.80 387.15,42.35 387.37,42.86 387.58,43.35 387.79,43.81 388.00,44.26 388.21,44.69 388.42,45.11 388.63,45.51 388.84,45.91 389.05,46.29 389.26,46.67 389.48,47.04 389.69,47.40 389.90,47.75 390.11,48.10 390.32,48.45 390.53,48.78 390.74,49.12 390.95,49.44 391.16,49.77 391.37,50.09 391.58,50.40 391.80,50.71 392.01,51.02 392.22,51.32 392.43,51.62 392.64,51.92 392.85,52.22 393.06,52.51 393.27,52.80 393.48,53.08 393.69,53.37 393.91,53.65 394.12,53.93 394.33,54.20 394.54,54.48 394.75,54.75 394.96,55.02 395.17,55.28 395.38,55.55 395.59,55.81 395.80,56.07 396.01,56.33 396.23,56.59 396.44,56.84 396.65,57.09 396.86,57.34 397.07,57.59 397.28,57.84 397.49,58.08 397.70,58.33 397.91,58.57 398.12,58.81 398.34,59.04 398.55,59.28 398.76,59.52 398.97,59.75 399.18,59.98 399.39,60.21 399.60,60.44 399.81,60.66 400.02,60.89 400.23,61.11 400.44,61.34 400.66,61.56 400.87,61.78 401.08,62.00 401.29,62.21 401.50,62.43 401.71,62.64 401.92,62.85 402.13,63.07 402.34,63.28 402.55,63.49 402.77,63.69 404.50,65.36 406.23,66.94 407.96,68.46 409.69,69.92 411.42,71.33 413.15,72.68 414.88,73.98 416.61,75.24 418.34,76.46 420.07,77.63 421.80,78.77 423.53,79.87 425.26,80.94 426.99,81.98 428.72,82.99 430.45,83.97 432.18,84.93 433.91,85.86 435.64,86.76 437.37,87.64 439.10,88.50 440.83,89.33 442.57,90.15 444.30,90.94 446.03,91.72 447.76,92.48 449.49,93.22 451.22,93.94 452.95,94.65 454.68,95.34 456.41,96.02 458.14,96.68 459.87,97.33 461.60,97.96 463.33,98.58 465.06,99.19 466.79,99.78 468.52,100.36 470.25,100.93 471.98,101.49 473.71,102.04 475.44,102.58 477.17,103.11 478.90,103.62 480.63,104.13 482.37,104.63 484.10,105.11 485.83,105.59 487.56,106.06 489.29,106.53 491.02,106.98 492.75,107.42 494.48,107.86 496.21,108.29 497.94,108.71 499.67,109.12 501.40,109.53 503.13,109.93 504.86,110.32 506.59,110.71 508.32,111.09 510.05,111.46 511.78,111.83 513.51,112.19 515.24,112.54 516.97,112.89 518.70,113.23 520.43,113.57 522.17,113.90 523.90,114.23 525.63,114.55 527.36,114.86 529.09,115.17 530.82,115.48 532.55,115.78 534.28,116.08 536.01,116.37 537.74,116.65 539.47,116.94 541.20,117.21 542.93,117.49 544.66,117.76 546.39,118.02 548.12,118.28 549.85,118.54 551.58,118.79 553.31,119.04 555.04,119.29 556.77,119.53 558.50,119.77 560.23,120.00 561.97,120.23 563.70,120.46 565.43,120.68 567.16,120.90 568.89,121.12 570.62,121.33 572.35,121.54 574.08,121.75 575.81,121.96 577.54,122.16 579.27,122.36 581.00,122.55 582.73,122.74 584.46,122.93 586.19,123.12 587.92,123.31 589.65,123.49 591.38,123.67 593.11,123.84 594.84,124.02 596.57,124.19 598.30,124.36 600.03,124.52 601.77,124.69 603.50,124.85 605.23,125.01 606.96,125.16 608.69,125.32 610.42,125.47 612.15,125.62 613.88,125.77 615.61,125.91 617.34,126.06 619.07,126.20 620.80,126.34 622.53,126.48 624.26,126.61 625.99,126.75 627.72,126.88 629.45,127.01 631.18,127.13 632.91,127.26 634.64,127.38 636.37,127.51 638.10,127.63 639.83,127.75 641.57,127.86 643.30,127.98 645.03,128.09 646.76,128.21 648.49,128.32 650.22,128.42 651.95,128.53 653.68,128.64 655.41,128.74 657.14,128.84 658.87,128.95 660.60,129.04 662.33,129.14 664.06,129.24 665.79,129.33 667.52,129.43 669.25,129.52 670.98,129.61 672.71,129.70 674.44,129.79 676.17,129.88 677.90,129.96" fill="none" stroke="#5050cc" stroke-width="1.10" stroke-linejoin="round"/>
<polygon points="386.10,38.50 386.10,38.61 386.13,39.00 386.20,39.53 386.31,40.19 386.52,41.18 386.73,42.00 386.94,42.74 387.15,43.42 387.37,44.05 387.58,44.65 387.79,45.22 388.00,45.76 388.21,46.29 388.42,46.80 388.63,47.29 388.84,47.77 389.05,48.24 389.26,48.69 389.48,49.14 389.69,49.58 389.90,50.01 390.11,50.44 390.32,50.87 390.53,51.29 390.74,51.71 390.95,52.12 391.16,52.53 391.37,52.93 391.58,53.33 391.80,53.73 392.01,54.12 392.22,54.51 392.43,54.89 392.64,55.27 392.85,55.65 393.06,56.03 393.27,56.40 393.48,56.76 393.69,57.13 393.91,57.49 394.12,57.85 394.33,58.20 394.54,58.55 394.75,58.90 394.96,59.25 395.17,59.59 395.38,59.93 395.59,60.27 395.80,60.60 396.01,60.93 396.23,61.26 396.44,61.59 396.65,61.91 396.86,62.23 397.07,62.55 397.28,62.87 397.49,63.18 397.70,63.49 397.91,63.80 398.12,64.11 398.34,64.41 398.55,64.71 398.76,65.01 398.97,65.31 399.18,65.61 399.39,65.90 399.60,66.19 399.81,66.48 400.02,66.76 400.23,67.05 400.44,67.33 400.66,67.61 400.87,67.89 401.08,68.16 401.29,68.44 401.50,68.71 401.71,68.98 401.92,69.25 402.13,69.51 402.34,69.78 402.55,70.04 402.77,70.30 404.50,72.37 406.23,74.33 407.96,76.18 409.69,77.94 411.42,79.61 413.15,81.20 414.88,82.71 416.61,84.14 418.34,85.51 420.07,86.81 421.80,88.06 423.53,89.25 425.26,90.40 426.99,91.51 428.72,92.58 430.45,93.62 432.18,94.63 433.91,95.61 435.64,96.58 437.37,97.52 439.10,98.44 440.83,99.35 442.57,100.24 444.30,101.11 446.03,101.98 447.76,102.83 449.49,103.68 451.22,104.52 452.95,105.35 454.68,106.17 456.41,106.99 458.14,107.80 459.87,108.60 461.60,109.41 463.33,110.20 465.06,111.00 466.79,111.79 468.52,112.58 470.25,113.37 471.98,114.16 473.71,114.95 475.44,115.73 477.17,116.52 478.90,117.30 480.63,118.09 482.37,118.87 484.10,119.66 485.83,120.44 487.56,121.23 489.29,122.02 491.02,122.80 492.75,123.59 494.48,124.38 496.21,125.17 497.94,125.95 499.67,126.74 501.40,127.52 503.13,128.30 504.86,129.08 506.59,129.86 508.32,130.64 510.05,131.41 511.78,132.18 513.51,132.95 515.24,133.72 516.97,134.48 518.70,135.24 520.43,136.00 522.17,136.75 523.90,137.51 525.63,138.25 527.36,139.00 529.09,139.74 530.82,140.48 532.55,141.21 534.28,141.94 536.01,142.67 537.74,143.39 539.47,144.11 541.20,144.82 542.93,145.53 544.66,146.24 546.39,146.94 548.12,147.63 549.85,148.33 551.58,149.02 553.31,149.70 555.04,150.38 556.77,151.05 558.50,151.73 560.23,152.39 561.97,153.05 563.70,153.71 565.43,154.37 567.16,155.02 568.89,155.66 570.62,156.30 572.35,156.94 574.08,157.57 575.81,158.20 577.54,158.82 579.27,159.44 581.00,160.05 582.73,160.66 584.46,161.27 586.19,161.87 587.92,162.47 589.65,163.06 591.38,163.65 593.11,164.24 594.84,164.82 596.57,165.40 598.30,165.97 600.03,166.54 601.77,167.10 603.50,167.67 605.23,168.22 606.96,168.77 608.69,169.32 610.42,169.87 612.15,170.41 613.88,170.95 615.61,171.48 617.34,172.01 619.07,172.53 620.80,173.05 622.53,173.57 624.26,174.09 625.99,174.59 627.72,175.10 629.45,175.60 631.18,176.10 632.91,176.60 634.64,177.09 636.37,177.57 638.10,178.06 639.83,178.54 641.57,179.01 643.30,179.48 645.03,179.95 646.76,180.42 648.49,180.88 650.22,181.34 651.95,181.79 653.68,182.24 655.41,182.69 657.14,183.13 658.87,183.57 660.60,184.01 662.33,184.44 664.06,184.87 665.79,185.30 667.52,185.72 669.25,186.14 670.98,186.56 672.71,186.97 674.44,187.38 676.17,187.79 677.90,188.19 677.90,262.93 676.17,262.04 674.44,261.16 672.71,260.27 670.98,259.39 669.25,258.50 667.52,257.61 665.79,256.72 664.06,255.83 662.33,254.94 660.60,254.05 658.87,253.16 657.14,252.27 655.41,251.37 653.68,250.48 651.95,249.58 650.22,248.68 648.49,247.79 646.76,246.89 645.03,245.99 643.30,245.09 641.57,244.19 639.83,243.29 638.10,242.38 636.37,241.48 634.64,240.57 632.91,239.66 631.18,238.76 629.45,237.85 627.72,236.94 625.99,236.03 624.26,235.12 622.53,234.20 620.80,233.29 619.07,232.37 617.34,231.46 615.61,230.54 613.88,229.62 612.15,228.70 610.42,227.78 608.69,226.85 606.96,225.93 605.23,225.00 603.50,224.08 601.77,223.15 600.03,222.22 598.30,221.29 596.57,220.35 594.84,219.42 593.11,218.48 591.38,217.55 589.65,216.61 587.92,215.67 586.19,214.72 584.46,213.78 582.73,212.84 581.00,211.89 579.27,210.94 577.54,209.99 575.81,209.04 574.08,208.08 572.35,207.13 570.62,206.17 568.89,205.21 567.16,204.25 565.43,203.28 563.70,202.32 561.97,201.35 560.23,200.38 558.50,199.41 556.77,198.44 555.04,197.46 553.31,196.48 551.58,195.50 549.85,194.52 548.12,193.53 546.39,192.55 544.66,191.56 542.93,190.56 541.20,189.57 539.47,188.57 537.74,187.57 536.01,186.57 534.28,185.56 532.55,184.55 530.82,183.54 529.09,182.52 527.36,181.50 525.63,180.48 523.90,179.46 522.17,178.43 520.43,177.40 518.70,176.37 516.97,175.33 515.24,174.29 513.51,173.24 511.78,172.19 510.05,171.14 508.32,170.08 506.59,169.02 504.86,167.95 503.13,166.88 501.40,165.81 499.67,164.73 497.94,163.65 496.21,162.56 494.48,161.46 492.75,160.37 491.02,159.26 489.29,158.15 487.56,157.04 485.83,155.92 484.10,154.79 482.37,153.66 480.63,152.52 478.90,151.37 477.17,150.22 475.44,149.06 473.71,147.89 471.98,146.72 470.25,145.54 468.52,144.35 466.79,143.15 465.06,141.94 463.33,140.73 461.60,139.50 459.87,138.26 458.14,137.02 456.41,135.76 454.68,134.49 452.95,133.21 451.22,131.92 449.49,130.62 447.76,129.30 446.03,127.97 444.30,126.62 442.57,125.26 440.83,123.88 439.10,122.48 437.37,121.07 435.64,119.63 433.91,118.17 432.18,116.70 430.45,115.19 428.72,113.67 426.99,112.11 425.26,110.53 423.53,108.91 421.80,107.26 420.07,105.58 418.34,103.85 416.61,102.08 414.88,100.25 413.15,98.38 411.42,96.44 409.69,94.44 407.96,92.35 406.23,90.18 404.50,87.91 402.77,85.52 402.55,85.22 402.34,84.92 402.13,84.61 401.92,84.31 401.71,84.00 401.50,83.69 401.29,83.37 401.08,83.05 400.87,82.74 400.66,82.41 400.44,82.09 400.23,81.76 400.02,81.43 399.81,81.10 399.60,80.76 399.39,80.43 399.18,80.08 398.97,79.74 398.76,79.39 398.55,79.04 398.34,78.68 398.12,78.33 397.91,77.96 397.70,77.60 397.49,77.23 397.28,76.86 397.07,76.48 396.86,76.10 396.65,75.71 396.44,75.32 396.23,74.92 396.01,74.52 395.80,74.12 395.59,73.71 395.38,73.29 395.17,72.87 394.96,72.44 394.75,72.01 394.54,71.57 394.33,71.12 394.12,70.67 393.91,70.21 393.69,69.74 393.48,69.26 393.27,68.78 393.06,68.28 392.85,67.78 392.64,67.27 392.43,66.75 392.22,66.22 392.01,65.68 391.80,65.12 391.58,64.55 391.37,63.97 391.16,63.38 390.95,62.77 390.74,62.15 390.53,61.50 390.32,60.84 390.11,60.16 389.90,59.46 389.69,58.74 389.48,57.99 389.26,57.21 389.05,56.42 388.84,55.60 388.63,54.76 388.42,53.90 388.21,53.00 388.00,52.07 387.79,51.10 387.58,50.09 387.37,49.02 387.15,47.88 386.94,46.65 386.73,45.30 386.52,43.76 386.31,41.90 386.20,40.62 386.13,39.56 386.10,38.75 386.10,38.50" fill="#82283c" fill-opacity="0.165"/>
<polyline points="386.10,38.50 386.10,38.69 386.13,39.35 386.20,40.25 386.31,41.34 386.52,42.95 386.73,44.30 386.94,45.49 387.15,46.58 387.37,47.59 387.58,48.55 387.79,49.46 388.00,50.33 388.21,51.17 388.42,51.98 388.63,52.76 388.84,53.52 389.05,54.26 389.26,54.98 389.48,55.67 389.69,56.33 389.90,56.98 390.11,57.60 390.32,58.20 390.53,58.78 390.74,59.35 390.95,59.90 391.16,60.43 391.37,60.96 391.58,61.47 391.80,61.96 392.01,62.45 392.22,62.92 392.43,63.39 392.64,63.84 392.85,64.29 393.06,64.72 393.27,65.15 393.48,65.57 393.69,65.99 393.91,66.39 394.12,66.79 394.33,67.19 394.54,67.57 394.75,67.95 394.96,68.33 395.17,68.70 395.38,69.06 395.59,69.42 395.80,69.77 396.01,70.12 396.23,70.47 396.44,70.81 396.65,71.14 396.86,71.48 397.07,71.80 397.28,72.13 397.49,72.45 397.70,72.77 397.91,73.08 398.12,73.39 398.34,73.70 398.55,74.00 398.76,74.30 398.97,74.60 399.18,74.89 399.39,75.18 399.60,75.47 399.81,75.76 400.02,76.04 400.23,76.32 400.44,76.60 400.66,76.88 400.87,77.15 401.08,77.43 401.29,77.69 401.50,77.96 401.71,78.23 401.92,78.49 402.13,78.75 402.34,79.01 402.55,79.27 402.77,79.52 404.50,81.55 406.23,83.47 407.96,85.31 409.69,87.06 411.42,88.75 413.15,90.38 414.88,91.96 416.61,93.49 418.34,94.98 420.07,96.43 421.80,97.85 423.53,99.24 425.26,100.59 426.99,101.92 428.72,103.23 430.45,104.51 432.18,105.77 433.91,107.01 435.64,108.23 437.37,109.43 439.10,110.62 440.83,111.80 442.57,112.95 444.30,114.10 446.03,115.23 447.76,116.35 449.49,117.46 451.22,118.56 452.95,119.64 454.68,120.72 456.41,121.79 458.14,122.85 459.87,123.90 461.60,124.94 463.33,125.97 465.06,127.00 466.79,128.01 468.52,129.03 470.25,130.03 471.98,131.03 473.71,132.02 475.44,133.01 477.17,133.99 478.90,134.96 480.63,135.93 482.37,136.90 484.10,137.86 485.83,138.81 487.56,139.76 489.29,140.70 491.02,141.64 492.75,142.58 494.48,143.51 496.21,144.44 497.94,145.36 499.67,146.28 501.40,147.20 503.13,148.11 504.86,149.02 506.59,149.92 508.32,150.82 510.05,151.72 511.78,152.61 513.51,153.50 515.24,154.39 516.97,155.27 518.70,156.15 520.43,157.02 522.17,157.90 523.90,158.77 525.63,159.63 527.36,160.49 529.09,161.35 530.82,162.21 532.55,163.06 534.28,163.91 536.01,164.76 537.74,165.61 539.47,166.45 541.20,167.29 542.93,168.12 544.66,168.96 546.39,169.79 548.12,170.62 549.85,171.44 551.58,172.26 553.31,173.08 555.04,173.90 556.77,174.72 558.50,175.53 560.23,176.34 561.97,177.15 563.70,177.95 565.43,178.76 567.16,179.56 568.89,180.36 570.62,181.15 572.35,181.95 574.08,182.74 575.81,183.53 577.54,184.31 579.27,185.10 581.00,185.88 582.73,186.66 584.46,187.44 586.19,188.22 587.92,188.99 589.65,189.76 591.38,190.53 593.11,191.30 594.84,192.07 596.57,192.83 598.30,193.60 600.03,194.36 601.77,195.12 603.50,195.87 605.23,196.63 606.96,197.38 608.69,198.13 610.42,198.88 612.15,199.63 613.88,200.37 615.61,201.12 617.34,201.86 619.07,202.60 620.80,203.34 622.53,204.07 624.26,204.81 625.99,205.54 627.72,206.27 629.45,207.00 631.18,207.73 632.91,208.46 634.64,209.19 636.37,209.91 638.10,210.63 639.83,211.35 641.57,212.07 643.30,212.79 645.03,213.50 646.76,214.22 648.49,214.93 650.22,215.64 651.95,216.35 653.68,217.06 655.41,217.76 657.14,218.47 658.87,219.17 660.60,219.88 662.33,220.58 664.06,221.28 665.79,221.97 667.52,222.67 669.25,223.36 670.98,224.06 672.71,224.75 674.44,225.44 676.17,226.13 677.90,226.82" fill="none" stroke="#9e5262" stroke-width="1.10" stroke-linejoin="round"/>
<line x1="380.60" y1="33.40" x2="683.60" y2="33.40" stroke="#8a8a8a" stroke-width="1"/>
<line x1="683.60" y1="33.40" x2="683.60" y2="424.40" stroke="#8a8a8a" stroke-width="1"/>
<line x1="380.60" y1="32.90" x2="380.60" y2="425.10" stroke="#555555" stroke-width="1.4"/>
<line x1="379.90" y1="424.40" x2="684.10" y2="424.40" stroke="#555555" stroke-width="1.4"/>
<line x1="376.60" y1="38.50" x2="380.60" y2="38.50" stroke="#505050" stroke-width="1.1"/>
<text x="0" y="0" transform="translate(373.40,38.50) rotate(-90)" text-anchor="middle" font-size="8.7" fill="#161616" font-family="Liberation Sans, sans-serif" stroke="#1a1a1a" stroke-width="0.22" paint-order="stroke">1.00</text>
<line x1="376.60" y1="86.10" x2="380.60" y2="86.10" stroke="#505050" stroke-width="1.1"/>
<text x="0" y="0" transform="translate(373.40,86.10) rotate(-90)" text-anchor="middle" font-size="8.7" fill="#161616" font-family="Liberation Sans, sans-serif" stroke="#1a1a1a" stroke-width="0.22" paint-order="stroke">0.98</text>
<line x1="376.60" y1="133.70" x2="380.60" y2="133.70" stroke="#505050" stroke-width="1.1"/>
<text x="0" y="0" transform="translate(373.40,133.70) rotate(-90)" text-anchor="middle" font-size="8.7" fill="#161616" font-family="Liberation Sans, sans-serif" stroke="#1a1a1a" stroke-width="0.22" paint-order="stroke">0.96</text>
<line x1="376.60" y1="181.30" x2="380.60" y2="181.30" stroke="#505050" stroke-width="1.1"/>
<text x="0" y="0" transform="translate(373.40,181.30) rotate(-90)" text-anchor="middle" font-size="8.7" fill="#161616" font-family="Liberation Sans, sans-serif" stroke="#1a1a1a" stroke-width="0.22" paint-order="stroke">0.94</text>
<line x1="376.60" y1="228.90" x2="380.60" y2="228.90" stroke="#505050" stroke-width="1.1"/>
<text x="0" y="0" transform="translate(373.40,228.90) rotate(-90)" text-anchor="middle" font-size="8.7" fill="#161616" font-family="Liberation Sans, sans-serif" stroke="#1a1a1a" stroke-width="0.22" paint-order="stroke">0.92</text>
<line x1="376.60" y1="276.50" x2="380.60" y2="276.50" stroke="#505050" stroke-width="1.1"/>
<text x="0" y="0" transform="translate(373.40,276.50) rotate(-90)" text-anchor="middle" font-size="8.7" fill="#161616" font-family="Liberation Sans, sans-serif" stroke="#1a1a1a" stroke-width="0.22" paint-order="stroke">0.90</text>
<line x1="376.60" y1="324.10" x2="380.60" y2="324.10" stroke="#505050" stroke-width="1.1"/>
<text x="0" y="0" transform="translate(373.40,324.10) rotate(-90)" text-anchor="middle" font-size="8.7" fill="#161616" font-family="Liberation Sans, sans-serif" stroke="#1a1a1a" stroke-width="0.22" paint-order="stroke">0.88</text>
<line x1="376.60" y1="371.70" x2="380.60" y2="371.70" stroke="#505050" stroke-width="1.1"/>
<text x="0" y="0" transform="translate(373.40,371.70) rotate(-90)" text-anchor="middle" font-size="8.7" fill="#161616" font-family="Liberation Sans, sans-serif" stroke="#1a1a1a" stroke-width="0.22" paint-order="stroke">0.86</text>
<line x1="376.60" y1="419.30" x2="380.60" y2="419.30" stroke="#505050" stroke-width="1.1"/>
<text x="0" y="0" transform="translate(373.40,419.30) rotate(-90)" text-anchor="middle" font-size="8.7" fill="#161616" font-family="Liberation Sans, sans-serif" stroke="#1a1a1a" stroke-width="0.22" paint-order="stroke">0.84</text>
<line x1="419.43" y1="424.40" x2="419.43" y2="427.90" stroke="#505050" stroke-width="1.1"/>
<text x="419.43" y="439.00" text-anchor="middle" font-size="8.7" fill="#161616" font-family="Liberation Sans, sans-serif" stroke="#1a1a1a" stroke-width="0.22" paint-order="stroke">1</text>
<line x1="452.76" y1="424.40" x2="452.76" y2="427.90" stroke="#505050" stroke-width="1.1"/>
<text x="452.76" y="439.00" text-anchor="middle" font-size="8.7" fill="#161616" font-family="Liberation Sans, sans-serif" stroke="#1a1a1a" stroke-width="0.22" paint-order="stroke">2</text>
<line x1="486.09" y1="424.40" x2="486.09" y2="427.90" stroke="#505050" stroke-width="1.1"/>
<text x="486.09" y="439.00" text-anchor="middle" font-size="8.7" fill="#161616" font-family="Liberation Sans, sans-serif" stroke="#1a1a1a" stroke-width="0.22" paint-order="stroke">3</text>
<line x1="519.42" y1="424.40" x2="519.42" y2="427.90" stroke="#505050" stroke-width="1.1"/>
<text x="519.42" y="439.00" text-anchor="middle" font-size="8.7" fill="#161616" font-family="Liberation Sans, sans-serif" stroke="#1a1a1a" stroke-width="0.22" paint-order="stroke">4</text>
<line x1="552.75" y1="424.40" x2="552.75" y2="427.90" stroke="#505050" stroke-width="1.1"/>
<text x="552.75" y="439.00" text-anchor="middle" font-size="8.7" fill="#161616" font-family="Liberation Sans, sans-serif" stroke="#1a1a1a" stroke-width="0.22" paint-order="stroke">5</text>
<line x1="586.08" y1="424.40" x2="586.08" y2="427.90" stroke="#505050" stroke-width="1.1"/>
<text x="586.08" y="439.00" text-anchor="middle" font-size="8.7" fill="#161616" font-family="Liberation Sans, sans-serif" stroke="#1a1a1a" stroke-width="0.22" paint-order="stroke">6</text>
<line x1="619.41" y1="424.40" x2="619.41" y2="427.90" stroke="#505050" stroke-width="1.1"/>
<text x="619.41" y="439.00" text-anchor="middle" font-size="8.7" fill="#161616" font-family="Liberation Sans, sans-serif" stroke="#1a1a1a" stroke-width="0.22" paint-order="stroke">7</text>
<line x1="652.74" y1="424.40" x2="652.74" y2="427.90" stroke="#505050" stroke-width="1.1"/>
<text x="652.74" y="439.00" text-anchor="middle" font-size="8.7" fill="#161616" font-family="Liberation Sans, sans-serif" stroke="#1a1a1a" stroke-width="0.22" paint-order="stroke">8</text>
<text x="532.10" y="446.60" text-anchor="middle" font-size="8.7" fill="#161616" font-family="Liberation Sans, sans-serif" stroke="#1a1a1a" stroke-width="0.22" paint-order="stroke">Years after primary surgery</text>
<text x="0" y="0" transform="translate(363.80,228.90) rotate(-90)" text-anchor="middle" font-size="8.7" fill="#161616" font-family="Liberation Sans, sans-serif" stroke="#1a1a1a" stroke-width="0.22" paint-order="stroke">Survival probability</text>
<rect x="402.80" y="453.60" width="258.90" height="31.90" fill="#fff" stroke="#8a8a8a" stroke-width="1.2"/>
<line x1="406.40" y1="461.70" x2="439.40" y2="461.70" stroke="#3f853f" stroke-width="1.40" stroke-opacity="0.95"/>
<text x="450.60" y="464.80" font-size="8.7" fill="#161616" font-family="Liberation Sans, sans-serif" stroke="#1a1a1a" stroke-width="0.22" paint-order="stroke">Elective OA</text>
<line x1="530.50" y1="461.70" x2="563.50" y2="461.70" stroke="#e2a262" stroke-width="1.40" stroke-opacity="0.95"/>
<text x="574.10" y="464.80" font-size="8.7" fill="#161616" font-family="Liberation Sans, sans-serif" stroke="#1a1a1a" stroke-width="0.22" paint-order="stroke">Cuff tear arthropathy</text>
<line x1="406.40" y1="477.60" x2="439.40" y2="477.60" stroke="#7a76e0" stroke-width="1.40" stroke-opacity="0.95"/>
<text x="450.60" y="480.70" font-size="8.7" fill="#161616" font-family="Liberation Sans, sans-serif" stroke="#1a1a1a" stroke-width="0.22" paint-order="stroke">Acute trauma</text>
<line x1="530.50" y1="477.60" x2="563.50" y2="477.60" stroke="#b8868e" stroke-width="1.40" stroke-opacity="0.95"/>
<text x="574.10" y="480.70" font-size="8.7" fill="#161616" font-family="Liberation Sans, sans-serif" stroke="#1a1a1a" stroke-width="0.22" paint-order="stroke">Other</text>
<line x1="26.10" y1="550.40" x2="327.90" y2="550.40" stroke="#e4e4e4" stroke-width="1" stroke-opacity="1.00"/>
<line x1="26.10" y1="598.00" x2="327.90" y2="598.00" stroke="#e4e4e4" stroke-width="1" stroke-opacity="1.00"/>
<line x1="26.10" y1="645.60" x2="327.90" y2="645.60" stroke="#e4e4e4" stroke-width="1" stroke-opacity="1.00"/>
<line x1="26.10" y1="693.20" x2="327.90" y2="693.20" stroke="#e4e4e4" stroke-width="1" stroke-opacity="1.00"/>
<line x1="26.10" y1="740.80" x2="327.90" y2="740.80" stroke="#e4e4e4" stroke-width="1" stroke-opacity="1.00"/>
<line x1="26.10" y1="788.40" x2="327.90" y2="788.40" stroke="#e4e4e4" stroke-width="1" stroke-opacity="1.00"/>
<line x1="26.10" y1="836.00" x2="327.90" y2="836.00" stroke="#e4e4e4" stroke-width="1" stroke-opacity="1.00"/>
<line x1="26.10" y1="883.60" x2="327.90" y2="883.60" stroke="#e4e4e4" stroke-width="1" stroke-opacity="1.00"/>
<line x1="26.10" y1="931.20" x2="327.90" y2="931.20" stroke="#e4e4e4" stroke-width="1" stroke-opacity="1.00"/>
<polygon points="31.10,550.40 31.10,550.40 31.13,550.41 31.20,550.45 31.31,550.50 31.52,550.61 31.73,550.72 31.94,550.84 32.16,550.95 32.37,551.07 32.58,551.19 32.79,551.31 33.00,551.43 33.21,551.56 33.42,551.68 33.63,551.80 33.84,551.93 34.06,552.05 34.27,552.18 34.48,552.31 34.69,552.43 34.90,552.56 35.11,552.69 35.32,552.82 35.53,552.95 35.75,553.08 35.96,553.21 36.17,553.34 36.38,553.47 36.59,553.60 36.80,553.73 37.01,553.86 37.22,553.99 37.43,554.12 37.65,554.25 37.86,554.39 38.07,554.52 38.28,554.65 38.49,554.78 38.70,554.92 38.91,555.05 39.12,555.18 39.33,555.32 39.55,555.45 39.76,555.59 39.97,555.73 40.18,555.88 40.39,556.03 40.60,556.18 40.81,556.34 41.02,556.50 41.23,556.66 41.45,556.83 41.66,557.00 41.87,557.17 42.08,557.34 42.29,557.52 42.50,557.71 42.71,557.89 42.92,558.08 43.13,558.27 43.35,558.47 43.56,558.66 43.77,558.86 43.98,559.07 44.19,559.27 44.40,559.48 44.61,559.69 44.82,559.91 45.04,560.13 45.25,560.35 45.46,560.57 45.67,560.79 45.88,561.02 46.09,561.25 46.30,561.48 46.51,561.72 46.72,561.96 46.94,562.20 47.15,562.44 47.36,562.68 47.57,562.93 47.78,563.18 49.51,565.30 51.24,567.55 52.97,569.91 54.71,572.36 56.44,574.89 58.17,577.47 59.90,580.09 61.63,582.73 63.36,585.38 65.10,588.02 66.83,590.64 68.56,593.24 70.29,595.79 72.02,598.29 73.75,600.74 75.49,603.13 77.22,605.47 78.95,607.75 80.68,609.99 82.41,612.17 84.14,614.30 85.87,616.38 87.61,618.41 89.34,620.40 91.07,622.35 92.80,624.25 94.53,626.12 96.26,627.94 98.00,629.73 99.73,631.48 101.46,633.19 103.19,634.87 104.92,636.51 106.65,638.12 108.39,639.69 110.12,641.22 111.85,642.72 113.58,644.19 115.31,645.62 117.04,647.01 118.77,648.37 120.51,649.71 122.24,651.00 123.97,652.27 125.70,653.51 127.43,654.73 129.16,655.91 130.90,657.07 132.63,658.20 134.36,659.31 136.09,660.40 137.82,661.46 139.55,662.50 141.28,663.52 143.02,664.51 144.75,665.49 146.48,666.44 148.21,667.38 149.94,668.30 151.67,669.20 153.41,670.08 155.14,670.95 156.87,671.80 158.60,672.63 160.33,673.45 162.06,674.26 163.80,675.04 165.53,675.82 167.26,676.58 168.99,677.33 170.72,678.06 172.45,678.79 174.18,679.50 175.92,680.20 177.65,680.88 179.38,681.56 181.11,682.23 182.84,682.88 184.57,683.53 186.31,684.16 188.04,684.79 189.77,685.40 191.50,686.01 193.23,686.61 194.96,687.20 196.70,687.78 198.43,688.35 200.16,688.92 201.89,689.48 203.62,690.03 205.35,690.57 207.08,691.11 208.82,691.64 210.55,692.16 212.28,692.67 214.01,693.18 215.74,693.69 217.47,694.18 219.21,694.68 220.94,695.16 222.67,695.64 224.40,696.12 226.13,696.58 227.86,697.05 229.60,697.51 231.33,697.96 233.06,698.41 234.79,698.86 236.52,699.30 238.25,699.73 239.98,700.16 241.72,700.59 243.45,701.01 245.18,701.43 246.91,701.85 248.64,702.26 250.37,702.67 252.11,703.07 253.84,703.47 255.57,703.87 257.30,704.26 259.03,704.65 260.76,705.04 262.50,705.42 264.23,705.80 265.96,706.18 267.69,706.55 269.42,706.93 271.15,707.29 272.88,707.66 274.62,708.02 276.35,708.39 278.08,708.74 279.81,709.10 281.54,709.45 283.27,709.81 285.01,710.15 286.74,710.50 288.47,710.85 290.20,711.19 291.93,711.53 293.66,711.87 295.39,712.20 297.13,712.54 298.86,712.87 300.59,713.20 302.32,713.53 304.05,713.85 305.78,714.18 307.52,714.50 309.25,714.82 310.98,715.14 312.71,715.46 314.44,715.78 316.17,716.09 317.91,716.41 319.64,716.72 321.37,717.03 323.10,717.34 323.10,904.03 321.37,903.27 319.64,902.50 317.91,901.74 316.17,900.98 314.44,900.22 312.71,899.45 310.98,898.69 309.25,897.92 307.52,897.16 305.78,896.39 304.05,895.62 302.32,894.85 300.59,894.08 298.86,893.31 297.13,892.54 295.39,891.76 293.66,890.99 291.93,890.21 290.20,889.43 288.47,888.65 286.74,887.87 285.01,887.09 283.27,886.30 281.54,885.52 279.81,884.73 278.08,883.94 276.35,883.14 274.62,882.35 272.88,881.55 271.15,880.75 269.42,879.94 267.69,879.14 265.96,878.33 264.23,877.52 262.50,876.70 260.76,875.88 259.03,875.06 257.30,874.23 255.57,873.40 253.84,872.57 252.11,871.73 250.37,870.89 248.64,870.05 246.91,869.20 245.18,868.34 243.45,867.48 241.72,866.62 239.98,865.75 238.25,864.87 236.52,863.99 234.79,863.10 233.06,862.21 231.33,861.31 229.60,860.40 227.86,859.49 226.13,858.57 224.40,857.65 222.67,856.71 220.94,855.77 219.21,854.82 217.47,853.86 215.74,852.89 214.01,851.92 212.28,850.93 210.55,849.93 208.82,848.93 207.08,847.91 205.35,846.89 203.62,845.85 201.89,844.80 200.16,843.74 198.43,842.66 196.70,841.58 194.96,840.48 193.23,839.36 191.50,838.23 189.77,837.09 188.04,835.93 186.31,834.75 184.57,833.56 182.84,832.35 181.11,831.13 179.38,829.88 177.65,828.62 175.92,827.33 174.18,826.02 172.45,824.70 170.72,823.35 168.99,821.97 167.26,820.58 165.53,819.16 163.80,817.71 162.06,816.23 160.33,814.73 158.60,813.20 156.87,811.63 155.14,810.04 153.41,808.41 151.67,806.75 149.94,805.06 148.21,803.32 146.48,801.55 144.75,799.74 143.02,797.89 141.28,796.00 139.55,794.06 137.82,792.07 136.09,790.04 134.36,787.95 132.63,785.82 130.90,783.63 129.16,781.38 127.43,779.07 125.70,776.70 123.97,774.27 122.24,771.78 120.51,769.21 118.77,766.58 117.04,763.87 115.31,761.09 113.58,758.24 111.85,755.31 110.12,752.30 108.39,749.20 106.65,746.03 104.92,742.76 103.19,739.41 101.46,735.96 99.73,732.42 98.00,728.78 96.26,725.04 94.53,721.20 92.80,717.26 91.07,713.20 89.34,709.04 87.61,704.77 85.87,700.38 84.14,695.87 82.41,691.25 80.68,686.53 78.95,681.75 77.22,677.00 75.49,672.33 73.75,667.81 72.02,663.42 70.29,659.13 68.56,654.92 66.83,650.73 65.10,646.53 63.36,642.28 61.63,637.90 59.90,633.35 58.17,628.55 56.44,623.42 54.71,617.89 52.97,612.00 51.24,605.85 49.51,599.55 47.78,593.24 47.57,592.48 47.36,591.71 47.15,590.96 46.94,590.20 46.72,589.45 46.51,588.70 46.30,587.95 46.09,587.21 45.88,586.48 45.67,585.74 45.46,585.02 45.25,584.30 45.04,583.58 44.82,582.87 44.61,582.17 44.40,581.47 44.19,580.78 43.98,580.10 43.77,579.42 43.56,578.76 43.35,578.10 43.13,577.45 42.92,576.80 42.71,576.17 42.50,575.55 42.29,574.94 42.08,574.34 41.87,573.74 41.66,573.16 41.45,572.59 41.23,572.04 41.02,571.49 40.81,570.96 40.60,570.44 40.39,569.93 40.18,569.44 39.97,568.97 39.76,568.50 39.55,568.06 39.33,567.63 39.12,567.20 38.91,566.77 38.70,566.34 38.49,565.91 38.28,565.48 38.07,565.05 37.86,564.61 37.65,564.18 37.43,563.75 37.22,563.32 37.01,562.88 36.80,562.45 36.59,562.02 36.38,561.58 36.17,561.15 35.96,560.71 35.75,560.27 35.53,559.84 35.32,559.40 35.11,558.96 34.90,558.52 34.69,558.08 34.48,557.64 34.27,557.20 34.06,556.76 33.84,556.32 33.63,555.87 33.42,555.43 33.21,554.98 33.00,554.54 32.79,554.09 32.58,553.64 32.37,553.19 32.16,552.73 31.94,552.28 31.73,551.82 31.52,551.35 31.31,550.89 31.20,550.63 31.13,550.48 31.10,550.41 31.10,550.40" fill="#2a962a" fill-opacity="0.200"/>
<polyline points="31.10,550.40 31.10,550.40 31.13,550.44 31.20,550.52 31.31,550.66 31.52,550.93 31.73,551.21 31.94,551.49 32.16,551.78 32.37,552.07 32.58,552.37 32.79,552.66 33.00,552.96 33.21,553.26 33.42,553.56 33.63,553.86 33.84,554.17 34.06,554.47 34.27,554.77 34.48,555.08 34.69,555.39 34.90,555.70 35.11,556.01 35.32,556.31 35.53,556.62 35.75,556.94 35.96,557.25 36.17,557.56 36.38,557.87 36.59,558.19 36.80,558.50 37.01,558.81 37.22,559.13 37.43,559.45 37.65,559.76 37.86,560.08 38.07,560.40 38.28,560.71 38.49,561.03 38.70,561.35 38.91,561.67 39.12,561.99 39.33,562.31 39.55,562.63 39.76,562.95 39.97,563.27 40.18,563.59 40.39,563.91 40.60,564.23 40.81,564.55 41.02,564.88 41.23,565.21 41.45,565.55 41.66,565.89 41.87,566.24 42.08,566.59 42.29,566.95 42.50,567.31 42.71,567.68 42.92,568.05 43.13,568.42 43.35,568.80 43.56,569.18 43.77,569.56 43.98,569.95 44.19,570.34 44.40,570.73 44.61,571.13 44.82,571.53 45.04,571.93 45.25,572.34 45.46,572.75 45.67,573.16 45.88,573.57 46.09,573.99 46.30,574.40 46.51,574.83 46.72,575.25 46.94,575.67 47.15,576.10 47.36,576.53 47.57,576.96 47.78,577.39 49.51,580.98 51.24,584.63 52.97,588.31 54.71,592.04 56.44,595.84 58.17,599.76 59.90,603.81 61.63,607.94 63.36,612.13 65.10,616.35 66.83,620.57 68.56,624.75 70.29,628.88 72.02,632.94 73.75,636.90 75.49,640.75 77.22,644.49 78.95,648.13 80.68,651.66 82.41,655.10 84.14,658.43 85.87,661.67 87.61,664.82 89.34,667.88 91.07,670.86 92.80,673.75 94.53,676.56 96.26,679.29 98.00,681.95 99.73,684.53 101.46,687.05 103.19,689.50 104.92,691.89 106.65,694.21 108.39,696.48 110.12,698.69 111.85,700.84 113.58,702.94 115.31,704.99 117.04,707.00 118.77,708.95 120.51,710.87 122.24,712.73 123.97,714.56 125.70,716.35 127.43,718.09 129.16,719.80 130.90,721.48 132.63,723.12 134.36,724.73 136.09,726.30 137.82,727.85 139.55,729.36 141.28,730.84 143.02,732.30 144.75,733.73 146.48,735.13 148.21,736.50 149.94,737.85 151.67,739.18 153.41,740.48 155.14,741.76 156.87,743.02 158.60,744.26 160.33,745.47 162.06,746.67 163.80,747.85 165.53,749.00 167.26,750.14 168.99,751.26 170.72,752.37 172.45,753.45 174.18,754.52 175.92,755.58 177.65,756.61 179.38,757.64 181.11,758.65 182.84,759.64 184.57,760.62 186.31,761.59 188.04,762.54 189.77,763.48 191.50,764.41 193.23,765.33 194.96,766.23 196.70,767.13 198.43,768.01 200.16,768.88 201.89,769.74 203.62,770.59 205.35,771.43 207.08,772.26 208.82,773.08 210.55,773.89 212.28,774.69 214.01,775.49 215.74,776.27 217.47,777.05 219.21,777.82 220.94,778.57 222.67,779.33 224.40,780.07 226.13,780.81 227.86,781.53 229.60,782.26 231.33,782.97 233.06,783.68 234.79,784.38 236.52,785.07 238.25,785.76 239.98,786.44 241.72,787.12 243.45,787.79 245.18,788.45 246.91,789.11 248.64,789.76 250.37,790.41 252.11,791.05 253.84,791.69 255.57,792.32 257.30,792.95 259.03,793.57 260.76,794.19 262.50,794.80 264.23,795.41 265.96,796.01 267.69,796.61 269.42,797.20 271.15,797.79 272.88,798.38 274.62,798.96 276.35,799.54 278.08,800.11 279.81,800.68 281.54,801.25 283.27,801.81 285.01,802.37 286.74,802.92 288.47,803.48 290.20,804.03 291.93,804.57 293.66,805.11 295.39,805.65 297.13,806.19 298.86,806.72 300.59,807.25 302.32,807.78 304.05,808.30 305.78,808.82 307.52,809.34 309.25,809.86 310.98,810.37 312.71,810.88 314.44,811.39 316.17,811.89 317.91,812.40 319.64,812.90 321.37,813.40 323.10,813.89" fill="none" stroke="#338833" stroke-width="1.10" stroke-linejoin="round"/>
<polygon points="31.10,550.40 31.10,550.40 31.13,550.41 31.20,550.44 31.31,550.52 31.52,550.75 31.73,551.04 31.94,551.38 32.16,551.77 32.37,552.21 32.58,552.68 32.79,553.18 33.00,553.72 33.21,554.29 33.42,554.89 33.63,555.52 33.84,556.17 34.06,556.85 34.27,557.55 34.48,558.28 34.69,559.01 34.90,559.73 35.11,560.44 35.32,561.14 35.53,561.83 35.75,562.50 35.96,563.16 36.17,563.81 36.38,564.44 36.59,565.06 36.80,565.67 37.01,566.26 37.22,566.84 37.43,567.40 37.65,567.95 37.86,568.49 38.07,569.02 38.28,569.53 38.49,570.04 38.70,570.53 38.91,571.01 39.12,571.48 39.33,571.94 39.55,572.39 39.76,572.83 39.97,573.26 40.18,573.68 40.39,574.09 40.60,574.50 40.81,574.89 41.02,575.28 41.23,575.66 41.45,576.03 41.66,576.40 41.87,576.76 42.08,577.11 42.29,577.45 42.50,577.79 42.71,578.13 42.92,578.45 43.13,578.78 43.35,579.09 43.56,579.40 43.77,579.71 43.98,580.01 44.19,580.30 44.40,580.59 44.61,580.88 44.82,581.16 45.04,581.44 45.25,581.71 45.46,581.98 45.67,582.25 45.88,582.51 46.09,582.77 46.30,583.02 46.51,583.27 46.72,583.52 46.94,583.76 47.15,584.01 47.36,584.24 47.57,584.48 47.78,584.71 49.51,586.51 51.24,588.16 52.97,589.69 54.71,591.12 56.44,592.47 58.17,593.75 59.90,594.97 61.63,596.15 63.36,597.29 65.10,598.39 66.83,599.47 68.56,600.52 70.29,601.53 72.02,602.51 73.75,603.46 75.49,604.37 77.22,605.25 78.95,606.10 80.68,606.91 82.41,607.70 84.14,608.45 85.87,609.17 87.61,609.85 89.34,610.51 91.07,611.14 92.80,611.74 94.53,612.30 96.26,612.85 98.00,613.36 99.73,613.85 101.46,614.31 103.19,614.76 104.92,615.18 106.65,615.59 108.39,615.99 110.12,616.37 111.85,616.75 113.58,617.11 115.31,617.47 117.04,617.83 118.77,618.18 120.51,618.52 122.24,618.86 123.97,619.21 125.70,619.55 127.43,619.89 129.16,620.23 130.90,620.57 132.63,620.92 134.36,621.26 136.09,621.61 137.82,621.97 139.55,622.32 141.28,622.68 143.02,623.05 144.75,623.42 146.48,623.79 148.21,624.17 149.94,624.56 151.67,624.95 153.41,625.34 155.14,625.73 156.87,626.13 158.60,626.52 160.33,626.92 162.06,627.32 163.80,627.71 165.53,628.10 167.26,628.49 168.99,628.87 170.72,629.25 172.45,629.63 174.18,630.00 175.92,630.37 177.65,630.73 179.38,631.08 181.11,631.43 182.84,631.77 184.57,632.10 186.31,632.43 188.04,632.74 189.77,633.05 191.50,633.35 193.23,633.65 194.96,633.93 196.70,634.20 198.43,634.47 200.16,634.72 201.89,634.97 203.62,635.21 205.35,635.43 207.08,635.65 208.82,635.86 210.55,636.05 212.28,636.24 214.01,636.41 215.74,636.58 217.47,636.73 219.21,636.88 220.94,637.01 222.67,637.13 224.40,637.25 226.13,637.35 227.86,637.44 229.60,637.52 231.33,637.59 233.06,637.65 234.79,637.70 236.52,637.75 238.25,637.78 239.98,637.81 241.72,637.84 243.45,637.86 245.18,637.88 246.91,637.89 248.64,637.91 250.37,637.92 252.11,637.94 253.84,637.95 255.57,637.97 257.30,637.99 259.03,638.01 260.76,638.04 262.50,638.07 264.23,638.10 265.96,638.15 267.69,638.19 269.42,638.25 271.15,638.31 272.88,638.37 274.62,638.45 276.35,638.53 278.08,638.62 279.81,638.72 281.54,638.83 283.27,638.95 285.01,639.08 286.74,639.22 288.47,639.37 290.20,639.53 291.93,639.71 293.66,639.89 295.39,640.09 297.13,640.29 298.86,640.51 300.59,640.75 302.32,640.99 304.05,641.25 305.78,641.53 307.52,641.81 309.25,642.11 310.98,642.43 312.71,642.76 314.44,643.10 316.17,643.46 317.91,643.83 319.64,644.23 321.37,644.63 323.10,645.05 323.10,772.94 321.37,772.47 319.64,771.99 317.91,771.51 316.17,771.03 314.44,770.54 312.71,770.05 310.98,769.56 309.25,769.06 307.52,768.56 305.78,768.05 304.05,767.55 302.32,767.04 300.59,766.52 298.86,766.00 297.13,765.48 295.39,764.95 293.66,764.42 291.93,763.89 290.20,763.36 288.47,762.82 286.74,762.27 285.01,761.73 283.27,761.18 281.54,760.63 279.81,760.07 278.08,759.51 276.35,758.95 274.62,758.38 272.88,757.81 271.15,757.24 269.42,756.66 267.69,756.08 265.96,755.50 264.23,754.91 262.50,754.33 260.76,753.73 259.03,753.14 257.30,752.54 255.57,751.94 253.84,751.34 252.11,750.73 250.37,750.12 248.64,749.51 246.91,748.90 245.18,748.28 243.45,747.66 241.72,747.04 239.98,746.41 238.25,745.79 236.52,745.16 234.79,744.53 233.06,743.89 231.33,743.26 229.60,742.62 227.86,741.98 226.13,741.34 224.40,740.69 222.67,740.05 220.94,739.40 219.21,738.75 217.47,738.10 215.74,737.45 214.01,736.80 212.28,736.15 210.55,735.49 208.82,734.84 207.08,734.18 205.35,733.53 203.62,732.87 201.89,732.22 200.16,731.56 198.43,730.91 196.70,730.25 194.96,729.60 193.23,728.94 191.50,728.29 189.77,727.64 188.04,726.99 186.31,726.35 184.57,725.70 182.84,725.06 181.11,724.42 179.38,723.78 177.65,723.15 175.92,722.52 174.18,721.89 172.45,721.27 170.72,720.65 168.99,720.03 167.26,719.42 165.53,718.80 163.80,718.18 162.06,717.56 160.33,716.94 158.60,716.31 156.87,715.67 155.14,715.02 153.41,714.36 151.67,713.69 149.94,713.00 148.21,712.30 146.48,711.57 144.75,710.82 143.02,710.05 141.28,709.26 139.55,708.43 137.82,707.57 136.09,706.68 134.36,705.76 132.63,704.79 130.90,703.78 129.16,702.72 127.43,701.61 125.70,700.45 123.97,699.25 122.24,698.00 120.51,696.73 118.77,695.42 117.04,694.10 115.31,692.76 113.58,691.42 111.85,690.09 110.12,688.78 108.39,687.50 106.65,686.26 104.92,685.06 103.19,683.91 101.46,682.81 99.73,681.75 98.00,680.74 96.26,679.77 94.53,678.84 92.80,677.94 91.07,677.04 89.34,676.13 87.61,675.21 85.87,674.25 84.14,673.25 82.41,672.20 80.68,671.11 78.95,669.96 77.22,668.75 75.49,667.47 73.75,666.11 72.02,664.68 70.29,663.16 68.56,661.55 66.83,659.84 65.10,658.01 63.36,656.07 61.63,653.98 59.90,651.75 58.17,649.35 56.44,646.76 54.71,643.96 52.97,640.92 51.24,637.61 49.51,633.99 47.78,630.00 47.57,629.49 47.36,628.97 47.15,628.44 46.94,627.91 46.72,627.37 46.51,626.82 46.30,626.27 46.09,625.71 45.88,625.14 45.67,624.56 45.46,623.98 45.25,623.38 45.04,622.78 44.82,622.17 44.61,621.56 44.40,620.93 44.19,620.30 43.98,619.65 43.77,619.00 43.56,618.34 43.35,617.66 43.13,616.98 42.92,616.29 42.71,615.59 42.50,614.87 42.29,614.15 42.08,613.41 41.87,612.66 41.66,611.90 41.45,611.13 41.23,610.35 41.02,609.55 40.81,608.74 40.60,607.92 40.39,607.08 40.18,606.22 39.97,605.36 39.76,604.47 39.55,603.58 39.33,602.66 39.12,601.73 38.91,600.78 38.70,599.81 38.49,598.83 38.28,597.82 38.07,596.80 37.86,595.76 37.65,594.69 37.43,593.61 37.22,592.50 37.01,591.37 36.80,590.21 36.59,589.03 36.38,587.82 36.17,586.59 35.96,585.33 35.75,584.05 35.53,582.73 35.32,581.38 35.11,580.00 34.90,578.59 34.69,577.15 34.48,575.67 34.27,574.16 34.06,572.65 33.84,571.14 33.63,569.61 33.42,568.09 33.21,566.55 33.00,565.01 32.79,563.46 32.58,561.89 32.37,560.32 32.16,558.74 31.94,557.14 31.73,555.52 31.52,553.87 31.31,552.19 31.20,551.28 31.13,550.71 31.10,550.43 31.10,550.40" fill="#f58c28" fill-opacity="0.180"/>
<polyline points="31.10,550.40 31.10,550.44 31.13,550.76 31.20,551.39 31.31,552.35 31.52,554.08 31.73,555.74 31.94,557.34 32.16,558.92 32.37,560.46 32.58,561.98 32.79,563.48 33.00,564.97 33.21,566.43 33.42,567.84 33.63,569.18 33.84,570.46 34.06,571.69 34.27,572.88 34.48,574.02 34.69,575.12 34.90,576.19 35.11,577.22 35.32,578.22 35.53,579.19 35.75,580.14 35.96,581.06 36.17,581.95 36.38,582.83 36.59,583.68 36.80,584.52 37.01,585.33 37.22,586.13 37.43,586.92 37.65,587.69 37.86,588.44 38.07,589.18 38.28,589.91 38.49,590.63 38.70,591.33 38.91,592.03 39.12,592.71 39.33,593.38 39.55,594.05 39.76,594.70 39.97,595.35 40.18,595.99 40.39,596.62 40.60,597.24 40.81,597.86 41.02,598.47 41.23,599.07 41.45,599.67 41.66,600.26 41.87,600.84 42.08,601.41 42.29,601.98 42.50,602.54 42.71,603.10 42.92,603.64 43.13,604.18 43.35,604.72 43.56,605.24 43.77,605.76 43.98,606.27 44.19,606.78 44.40,607.27 44.61,607.76 44.82,608.25 45.04,608.72 45.25,609.19 45.46,609.65 45.67,610.11 45.88,610.55 46.09,611.00 46.30,611.43 46.51,611.86 46.72,612.28 46.94,612.69 47.15,613.10 47.36,613.50 47.57,613.89 47.78,614.28 49.51,617.22 51.24,619.77 52.97,622.00 54.71,623.98 56.44,625.75 58.17,627.35 59.90,628.81 61.63,630.15 63.36,631.40 65.10,632.57 66.83,633.67 68.56,634.71 70.29,635.71 72.02,636.66 73.75,637.58 75.49,638.48 77.22,639.34 78.95,640.19 80.68,641.02 82.41,641.84 84.14,642.64 85.87,643.43 87.61,644.22 89.34,645.00 91.07,645.77 92.80,646.53 94.53,647.28 96.26,648.03 98.00,648.77 99.73,649.51 101.46,650.23 103.19,650.95 104.92,651.67 106.65,652.37 108.39,653.07 110.12,653.77 111.85,654.45 113.58,655.13 115.31,655.81 117.04,656.48 118.77,657.14 120.51,657.79 122.24,658.44 123.97,659.09 125.70,659.73 127.43,660.36 129.16,660.99 130.90,661.61 132.63,662.23 134.36,662.85 136.09,663.45 137.82,664.06 139.55,664.65 141.28,665.25 143.02,665.84 144.75,666.42 146.48,667.00 148.21,667.57 149.94,668.14 151.67,668.71 153.41,669.27 155.14,669.83 156.87,670.38 158.60,670.93 160.33,671.48 162.06,672.02 163.80,672.56 165.53,673.09 167.26,673.62 168.99,674.15 170.72,674.67 172.45,675.19 174.18,675.70 175.92,676.21 177.65,676.72 179.38,677.23 181.11,677.73 182.84,678.23 184.57,678.72 186.31,679.21 188.04,679.70 189.77,680.18 191.50,680.67 193.23,681.14 194.96,681.62 196.70,682.09 198.43,682.56 200.16,683.03 201.89,683.49 203.62,683.95 205.35,684.41 207.08,684.87 208.82,685.32 210.55,685.77 212.28,686.22 214.01,686.66 215.74,687.10 217.47,687.54 219.21,687.98 220.94,688.41 222.67,688.84 224.40,689.27 226.13,689.70 227.86,690.12 229.60,690.55 231.33,690.97 233.06,691.38 234.79,691.80 236.52,692.21 238.25,692.62 239.98,693.03 241.72,693.43 243.45,693.84 245.18,694.24 246.91,694.64 248.64,695.04 250.37,695.43 252.11,695.82 253.84,696.21 255.57,696.60 257.30,696.99 259.03,697.37 260.76,697.76 262.50,698.14 264.23,698.52 265.96,698.89 267.69,699.27 269.42,699.64 271.15,700.01 272.88,700.38 274.62,700.75 276.35,701.11 278.08,701.48 279.81,701.84 281.54,702.20 283.27,702.56 285.01,702.92 286.74,703.27 288.47,703.62 290.20,703.98 291.93,704.33 293.66,704.67 295.39,705.02 297.13,705.37 298.86,705.71 300.59,706.05 302.32,706.39 304.05,706.73 305.78,707.07 307.52,707.40 309.25,707.74 310.98,708.07 312.71,708.40 314.44,708.73 316.17,709.06 317.91,709.38 319.64,709.71 321.37,710.03 323.10,710.35" fill="none" stroke="#e88a38" stroke-width="1.10" stroke-linejoin="round"/>
<polygon points="31.10,550.40 31.10,550.40 31.13,550.40 31.20,550.40 31.31,550.40 31.52,550.40 31.73,550.40 31.94,550.40 32.16,550.40 32.37,550.41 32.58,550.41 32.79,550.41 33.00,550.42 33.21,550.42 33.42,550.43 33.63,550.43 33.84,550.44 34.06,550.45 34.27,550.46 34.48,550.48 34.69,550.49 34.90,550.51 35.11,550.52 35.32,550.54 35.53,550.56 35.75,550.58 35.96,550.61 36.17,550.63 36.38,550.66 36.59,550.69 36.80,550.72 37.01,550.76 37.22,550.79 37.43,550.83 37.65,550.87 37.86,550.92 38.07,550.96 38.28,551.01 38.49,551.06 38.70,551.11 38.91,551.17 39.12,551.23 39.33,551.29 39.55,551.35 39.76,551.42 39.97,551.49 40.18,551.56 40.39,551.64 40.60,551.72 40.81,551.80 41.02,551.89 41.23,551.97 41.45,552.06 41.66,552.15 41.87,552.24 42.08,552.34 42.29,552.44 42.50,552.54 42.71,552.64 42.92,552.74 43.13,552.84 43.35,552.95 43.56,553.06 43.77,553.17 43.98,553.28 44.19,553.39 44.40,553.51 44.61,553.62 44.82,553.74 45.04,553.86 45.25,553.98 45.46,554.10 45.67,554.23 45.88,554.35 46.09,554.48 46.30,554.60 46.51,554.73 46.72,554.86 46.94,554.99 47.15,555.12 47.36,555.25 47.57,555.38 47.78,555.52 49.51,556.64 51.24,557.81 52.97,559.01 54.71,560.22 56.44,561.43 58.17,562.65 59.90,563.85 61.63,565.04 63.36,566.21 65.10,567.36 66.83,568.48 68.56,569.58 70.29,570.65 72.02,571.70 73.75,572.72 75.49,573.70 77.22,574.66 78.95,575.59 80.68,576.49 82.41,577.36 84.14,578.21 85.87,579.03 87.61,579.82 89.34,580.58 91.07,581.32 92.80,582.04 94.53,582.73 96.26,583.40 98.00,584.04 99.73,584.67 101.46,585.27 103.19,585.85 104.92,586.41 106.65,586.95 108.39,587.48 110.12,587.98 111.85,588.47 113.58,588.94 115.31,589.39 117.04,589.83 118.77,590.26 120.51,590.66 122.24,591.06 123.97,591.44 125.70,591.81 127.43,592.16 129.16,592.50 130.90,592.83 132.63,593.15 134.36,593.46 136.09,593.75 137.82,594.04 139.55,594.31 141.28,594.58 143.02,594.83 144.75,595.08 146.48,595.32 148.21,595.54 149.94,595.77 151.67,595.98 153.41,596.18 155.14,596.38 156.87,596.57 158.60,596.75 160.33,596.93 162.06,597.10 163.80,597.26 165.53,597.41 167.26,597.56 168.99,597.71 170.72,597.85 172.45,597.98 174.18,598.11 175.92,598.23 177.65,598.35 179.38,598.46 181.11,598.57 182.84,598.67 184.57,598.77 186.31,598.87 188.04,598.96 189.77,599.05 191.50,599.13 193.23,599.21 194.96,599.28 196.70,599.35 198.43,599.42 200.16,599.49 201.89,599.55 203.62,599.61 205.35,599.66 207.08,599.72 208.82,599.77 210.55,599.81 212.28,599.86 214.01,599.90 215.74,599.94 217.47,599.97 219.21,600.01 220.94,600.04 222.67,600.07 224.40,600.09 226.13,600.12 227.86,600.14 229.60,600.16 231.33,600.18 233.06,600.20 234.79,600.21 236.52,600.22 238.25,600.24 239.98,600.25 241.72,600.25 243.45,600.26 245.18,600.26 246.91,600.27 248.64,600.27 250.37,600.27 252.11,600.27 253.84,600.26 255.57,600.26 257.30,600.26 259.03,600.25 260.76,600.24 262.50,600.23 264.23,600.22 265.96,600.21 267.69,600.20 269.42,600.19 271.15,600.17 272.88,600.16 274.62,600.14 276.35,600.12 278.08,600.10 279.81,600.08 281.54,600.06 283.27,600.04 285.01,600.02 286.74,600.00 288.47,599.98 290.20,599.95 291.93,599.93 293.66,599.90 295.39,599.88 297.13,599.85 298.86,599.82 300.59,599.79 302.32,599.76 304.05,599.73 305.78,599.70 307.52,599.67 309.25,599.64 310.98,599.61 312.71,599.58 314.44,599.55 316.17,599.51 317.91,599.48 319.64,599.45 321.37,599.41 323.10,599.38 323.10,683.93 321.37,683.76 319.64,683.58 317.91,683.41 316.17,683.24 314.44,683.06 312.71,682.89 310.98,682.72 309.25,682.55 307.52,682.38 305.78,682.22 304.05,682.05 302.32,681.88 300.59,681.72 298.86,681.55 297.13,681.39 295.39,681.22 293.66,681.06 291.93,680.90 290.20,680.73 288.47,680.57 286.74,680.41 285.01,680.25 283.27,680.09 281.54,679.93 279.81,679.77 278.08,679.62 276.35,679.46 274.62,679.30 272.88,679.14 271.15,678.98 269.42,678.83 267.69,678.67 265.96,678.51 264.23,678.35 262.50,678.20 260.76,678.04 259.03,677.88 257.30,677.72 255.57,677.57 253.84,677.41 252.11,677.25 250.37,677.09 248.64,676.93 246.91,676.77 245.18,676.61 243.45,676.44 241.72,676.28 239.98,676.12 238.25,675.95 236.52,675.79 234.79,675.62 233.06,675.45 231.33,675.28 229.60,675.11 227.86,674.93 226.13,674.76 224.40,674.58 222.67,674.40 220.94,674.22 219.21,674.04 217.47,673.85 215.74,673.66 214.01,673.47 212.28,673.27 210.55,673.07 208.82,672.87 207.08,672.67 205.35,672.46 203.62,672.24 201.89,672.03 200.16,671.80 198.43,671.58 196.70,671.35 194.96,671.11 193.23,670.87 191.50,670.62 189.77,670.36 188.04,670.10 186.31,669.84 184.57,669.56 182.84,669.28 181.11,668.99 179.38,668.69 177.65,668.38 175.92,668.07 174.18,667.74 172.45,667.40 170.72,667.06 168.99,666.70 167.26,666.33 165.53,665.95 163.80,665.55 162.06,665.15 160.33,664.72 158.60,664.29 156.87,663.84 155.14,663.37 153.41,662.88 151.67,662.38 149.94,661.85 148.21,661.31 146.48,660.75 144.75,660.16 143.02,659.56 141.28,658.92 139.55,658.27 137.82,657.58 136.09,656.87 134.36,656.13 132.63,655.36 130.90,654.56 129.16,653.73 127.43,652.86 125.70,651.95 123.97,651.01 122.24,650.03 120.51,649.00 118.77,647.93 117.04,646.82 115.31,645.65 113.58,644.44 111.85,643.17 110.12,641.86 108.39,640.49 106.65,639.08 104.92,637.62 103.19,636.13 101.46,634.60 99.73,633.05 98.00,631.48 96.26,629.89 94.53,628.29 92.80,626.68 91.07,625.05 89.34,623.40 87.61,621.71 85.87,619.98 84.14,618.20 82.41,616.36 80.68,614.44 78.95,612.44 77.22,610.34 75.49,608.13 73.75,605.83 72.02,603.45 70.29,600.99 68.56,598.48 66.83,595.94 65.10,593.36 63.36,590.78 61.63,588.20 59.90,585.63 58.17,583.07 56.44,580.53 54.71,578.04 52.97,575.59 51.24,573.21 49.51,570.91 47.78,568.69 47.57,568.43 47.36,568.17 47.15,567.91 46.94,567.65 46.72,567.40 46.51,567.15 46.30,566.89 46.09,566.64 45.88,566.40 45.67,566.15 45.46,565.91 45.25,565.66 45.04,565.43 44.82,565.19 44.61,564.95 44.40,564.72 44.19,564.49 43.98,564.26 43.77,564.04 43.56,563.81 43.35,563.59 43.13,563.37 42.92,563.16 42.71,562.95 42.50,562.74 42.29,562.53 42.08,562.33 41.87,562.13 41.66,561.93 41.45,561.74 41.23,561.55 41.02,561.36 40.81,561.18 40.60,561.00 40.39,560.82 40.18,560.65 39.97,560.49 39.76,560.33 39.55,560.17 39.33,560.02 39.12,559.87 38.91,559.71 38.70,559.55 38.49,559.40 38.28,559.24 38.07,559.08 37.86,558.91 37.65,558.75 37.43,558.58 37.22,558.41 37.01,558.24 36.80,558.07 36.59,557.89 36.38,557.71 36.17,557.53 35.96,557.34 35.75,557.16 35.53,556.97 35.32,556.77 35.11,556.57 34.90,556.37 34.69,556.16 34.48,555.95 34.27,555.73 34.06,555.51 33.84,555.28 33.63,555.05 33.42,554.81 33.21,554.55 33.00,554.29 32.79,554.02 32.58,553.73 32.37,553.43 32.16,553.11 31.94,552.76 31.73,552.38 31.52,551.94 31.31,551.40 31.20,551.03 31.13,550.72 31.10,550.48 31.10,550.40" fill="#4040f0" fill-opacity="0.220"/>
<polyline points="31.10,550.40 31.10,550.42 31.13,550.50 31.20,550.63 31.31,550.79 31.52,551.03 31.73,551.25 31.94,551.44 32.16,551.62 32.37,551.78 32.58,551.94 32.79,552.10 33.00,552.24 33.21,552.39 33.42,552.53 33.63,552.66 33.84,552.79 34.06,552.92 34.27,553.05 34.48,553.17 34.69,553.30 34.90,553.41 35.11,553.53 35.32,553.65 35.53,553.76 35.75,553.88 35.96,553.99 36.17,554.10 36.38,554.21 36.59,554.31 36.80,554.42 37.01,554.52 37.22,554.63 37.43,554.73 37.65,554.83 37.86,554.93 38.07,555.04 38.28,555.15 38.49,555.26 38.70,555.37 38.91,555.49 39.12,555.61 39.33,555.73 39.55,555.86 39.76,555.98 39.97,556.12 40.18,556.25 40.39,556.39 40.60,556.52 40.81,556.66 41.02,556.81 41.23,556.95 41.45,557.10 41.66,557.25 41.87,557.40 42.08,557.55 42.29,557.71 42.50,557.86 42.71,558.02 42.92,558.18 43.13,558.35 43.35,558.51 43.56,558.68 43.77,558.84 43.98,559.01 44.19,559.18 44.40,559.35 44.61,559.53 44.82,559.70 45.04,559.88 45.25,560.06 45.46,560.24 45.67,560.42 45.88,560.60 46.09,560.79 46.30,560.97 46.51,561.16 46.72,561.35 46.94,561.54 47.15,561.73 47.36,561.92 47.57,562.11 47.78,562.30 49.51,563.93 51.24,565.62 52.97,567.37 54.71,569.15 56.44,570.96 58.17,572.79 59.90,574.64 61.63,576.49 63.36,578.34 65.10,580.18 66.83,582.00 68.56,583.81 70.29,585.59 72.02,587.34 73.75,589.06 75.49,590.75 77.22,592.39 78.95,594.00 80.68,595.57 82.41,597.09 84.14,598.56 85.87,600.00 87.61,601.39 89.34,602.73 91.07,604.04 92.80,605.30 94.53,606.52 96.26,607.70 98.00,608.84 99.73,609.95 101.46,611.02 103.19,612.05 104.92,613.04 106.65,614.00 108.39,614.93 110.12,615.83 111.85,616.69 113.58,617.52 115.31,618.32 117.04,619.09 118.77,619.83 120.51,620.55 122.24,621.24 123.97,621.90 125.70,622.53 127.43,623.14 129.16,623.73 130.90,624.29 132.63,624.84 134.36,625.35 136.09,625.85 137.82,626.33 139.55,626.79 141.28,627.23 143.02,627.65 144.75,628.06 146.48,628.45 148.21,628.83 149.94,629.19 151.67,629.54 153.41,629.87 155.14,630.20 156.87,630.51 158.60,630.81 160.33,631.09 162.06,631.37 163.80,631.64 165.53,631.90 167.26,632.15 168.99,632.39 170.72,632.62 172.45,632.85 174.18,633.06 175.92,633.27 177.65,633.47 179.38,633.67 181.11,633.86 182.84,634.04 184.57,634.22 186.31,634.40 188.04,634.56 189.77,634.73 191.50,634.88 193.23,635.04 194.96,635.19 196.70,635.33 198.43,635.47 200.16,635.61 201.89,635.75 203.62,635.88 205.35,636.00 207.08,636.13 208.82,636.25 210.55,636.37 212.28,636.48 214.01,636.60 215.74,636.71 217.47,636.82 219.21,636.92 220.94,637.03 222.67,637.13 224.40,637.23 226.13,637.33 227.86,637.43 229.60,637.53 231.33,637.62 233.06,637.72 234.79,637.81 236.52,637.90 238.25,637.99 239.98,638.08 241.72,638.17 243.45,638.25 245.18,638.34 246.91,638.42 248.64,638.51 250.37,638.59 252.11,638.67 253.84,638.76 255.57,638.84 257.30,638.92 259.03,639.00 260.76,639.08 262.50,639.16 264.23,639.24 265.96,639.32 267.69,639.40 269.42,639.48 271.15,639.56 272.88,639.64 274.62,639.72 276.35,639.80 278.08,639.88 279.81,639.95 281.54,640.03 283.27,640.11 285.01,640.19 286.74,640.27 288.47,640.35 290.20,640.43 291.93,640.51 293.66,640.59 295.39,640.66 297.13,640.74 298.86,640.82 300.59,640.90 302.32,640.98 304.05,641.07 305.78,641.15 307.52,641.23 309.25,641.31 310.98,641.39 312.71,641.47 314.44,641.56 316.17,641.64 317.91,641.72 319.64,641.81 321.37,641.89 323.10,641.98" fill="none" stroke="#5050cc" stroke-width="1.10" stroke-linejoin="round"/>
<line x1="25.40" y1="544.60" x2="328.40" y2="544.60" stroke="#8a8a8a" stroke-width="1"/>
<line x1="328.40" y1="544.60" x2="328.40" y2="936.50" stroke="#8a8a8a" stroke-width="1"/>
<line x1="25.40" y1="544.10" x2="25.40" y2="937.20" stroke="#555555" stroke-width="1.4"/>
<line x1="24.70" y1="936.50" x2="328.90" y2="936.50" stroke="#555555" stroke-width="1.4"/>
<line x1="21.40" y1="550.40" x2="25.40" y2="550.40" stroke="#505050" stroke-width="1.1"/>
<text x="0" y="0" transform="translate(18.20,550.40) rotate(-90)" text-anchor="middle" font-size="8.7" fill="#161616" font-family="Liberation Sans, sans-serif" stroke="#1a1a1a" stroke-width="0.22" paint-order="stroke">1.00</text>
<line x1="21.40" y1="598.00" x2="25.40" y2="598.00" stroke="#505050" stroke-width="1.1"/>
<text x="0" y="0" transform="translate(18.20,598.00) rotate(-90)" text-anchor="middle" font-size="8.7" fill="#161616" font-family="Liberation Sans, sans-serif" stroke="#1a1a1a" stroke-width="0.22" paint-order="stroke">0.98</text>
<line x1="21.40" y1="645.60" x2="25.40" y2="645.60" stroke="#505050" stroke-width="1.1"/>
<text x="0" y="0" transform="translate(18.20,645.60) rotate(-90)" text-anchor="middle" font-size="8.7" fill="#161616" font-family="Liberation Sans, sans-serif" stroke="#1a1a1a" stroke-width="0.22" paint-order="stroke">0.96</text>
<line x1="21.40" y1="693.20" x2="25.40" y2="693.20" stroke="#505050" stroke-width="1.1"/>
<text x="0" y="0" transform="translate(18.20,693.20) rotate(-90)" text-anchor="middle" font-size="8.7" fill="#161616" font-family="Liberation Sans, sans-serif" stroke="#1a1a1a" stroke-width="0.22" paint-order="stroke">0.94</text>
<line x1="21.40" y1="740.80" x2="25.40" y2="740.80" stroke="#505050" stroke-width="1.1"/>
<text x="0" y="0" transform="translate(18.20,740.80) rotate(-90)" text-anchor="middle" font-size="8.7" fill="#161616" font-family="Liberation Sans, sans-serif" stroke="#1a1a1a" stroke-width="0.22" paint-order="stroke">0.92</text>
<line x1="21.40" y1="788.40" x2="25.40" y2="788.40" stroke="#505050" stroke-width="1.1"/>
<text x="0" y="0" transform="translate(18.20,788.40) rotate(-90)" text-anchor="middle" font-size="8.7" fill="#161616" font-family="Liberation Sans, sans-serif" stroke="#1a1a1a" stroke-width="0.22" paint-order="stroke">0.90</text>
<line x1="21.40" y1="836.00" x2="25.40" y2="836.00" stroke="#505050" stroke-width="1.1"/>
<text x="0" y="0" transform="translate(18.20,836.00) rotate(-90)" text-anchor="middle" font-size="8.7" fill="#161616" font-family="Liberation Sans, sans-serif" stroke="#1a1a1a" stroke-width="0.22" paint-order="stroke">0.88</text>
<line x1="21.40" y1="883.60" x2="25.40" y2="883.60" stroke="#505050" stroke-width="1.1"/>
<text x="0" y="0" transform="translate(18.20,883.60) rotate(-90)" text-anchor="middle" font-size="8.7" fill="#161616" font-family="Liberation Sans, sans-serif" stroke="#1a1a1a" stroke-width="0.22" paint-order="stroke">0.86</text>
<line x1="21.40" y1="931.20" x2="25.40" y2="931.20" stroke="#505050" stroke-width="1.1"/>
<text x="0" y="0" transform="translate(18.20,931.20) rotate(-90)" text-anchor="middle" font-size="8.7" fill="#161616" font-family="Liberation Sans, sans-serif" stroke="#1a1a1a" stroke-width="0.22" paint-order="stroke">0.84</text>
<line x1="64.46" y1="936.50" x2="64.46" y2="940.50" stroke="#505050" stroke-width="1.1"/>
<text x="64.46" y="949.30" text-anchor="middle" font-size="8.7" fill="#161616" font-family="Liberation Sans, sans-serif" stroke="#1a1a1a" stroke-width="0.22" paint-order="stroke">1</text>
<line x1="97.82" y1="936.50" x2="97.82" y2="940.50" stroke="#505050" stroke-width="1.1"/>
<text x="97.82" y="949.30" text-anchor="middle" font-size="8.7" fill="#161616" font-family="Liberation Sans, sans-serif" stroke="#1a1a1a" stroke-width="0.22" paint-order="stroke">2</text>
<line x1="131.18" y1="936.50" x2="131.18" y2="940.50" stroke="#505050" stroke-width="1.1"/>
<text x="131.18" y="949.30" text-anchor="middle" font-size="8.7" fill="#161616" font-family="Liberation Sans, sans-serif" stroke="#1a1a1a" stroke-width="0.22" paint-order="stroke">3</text>
<line x1="164.54" y1="936.50" x2="164.54" y2="940.50" stroke="#505050" stroke-width="1.1"/>
<text x="164.54" y="949.30" text-anchor="middle" font-size="8.7" fill="#161616" font-family="Liberation Sans, sans-serif" stroke="#1a1a1a" stroke-width="0.22" paint-order="stroke">4</text>
<line x1="197.90" y1="936.50" x2="197.90" y2="940.50" stroke="#505050" stroke-width="1.1"/>
<text x="197.90" y="949.30" text-anchor="middle" font-size="8.7" fill="#161616" font-family="Liberation Sans, sans-serif" stroke="#1a1a1a" stroke-width="0.22" paint-order="stroke">5</text>
<line x1="231.26" y1="936.50" x2="231.26" y2="940.50" stroke="#505050" stroke-width="1.1"/>
<text x="231.26" y="949.30" text-anchor="middle" font-size="8.7" fill="#161616" font-family="Liberation Sans, sans-serif" stroke="#1a1a1a" stroke-width="0.22" paint-order="stroke">6</text>
<line x1="264.62" y1="936.50" x2="264.62" y2="940.50" stroke="#505050" stroke-width="1.1"/>
<text x="264.62" y="949.30" text-anchor="middle" font-size="8.7" fill="#161616" font-family="Liberation Sans, sans-serif" stroke="#1a1a1a" stroke-width="0.22" paint-order="stroke">7</text>
<line x1="297.98" y1="936.50" x2="297.98" y2="940.50" stroke="#505050" stroke-width="1.1"/>
<text x="297.98" y="949.30" text-anchor="middle" font-size="8.7" fill="#161616" font-family="Liberation Sans, sans-serif" stroke="#1a1a1a" stroke-width="0.22" paint-order="stroke">8</text>
<text x="176.90" y="958.10" text-anchor="middle" font-size="8.7" fill="#161616" font-family="Liberation Sans, sans-serif" stroke="#1a1a1a" stroke-width="0.22" paint-order="stroke">Years after primary surgery</text>
<text x="0" y="0" transform="translate(7.90,740.55) rotate(-90)" text-anchor="middle" font-size="8.7" fill="#161616" font-family="Liberation Sans, sans-serif" stroke="#1a1a1a" stroke-width="0.22" paint-order="stroke">Survival probability</text>
<rect x="95.30" y="966.00" width="163.90" height="31.60" fill="#fff" stroke="#8a8a8a" stroke-width="1.2"/>
<line x1="99.00" y1="973.60" x2="132.00" y2="973.60" stroke="#3f853f" stroke-width="1.40" stroke-opacity="0.95"/>
<text x="142.50" y="976.70" font-size="8.7" fill="#161616" font-family="Liberation Sans, sans-serif" stroke="#1a1a1a" stroke-width="0.22" paint-order="stroke">HA</text>
<line x1="186.80" y1="973.60" x2="219.80" y2="973.60" stroke="#e2a262" stroke-width="1.40" stroke-opacity="0.95"/>
<text x="230.80" y="976.70" font-size="8.7" fill="#161616" font-family="Liberation Sans, sans-serif" stroke="#1a1a1a" stroke-width="0.22" paint-order="stroke">RTSR</text>
<line x1="99.00" y1="989.90" x2="132.00" y2="989.90" stroke="#7a76e0" stroke-width="1.80" stroke-opacity="0.95"/>
<text x="142.50" y="993.00" font-size="8.7" fill="#161616" font-family="Liberation Sans, sans-serif" stroke="#1a1a1a" stroke-width="0.22" paint-order="stroke">TSR</text>
<line x1="377.10" y1="550.20" x2="679.10" y2="550.20" stroke="#e4e4e4" stroke-width="1" stroke-opacity="1.00"/>
<line x1="377.10" y1="597.80" x2="679.10" y2="597.80" stroke="#e4e4e4" stroke-width="1" stroke-opacity="1.00"/>
<line x1="377.10" y1="645.40" x2="679.10" y2="645.40" stroke="#e4e4e4" stroke-width="1" stroke-opacity="1.00"/>
<line x1="377.10" y1="693.00" x2="679.10" y2="693.00" stroke="#e4e4e4" stroke-width="1" stroke-opacity="1.00"/>
<line x1="377.10" y1="740.60" x2="679.10" y2="740.60" stroke="#e4e4e4" stroke-width="1" stroke-opacity="1.00"/>
<line x1="377.10" y1="788.20" x2="679.10" y2="788.20" stroke="#e4e4e4" stroke-width="1" stroke-opacity="1.00"/>
<line x1="377.10" y1="835.80" x2="679.10" y2="835.80" stroke="#e4e4e4" stroke-width="1" stroke-opacity="1.00"/>
<line x1="377.10" y1="883.40" x2="679.10" y2="883.40" stroke="#e4e4e4" stroke-width="1" stroke-opacity="1.00"/>
<line x1="377.10" y1="931.00" x2="679.10" y2="931.00" stroke="#e4e4e4" stroke-width="1" stroke-opacity="1.00"/>
<polygon points="382.40,550.20 382.40,550.20 382.43,550.20 382.50,550.20 382.61,550.21 382.82,550.23 383.03,550.25 383.24,550.28 383.46,550.31 383.67,550.35 383.88,550.39 384.09,550.43 384.30,550.48 384.51,550.52 384.72,550.57 384.93,550.62 385.14,550.68 385.36,550.73 385.57,550.79 385.78,550.85 385.99,550.91 386.20,550.98 386.41,551.04 386.62,551.11 386.83,551.18 387.04,551.25 387.25,551.32 387.47,551.40 387.68,551.47 387.89,551.55 388.10,551.63 388.31,551.71 388.52,551.79 388.73,551.87 388.94,551.95 389.15,552.04 389.37,552.12 389.58,552.21 389.79,552.30 390.00,552.39 390.21,552.48 390.42,552.58 390.63,552.67 390.84,552.77 391.05,552.86 391.27,552.96 391.48,553.06 391.69,553.16 391.90,553.26 392.11,553.36 392.32,553.46 392.53,553.57 392.74,553.67 392.95,553.78 393.16,553.89 393.38,554.00 393.59,554.10 393.80,554.22 394.01,554.33 394.22,554.44 394.43,554.55 394.64,554.67 394.85,554.78 395.06,554.90 395.28,555.02 395.49,555.13 395.70,555.25 395.91,555.37 396.12,555.50 396.33,555.62 396.54,555.74 396.75,555.86 396.96,555.99 397.18,556.11 397.39,556.24 397.60,556.37 397.81,556.50 398.02,556.63 398.23,556.76 398.44,556.89 398.65,557.02 398.86,557.15 399.07,557.28 400.80,558.38 402.53,559.49 404.25,560.61 405.98,561.72 407.71,562.83 409.43,563.93 411.16,565.03 412.88,566.12 414.61,567.20 416.34,568.27 418.06,569.33 419.79,570.37 421.52,571.41 423.24,572.44 424.97,573.45 426.69,574.45 428.42,575.44 430.15,576.42 431.87,577.39 433.60,578.35 435.33,579.30 437.05,580.23 438.78,581.16 440.50,582.07 442.23,582.98 443.96,583.87 445.68,584.76 447.41,585.64 449.14,586.50 450.86,587.36 452.59,588.21 454.31,589.05 456.04,589.89 457.77,590.71 459.49,591.53 461.22,592.34 462.95,593.14 464.67,593.93 466.40,594.72 468.12,595.50 469.85,596.27 471.58,597.03 473.30,597.79 475.03,598.54 476.76,599.29 478.48,600.03 480.21,600.76 481.93,601.49 483.66,602.21 485.39,602.92 487.11,603.63 488.84,604.34 490.57,605.04 492.29,605.73 494.02,606.42 495.74,607.10 497.47,607.78 499.20,608.45 500.92,609.12 502.65,609.79 504.38,610.45 506.10,611.10 507.83,611.75 509.55,612.40 511.28,613.04 513.01,613.68 514.73,614.31 516.46,614.94 518.18,615.57 519.91,616.19 521.64,616.81 523.36,617.42 525.09,618.03 526.82,618.64 528.54,619.24 530.27,619.84 531.99,620.44 533.72,621.03 535.45,621.63 537.17,622.21 538.90,622.80 540.63,623.38 542.35,623.95 544.08,624.53 545.80,625.10 547.53,625.67 549.26,626.24 550.98,626.80 552.71,627.36 554.44,627.92 556.16,628.47 557.89,629.03 559.61,629.58 561.34,630.12 563.07,630.67 564.79,631.21 566.52,631.75 568.25,632.29 569.97,632.82 571.70,633.36 573.42,633.89 575.15,634.41 576.88,634.94 578.60,635.46 580.33,635.99 582.06,636.51 583.78,637.02 585.51,637.54 587.23,638.05 588.96,638.56 590.69,639.07 592.41,639.58 594.14,640.08 595.87,640.59 597.59,641.09 599.32,641.59 601.04,642.09 602.77,642.58 604.50,643.08 606.22,643.57 607.95,644.06 609.68,644.55 611.40,645.04 613.13,645.52 614.85,646.01 616.58,646.49 618.31,646.97 620.03,647.45 621.76,647.93 623.48,648.41 625.21,648.88 626.94,649.35 628.66,649.83 630.39,650.30 632.12,650.76 633.84,651.23 635.57,651.70 637.29,652.16 639.02,652.63 640.75,653.09 642.47,653.55 644.20,654.01 645.93,654.47 647.65,654.92 649.38,655.38 651.10,655.83 652.83,656.29 654.56,656.74 656.28,657.19 658.01,657.64 659.74,658.08 661.46,658.53 663.19,658.98 664.91,659.42 666.64,659.86 668.37,660.31 670.09,660.75 671.82,661.19 673.55,661.63 673.55,813.43 671.82,811.90 670.09,810.38 668.37,808.89 666.64,807.42 664.91,805.96 663.19,804.52 661.46,803.10 659.74,801.69 658.01,800.31 656.28,798.94 654.56,797.58 652.83,796.25 651.10,794.93 649.38,793.62 647.65,792.33 645.93,791.05 644.20,789.79 642.47,788.54 640.75,787.31 639.02,786.08 637.29,784.88 635.57,783.68 633.84,782.49 632.12,781.32 630.39,780.16 628.66,779.01 626.94,777.87 625.21,776.74 623.48,775.61 621.76,774.50 620.03,773.40 618.31,772.30 616.58,771.21 614.85,770.13 613.13,769.05 611.40,767.98 609.68,766.92 607.95,765.86 606.22,764.81 604.50,763.75 602.77,762.70 601.04,761.66 599.32,760.61 597.59,759.57 595.87,758.52 594.14,757.48 592.41,756.44 590.69,755.39 588.96,754.34 587.23,753.29 585.51,752.23 583.78,751.16 582.06,750.10 580.33,749.02 578.60,747.94 576.88,746.85 575.15,745.75 573.42,744.65 571.70,743.54 569.97,742.43 568.25,741.30 566.52,740.17 564.79,739.03 563.07,737.89 561.34,736.73 559.61,735.57 557.89,734.40 556.16,733.23 554.44,732.04 552.71,730.85 550.98,729.65 549.26,728.44 547.53,727.23 545.80,726.00 544.08,724.77 542.35,723.53 540.63,722.28 538.90,721.02 537.17,719.76 535.45,718.48 533.72,717.20 531.99,715.90 530.27,714.60 528.54,713.29 526.82,711.97 525.09,710.64 523.36,709.30 521.64,707.95 519.91,706.59 518.18,705.22 516.46,703.84 514.73,702.45 513.01,701.05 511.28,699.64 509.55,698.22 507.83,696.79 506.10,695.35 504.38,693.90 502.65,692.43 500.92,690.96 499.20,689.47 497.47,687.97 495.74,686.46 494.02,684.94 492.29,683.41 490.57,681.86 488.84,680.31 487.11,678.74 485.39,677.15 483.66,675.56 481.93,673.95 480.21,672.33 478.48,670.69 476.76,669.04 475.03,667.38 473.30,665.71 471.58,664.02 469.85,662.31 468.12,660.59 466.40,658.86 464.67,657.11 462.95,655.34 461.22,653.56 459.49,651.77 457.77,649.96 456.04,648.13 454.31,646.29 452.59,644.42 450.86,642.55 449.14,640.65 447.41,638.74 445.68,636.81 443.96,634.86 442.23,632.89 440.50,630.90 438.78,628.89 437.05,626.87 435.33,624.83 433.60,622.76 431.87,620.69 430.15,618.59 428.42,616.48 426.69,614.35 424.97,612.21 423.24,610.06 421.52,607.90 419.79,605.72 418.06,603.54 416.34,601.35 414.61,599.16 412.88,596.96 411.16,594.77 409.43,592.58 407.71,590.39 405.98,588.22 404.25,586.06 402.53,583.93 400.80,581.83 399.07,579.77 398.86,579.53 398.65,579.28 398.44,579.03 398.23,578.79 398.02,578.54 397.81,578.30 397.60,578.06 397.39,577.82 397.18,577.58 396.96,577.34 396.75,577.10 396.54,576.87 396.33,576.63 396.12,576.40 395.91,576.17 395.70,575.94 395.49,575.71 395.28,575.48 395.06,575.26 394.85,575.04 394.64,574.82 394.43,574.60 394.22,574.38 394.01,574.17 393.80,573.96 393.59,573.75 393.38,573.54 393.16,573.34 392.95,573.14 392.74,572.94 392.53,572.73 392.32,572.53 392.11,572.32 391.90,572.11 391.69,571.90 391.48,571.68 391.27,571.46 391.05,571.24 390.84,571.01 390.63,570.79 390.42,570.55 390.21,570.32 390.00,570.08 389.79,569.84 389.58,569.59 389.37,569.34 389.15,569.09 388.94,568.83 388.73,568.56 388.52,568.29 388.31,568.02 388.10,567.74 387.89,567.45 387.68,567.16 387.47,566.86 387.25,566.55 387.04,566.24 386.83,565.92 386.62,565.59 386.41,565.25 386.20,564.90 385.99,564.53 385.78,564.16 385.57,563.77 385.36,563.37 385.14,562.95 384.93,562.51 384.72,562.05 384.51,561.57 384.30,561.06 384.09,560.52 383.88,559.93 383.67,559.30 383.46,558.60 383.24,557.82 383.03,556.92 382.82,555.83 382.61,554.36 382.50,553.20 382.43,552.06 382.40,550.88 382.40,550.20" fill="#2a962a" fill-opacity="0.200"/>
<polyline points="382.40,550.20 382.40,550.22 382.43,550.30 382.50,550.45 382.61,550.66 382.82,551.01 383.03,551.32 383.24,551.62 383.46,551.90 383.67,552.17 383.88,552.43 384.09,552.69 384.30,552.94 384.51,553.19 384.72,553.43 384.93,553.66 385.14,553.90 385.36,554.13 385.57,554.35 385.78,554.58 385.99,554.80 386.20,555.02 386.41,555.23 386.62,555.45 386.83,555.66 387.04,555.87 387.25,556.08 387.47,556.29 387.68,556.49 387.89,556.69 388.10,556.90 388.31,557.10 388.52,557.30 388.73,557.50 388.94,557.69 389.15,557.89 389.37,558.08 389.58,558.28 389.79,558.47 390.00,558.66 390.21,558.85 390.42,559.04 390.63,559.23 390.84,559.42 391.05,559.60 391.27,559.79 391.48,559.97 391.69,560.16 391.90,560.34 392.11,560.52 392.32,560.71 392.53,560.89 392.74,561.07 392.95,561.25 393.16,561.43 393.38,561.61 393.59,561.79 393.80,561.97 394.01,562.15 394.22,562.33 394.43,562.52 394.64,562.70 394.85,562.89 395.06,563.07 395.28,563.26 395.49,563.45 395.70,563.64 395.91,563.82 396.12,564.01 396.33,564.20 396.54,564.39 396.75,564.58 396.96,564.77 397.18,564.96 397.39,565.16 397.60,565.35 397.81,565.54 398.02,565.73 398.23,565.93 398.44,566.12 398.65,566.32 398.86,566.51 399.07,566.70 400.80,568.31 402.53,569.94 404.25,571.58 405.98,573.24 407.71,574.91 409.43,576.58 411.16,578.25 412.88,579.93 414.61,581.61 416.34,583.29 418.06,584.97 419.79,586.64 421.52,588.31 423.24,589.97 424.97,591.62 426.69,593.27 428.42,594.91 430.15,596.54 431.87,598.16 433.60,599.77 435.33,601.36 437.05,602.95 438.78,604.53 440.50,606.09 442.23,607.64 443.96,609.18 445.68,610.70 447.41,612.21 449.14,613.71 450.86,615.20 452.59,616.67 454.31,618.12 456.04,619.57 457.77,621.00 459.49,622.41 461.22,623.81 462.95,625.20 464.67,626.57 466.40,627.92 468.12,629.27 469.85,630.59 471.58,631.91 473.30,633.21 475.03,634.49 476.76,635.76 478.48,637.02 480.21,638.26 481.93,639.49 483.66,640.70 485.39,641.90 487.11,643.09 488.84,644.26 490.57,645.42 492.29,646.56 494.02,647.69 495.74,648.81 497.47,649.91 499.20,651.00 500.92,652.08 502.65,653.14 504.38,654.20 506.10,655.23 507.83,656.26 509.55,657.27 511.28,658.27 513.01,659.25 514.73,660.23 516.46,661.19 518.18,662.14 519.91,663.08 521.64,664.00 523.36,664.92 525.09,665.83 526.82,666.73 528.54,667.62 530.27,668.51 531.99,669.38 533.72,670.26 535.45,671.12 537.17,671.98 538.90,672.84 540.63,673.69 542.35,674.54 544.08,675.39 545.80,676.23 547.53,677.07 549.26,677.91 550.98,678.75 552.71,679.59 554.44,680.42 556.16,681.26 557.89,682.09 559.61,682.93 561.34,683.76 563.07,684.60 564.79,685.44 566.52,686.28 568.25,687.12 569.97,687.96 571.70,688.81 573.42,689.66 575.15,690.51 576.88,691.36 578.60,692.22 580.33,693.08 582.06,693.94 583.78,694.81 585.51,695.68 587.23,696.55 588.96,697.43 590.69,698.31 592.41,699.20 594.14,700.08 595.87,700.97 597.59,701.86 599.32,702.75 601.04,703.64 602.77,704.53 604.50,705.43 606.22,706.32 607.95,707.22 609.68,708.11 611.40,709.01 613.13,709.91 614.85,710.80 616.58,711.70 618.31,712.59 620.03,713.48 621.76,714.37 623.48,715.26 625.21,716.15 626.94,717.04 628.66,717.93 630.39,718.81 632.12,719.69 633.84,720.57 635.57,721.45 637.29,722.32 639.02,723.20 640.75,724.07 642.47,724.93 644.20,725.80 645.93,726.66 647.65,727.51 649.38,728.37 651.10,729.22 652.83,730.06 654.56,730.91 656.28,731.74 658.01,732.58 659.74,733.41 661.46,734.23 663.19,735.06 664.91,735.87 666.64,736.69 668.37,737.50 670.09,738.30 671.82,739.10 673.55,739.89" fill="none" stroke="#338833" stroke-width="1.10" stroke-linejoin="round"/>
<polygon points="382.40,550.20 382.40,550.25 382.43,550.45 382.50,550.74 382.61,551.11 382.82,551.67 383.03,552.14 383.24,552.57 383.46,552.96 383.67,553.33 383.88,553.68 384.09,554.02 384.30,554.34 384.51,554.65 384.72,554.96 384.93,555.25 385.14,555.54 385.36,555.82 385.57,556.09 385.78,556.36 385.99,556.62 386.20,556.88 386.41,557.14 386.62,557.39 386.83,557.63 387.04,557.87 387.25,558.11 387.47,558.35 387.68,558.58 387.89,558.81 388.10,559.04 388.31,559.26 388.52,559.48 388.73,559.70 388.94,559.92 389.15,560.13 389.37,560.35 389.58,560.56 389.79,560.77 390.00,560.97 390.21,561.18 390.42,561.38 390.63,561.59 390.84,561.79 391.05,561.98 391.27,562.18 391.48,562.38 391.69,562.57 391.90,562.76 392.11,562.96 392.32,563.15 392.53,563.34 392.74,563.52 392.95,563.71 393.16,563.90 393.38,564.08 393.59,564.26 393.80,564.45 394.01,564.63 394.22,564.81 394.43,564.99 394.64,565.16 394.85,565.34 395.06,565.52 395.28,565.69 395.49,565.87 395.70,566.04 395.91,566.21 396.12,566.38 396.33,566.56 396.54,566.73 396.75,566.90 396.96,567.06 397.18,567.23 397.39,567.40 397.60,567.57 397.81,567.73 398.02,567.90 398.23,568.06 398.44,568.22 398.65,568.39 398.86,568.55 399.07,568.71 400.80,569.99 402.53,571.22 404.25,572.39 405.98,573.51 407.71,574.59 409.43,575.63 411.16,576.63 412.88,577.60 414.61,578.54 416.34,579.46 418.06,580.34 419.79,581.21 421.52,582.05 423.24,582.87 424.97,583.67 426.69,584.45 428.42,585.21 430.15,585.96 431.87,586.69 433.60,587.41 435.33,588.11 437.05,588.81 438.78,589.48 440.50,590.15 442.23,590.81 443.96,591.45 445.68,592.08 447.41,592.71 449.14,593.32 450.86,593.93 452.59,594.52 454.31,595.11 456.04,595.69 457.77,596.26 459.49,596.82 461.22,597.38 462.95,597.93 464.67,598.47 466.40,599.01 468.12,599.54 469.85,600.06 471.58,600.58 473.30,601.09 475.03,601.60 476.76,602.10 478.48,602.60 480.21,603.09 481.93,603.57 483.66,604.05 485.39,604.53 487.11,605.00 488.84,605.47 490.57,605.93 492.29,606.39 494.02,606.84 495.74,607.29 497.47,607.74 499.20,608.18 500.92,608.62 502.65,609.06 504.38,609.49 506.10,609.92 507.83,610.34 509.55,610.76 511.28,611.18 513.01,611.60 514.73,612.01 516.46,612.42 518.18,612.82 519.91,613.23 521.64,613.63 523.36,614.02 525.09,614.42 526.82,614.81 528.54,615.20 530.27,615.59 531.99,615.97 533.72,616.35 535.45,616.73 537.17,617.11 538.90,617.48 540.63,617.86 542.35,618.23 544.08,618.59 545.80,618.96 547.53,619.32 549.26,619.68 550.98,620.04 552.71,620.40 554.44,620.75 556.16,621.11 557.89,621.46 559.61,621.81 561.34,622.16 563.07,622.50 564.79,622.84 566.52,623.19 568.25,623.53 569.97,623.87 571.70,624.20 573.42,624.54 575.15,624.87 576.88,625.20 578.60,625.53 580.33,625.86 582.06,626.19 583.78,626.51 585.51,626.84 587.23,627.16 588.96,627.48 590.69,627.80 592.41,628.12 594.14,628.44 595.87,628.75 597.59,629.06 599.32,629.38 601.04,629.69 602.77,630.00 604.50,630.31 606.22,630.61 607.95,630.92 609.68,631.23 611.40,631.53 613.13,631.83 614.85,632.13 616.58,632.43 618.31,632.73 620.03,633.03 621.76,633.33 623.48,633.62 625.21,633.91 626.94,634.21 628.66,634.50 630.39,634.79 632.12,635.08 633.84,635.37 635.57,635.66 637.29,635.94 639.02,636.23 640.75,636.51 642.47,636.80 644.20,637.08 645.93,637.36 647.65,637.64 649.38,637.92 651.10,638.20 652.83,638.48 654.56,638.76 656.28,639.03 658.01,639.31 659.74,639.58 661.46,639.85 663.19,640.13 664.91,640.40 666.64,640.67 668.37,640.94 670.09,641.21 671.82,641.48 673.55,641.74 673.55,784.61 671.82,783.96 670.09,783.31 668.37,782.66 666.64,782.00 664.91,781.34 663.19,780.67 661.46,780.01 659.74,779.34 658.01,778.66 656.28,777.99 654.56,777.31 652.83,776.62 651.10,775.94 649.38,775.25 647.65,774.55 645.93,773.86 644.20,773.16 642.47,772.45 640.75,771.75 639.02,771.04 637.29,770.32 635.57,769.61 633.84,768.88 632.12,768.16 630.39,767.43 628.66,766.70 626.94,765.97 625.21,765.23 623.48,764.48 621.76,763.74 620.03,762.99 618.31,762.23 616.58,761.47 614.85,760.71 613.13,759.95 611.40,759.18 609.68,758.40 607.95,757.62 606.22,756.84 604.50,756.06 602.77,755.27 601.04,754.47 599.32,753.67 597.59,752.87 595.87,752.06 594.14,751.25 592.41,750.44 590.69,749.62 588.96,748.79 587.23,747.96 585.51,747.13 583.78,746.29 582.06,745.45 580.33,744.60 578.60,743.75 576.88,742.89 575.15,742.03 573.42,741.16 571.70,740.29 569.97,739.41 568.25,738.53 566.52,737.64 564.79,736.75 563.07,735.85 561.34,734.95 559.61,734.04 557.89,733.13 556.16,732.21 554.44,731.29 552.71,730.36 550.98,729.42 549.26,728.48 547.53,727.54 545.80,726.58 544.08,725.63 542.35,724.66 540.63,723.69 538.90,722.72 537.17,721.74 535.45,720.75 533.72,719.75 531.99,718.75 530.27,717.75 528.54,716.73 526.82,715.71 525.09,714.69 523.36,713.65 521.64,712.61 519.91,711.57 518.18,710.51 516.46,709.45 514.73,708.38 513.01,707.31 511.28,706.23 509.55,705.14 507.83,704.04 506.10,702.93 504.38,701.82 502.65,700.70 500.92,699.57 499.20,698.44 497.47,697.29 495.74,696.14 494.02,694.98 492.29,693.81 490.57,692.63 488.84,691.44 487.11,690.24 485.39,689.04 483.66,687.82 481.93,686.60 480.21,685.36 478.48,684.12 476.76,682.86 475.03,681.60 473.30,680.32 471.58,679.03 469.85,677.73 468.12,676.41 466.40,675.09 464.67,673.74 462.95,672.38 461.22,671.01 459.49,669.61 457.77,668.20 456.04,666.77 454.31,665.32 452.59,663.85 450.86,662.35 449.14,660.84 447.41,659.29 445.68,657.72 443.96,656.12 442.23,654.50 440.50,652.84 438.78,651.14 437.05,649.41 435.33,647.64 433.60,645.84 431.87,643.99 430.15,642.10 428.42,640.17 426.69,638.19 424.97,636.16 423.24,634.08 421.52,631.95 419.79,629.77 418.06,627.52 416.34,625.21 414.61,622.83 412.88,620.38 411.16,617.86 409.43,615.26 407.71,612.57 405.98,609.78 404.25,606.90 402.53,603.91 400.80,600.79 399.07,597.55 398.86,597.14 398.65,596.73 398.44,596.32 398.23,595.91 398.02,595.50 397.81,595.08 397.60,594.66 397.39,594.24 397.18,593.82 396.96,593.40 396.75,592.98 396.54,592.55 396.33,592.12 396.12,591.69 395.91,591.25 395.70,590.82 395.49,590.38 395.28,589.94 395.06,589.50 394.85,589.05 394.64,588.60 394.43,588.15 394.22,587.70 394.01,587.25 393.80,586.79 393.59,586.33 393.38,585.86 393.16,585.40 392.95,584.93 392.74,584.45 392.53,583.98 392.32,583.50 392.11,583.01 391.90,582.53 391.69,582.04 391.48,581.55 391.27,581.05 391.05,580.55 390.84,580.04 390.63,579.53 390.42,579.02 390.21,578.50 390.00,577.98 389.79,577.45 389.58,576.92 389.37,576.39 389.15,575.84 388.94,575.30 388.73,574.74 388.52,574.18 388.31,573.62 388.10,573.05 387.89,572.47 387.68,571.88 387.47,571.29 387.25,570.68 387.04,570.07 386.83,569.45 386.62,568.82 386.41,568.19 386.20,567.53 385.99,566.87 385.78,566.20 385.57,565.51 385.36,564.81 385.14,564.09 384.93,563.35 384.72,562.59 384.51,561.81 384.30,561.01 384.09,560.17 383.88,559.30 383.67,558.40 383.46,557.44 383.24,556.41 383.03,555.31 382.82,554.07 382.61,552.61 382.50,551.65 382.43,550.88 382.40,550.34 382.40,550.20" fill="#f58c28" fill-opacity="0.180"/>
<polyline points="382.40,550.20 382.40,550.29 382.43,550.62 382.50,551.08 382.61,551.66 382.82,552.53 383.03,553.27 383.24,553.92 383.46,554.53 383.67,555.10 383.88,555.63 384.09,556.15 384.30,556.64 384.51,557.11 384.72,557.57 384.93,558.02 385.14,558.45 385.36,558.87 385.57,559.29 385.78,559.69 385.99,560.09 386.20,560.47 386.41,560.85 386.62,561.23 386.83,561.60 387.04,561.96 387.25,562.32 387.47,562.67 387.68,563.02 387.89,563.37 388.10,563.72 388.31,564.07 388.52,564.42 388.73,564.77 388.94,565.12 389.15,565.46 389.37,565.81 389.58,566.15 389.79,566.50 390.00,566.84 390.21,567.18 390.42,567.52 390.63,567.86 390.84,568.20 391.05,568.53 391.27,568.87 391.48,569.21 391.69,569.54 391.90,569.87 392.11,570.20 392.32,570.54 392.53,570.86 392.74,571.19 392.95,571.52 393.16,571.85 393.38,572.17 393.59,572.50 393.80,572.82 394.01,573.14 394.22,573.46 394.43,573.78 394.64,574.10 394.85,574.41 395.06,574.73 395.28,575.05 395.49,575.36 395.70,575.67 395.91,575.98 396.12,576.29 396.33,576.60 396.54,576.91 396.75,577.22 396.96,577.52 397.18,577.83 397.39,578.13 397.60,578.43 397.81,578.73 398.02,579.03 398.23,579.33 398.44,579.63 398.65,579.93 398.86,580.22 399.07,580.52 400.80,582.89 402.53,585.18 404.25,587.41 405.98,589.56 407.71,591.65 409.43,593.68 411.16,595.65 412.88,597.55 414.61,599.40 416.34,601.19 418.06,602.93 419.79,604.62 421.52,606.25 423.24,607.84 424.97,609.37 426.69,610.87 428.42,612.32 430.15,613.74 431.87,615.12 433.60,616.46 435.33,617.77 437.05,619.06 438.78,620.31 440.50,621.54 442.23,622.74 443.96,623.92 445.68,625.08 447.41,626.22 449.14,627.33 450.86,628.43 452.59,629.51 454.31,630.57 456.04,631.61 457.77,632.64 459.49,633.65 461.22,634.65 462.95,635.64 464.67,636.61 466.40,637.57 468.12,638.52 469.85,639.45 471.58,640.38 473.30,641.29 475.03,642.20 476.76,643.09 478.48,643.97 480.21,644.85 481.93,645.72 483.66,646.57 485.39,647.42 487.11,648.27 488.84,649.10 490.57,649.93 492.29,650.75 494.02,651.56 495.74,652.37 497.47,653.17 499.20,653.96 500.92,654.75 502.65,655.54 504.38,656.31 506.10,657.09 507.83,657.85 509.55,658.61 511.28,659.37 513.01,660.12 514.73,660.86 516.46,661.60 518.18,662.34 519.91,663.07 521.64,663.79 523.36,664.51 525.09,665.23 526.82,665.94 528.54,666.65 530.27,667.35 531.99,668.04 533.72,668.74 535.45,669.43 537.17,670.11 538.90,670.79 540.63,671.47 542.35,672.14 544.08,672.81 545.80,673.47 547.53,674.13 549.26,674.79 550.98,675.44 552.71,676.09 554.44,676.73 556.16,677.38 557.89,678.01 559.61,678.65 561.34,679.28 563.07,679.90 564.79,680.53 566.52,681.15 568.25,681.76 569.97,682.38 571.70,682.99 573.42,683.59 575.15,684.20 576.88,684.80 578.60,685.40 580.33,685.99 582.06,686.58 583.78,687.17 585.51,687.75 587.23,688.34 588.96,688.91 590.69,689.49 592.41,690.06 594.14,690.63 595.87,691.20 597.59,691.77 599.32,692.33 601.04,692.89 602.77,693.44 604.50,694.00 606.22,694.55 607.95,695.10 609.68,695.64 611.40,696.18 613.13,696.72 614.85,697.26 616.58,697.80 618.31,698.33 620.03,698.86 621.76,699.39 623.48,699.92 625.21,700.44 626.94,700.96 628.66,701.48 630.39,701.99 632.12,702.51 633.84,703.02 635.57,703.53 637.29,704.04 639.02,704.54 640.75,705.04 642.47,705.54 644.20,706.04 645.93,706.54 647.65,707.03 649.38,707.52 651.10,708.01 652.83,708.50 654.56,708.99 656.28,709.47 658.01,709.95 659.74,710.43 661.46,710.91 663.19,711.38 664.91,711.86 666.64,712.33 668.37,712.80 670.09,713.26 671.82,713.73 673.55,714.19" fill="none" stroke="#e88a38" stroke-width="1.10" stroke-linejoin="round"/>
<polygon points="382.40,550.20 382.40,550.20 382.43,550.20 382.50,550.20 382.61,550.21 382.82,550.22 383.03,550.26 383.24,550.31 383.46,550.37 383.67,550.45 383.88,550.54 384.09,550.65 384.30,550.78 384.51,550.92 384.72,551.09 384.93,551.26 385.14,551.46 385.36,551.67 385.57,551.90 385.78,552.15 385.99,552.41 386.20,552.70 386.41,553.00 386.62,553.31 386.83,553.65 387.04,554.01 387.25,554.38 387.47,554.77 387.68,555.18 387.89,555.61 388.10,556.05 388.31,556.52 388.52,557.00 388.73,557.50 388.94,558.02 389.15,558.56 389.37,559.12 389.58,559.70 389.79,560.30 390.00,560.91 390.21,561.55 390.42,562.20 390.63,562.87 390.84,563.56 391.05,564.25 391.27,564.94 391.48,565.63 391.69,566.32 391.90,567.00 392.11,567.67 392.32,568.34 392.53,569.01 392.74,569.67 392.95,570.32 393.16,570.97 393.38,571.60 393.59,572.23 393.80,572.86 394.01,573.47 394.22,574.08 394.43,574.68 394.64,575.27 394.85,575.86 395.06,576.43 395.28,577.00 395.49,577.56 395.70,578.11 395.91,578.65 396.12,579.18 396.33,579.71 396.54,580.23 396.75,580.74 396.96,581.25 397.18,581.74 397.39,582.23 397.60,582.71 397.81,583.19 398.02,583.66 398.23,584.12 398.44,584.57 398.65,585.02 398.86,585.46 399.07,585.90 400.80,589.24 402.53,592.25 404.25,594.97 405.98,597.46 407.71,599.77 409.43,601.91 411.16,603.94 412.88,605.86 414.61,607.71 416.34,609.50 418.06,611.23 419.79,612.92 421.52,614.57 423.24,616.17 424.97,617.73 426.69,619.24 428.42,620.72 430.15,622.16 431.87,623.56 433.60,624.92 435.33,626.25 437.05,627.54 438.78,628.80 440.50,630.03 442.23,631.22 443.96,632.39 445.68,633.52 447.41,634.63 449.14,635.71 450.86,636.76 452.59,637.79 454.31,638.79 456.04,639.76 457.77,640.71 459.49,641.64 461.22,642.54 462.95,643.42 464.67,644.28 466.40,645.12 468.12,645.94 469.85,646.74 471.58,647.51 473.30,648.27 475.03,649.01 476.76,649.73 478.48,650.43 480.21,651.12 481.93,651.79 483.66,652.44 485.39,653.07 487.11,653.69 488.84,654.30 490.57,654.89 492.29,655.46 494.02,656.02 495.74,656.57 497.47,657.11 499.20,657.63 500.92,658.14 502.65,658.64 504.38,659.13 506.10,659.60 507.83,660.07 509.55,660.52 511.28,660.97 513.01,661.40 514.73,661.83 516.46,662.24 518.18,662.65 519.91,663.05 521.64,663.44 523.36,663.82 525.09,664.19 526.82,664.55 528.54,664.91 530.27,665.26 531.99,665.60 533.72,665.93 535.45,666.26 537.17,666.58 538.90,666.90 540.63,667.20 542.35,667.50 544.08,667.80 545.80,668.09 547.53,668.37 549.26,668.65 550.98,668.92 552.71,669.18 554.44,669.44 556.16,669.70 557.89,669.95 559.61,670.19 561.34,670.43 563.07,670.67 564.79,670.90 566.52,671.12 568.25,671.35 569.97,671.56 571.70,671.78 573.42,671.98 575.15,672.19 576.88,672.39 578.60,672.59 580.33,672.78 582.06,672.97 583.78,673.15 585.51,673.33 587.23,673.51 588.96,673.69 590.69,673.86 592.41,674.03 594.14,674.19 595.87,674.35 597.59,674.51 599.32,674.67 601.04,674.82 602.77,674.97 604.50,675.11 606.22,675.26 607.95,675.40 609.68,675.54 611.40,675.67 613.13,675.80 614.85,675.93 616.58,676.06 618.31,676.19 620.03,676.31 621.76,676.43 623.48,676.55 625.21,676.66 626.94,676.78 628.66,676.89 630.39,677.00 632.12,677.10 633.84,677.21 635.57,677.31 637.29,677.41 639.02,677.51 640.75,677.61 642.47,677.70 644.20,677.79 645.93,677.89 647.65,677.97 649.38,678.06 651.10,678.15 652.83,678.23 654.56,678.31 656.28,678.39 658.01,678.47 659.74,678.55 661.46,678.63 663.19,678.70 664.91,678.77 666.64,678.85 668.37,678.92 670.09,678.98 671.82,679.05 673.55,679.12 673.55,833.55 671.82,833.39 670.09,833.22 668.37,833.04 666.64,832.87 664.91,832.69 663.19,832.51 661.46,832.33 659.74,832.15 658.01,831.96 656.28,831.77 654.56,831.58 652.83,831.39 651.10,831.19 649.38,830.99 647.65,830.79 645.93,830.58 644.20,830.38 642.47,830.16 640.75,829.95 639.02,829.73 637.29,829.51 635.57,829.29 633.84,829.06 632.12,828.83 630.39,828.60 628.66,828.36 626.94,828.12 625.21,827.87 623.48,827.63 621.76,827.37 620.03,827.12 618.31,826.86 616.58,826.59 614.85,826.32 613.13,826.05 611.40,825.77 609.68,825.49 607.95,825.20 606.22,824.91 604.50,824.61 602.77,824.31 601.04,824.00 599.32,823.69 597.59,823.37 595.87,823.05 594.14,822.72 592.41,822.38 590.69,822.04 588.96,821.69 587.23,821.34 585.51,820.98 583.78,820.61 582.06,820.24 580.33,819.86 578.60,819.47 576.88,819.07 575.15,818.67 573.42,818.26 571.70,817.84 569.97,817.41 568.25,816.98 566.52,816.53 564.79,816.08 563.07,815.62 561.34,815.15 559.61,814.67 557.89,814.18 556.16,813.68 554.44,813.16 552.71,812.64 550.98,812.11 549.26,811.56 547.53,811.01 545.80,810.44 544.08,809.86 542.35,809.26 540.63,808.66 538.90,808.04 537.17,807.40 535.45,806.75 533.72,806.09 531.99,805.41 530.27,804.72 528.54,804.00 526.82,803.28 525.09,802.53 523.36,801.77 521.64,800.99 519.91,800.19 518.18,799.37 516.46,798.53 514.73,797.67 513.01,796.79 511.28,795.88 509.55,794.95 507.83,794.00 506.10,793.02 504.38,792.02 502.65,790.99 500.92,789.94 499.20,788.85 497.47,787.74 495.74,786.60 494.02,785.42 492.29,784.21 490.57,782.97 488.84,781.69 487.11,780.38 485.39,779.03 483.66,777.64 481.93,776.21 480.21,774.73 478.48,773.21 476.76,771.65 475.03,770.04 473.30,768.39 471.58,766.69 469.85,764.94 468.12,763.14 466.40,761.29 464.67,759.39 462.95,757.43 461.22,755.43 459.49,753.37 457.77,751.26 456.04,749.09 454.31,746.87 452.59,744.60 450.86,742.26 449.14,739.87 447.41,737.42 445.68,734.90 443.96,732.33 442.23,729.68 440.50,726.97 438.78,724.19 437.05,721.34 435.33,718.41 433.60,715.41 431.87,712.32 430.15,709.14 428.42,705.88 426.69,702.53 424.97,699.08 423.24,695.53 421.52,691.88 419.79,688.12 418.06,684.24 416.34,680.24 414.61,676.12 412.88,671.86 411.16,667.45 409.43,662.89 407.71,658.16 405.98,653.26 404.25,648.16 402.53,642.86 400.80,637.33 399.07,631.56 398.86,630.83 398.65,630.10 398.44,629.37 398.23,628.63 398.02,627.89 397.81,627.15 397.60,626.40 397.39,625.64 397.18,624.89 396.96,624.12 396.75,623.36 396.54,622.58 396.33,621.81 396.12,621.02 395.91,620.24 395.70,619.44 395.49,618.65 395.28,617.85 395.06,617.04 394.85,616.23 394.64,615.41 394.43,614.59 394.22,613.76 394.01,612.93 393.80,612.09 393.59,611.25 393.38,610.40 393.16,609.55 392.95,608.70 392.74,607.84 392.53,606.98 392.32,606.11 392.11,605.23 391.90,604.35 391.69,603.47 391.48,602.58 391.27,601.68 391.05,600.78 390.84,599.87 390.63,598.96 390.42,598.04 390.21,597.11 390.00,596.18 389.79,595.24 389.58,594.29 389.37,593.33 389.15,592.37 388.94,591.39 388.73,590.41 388.52,589.42 388.31,588.42 388.10,587.41 387.89,586.40 387.68,585.37 387.47,584.33 387.25,583.27 387.04,582.21 386.83,581.13 386.62,580.04 386.41,578.93 386.20,577.81 385.99,576.67 385.78,575.51 385.57,574.34 385.36,573.14 385.14,571.92 384.93,570.67 384.72,569.40 384.51,568.09 384.30,566.75 384.09,565.37 383.88,563.95 383.67,562.47 383.46,560.92 383.24,559.29 383.03,557.54 382.82,555.64 382.61,553.46 382.50,552.07 382.43,551.03 382.40,550.35 382.40,550.20" fill="#4040f0" fill-opacity="0.220"/>
<polyline points="382.40,550.20 382.40,550.20 382.43,550.23 382.50,550.34 382.61,550.58 382.82,551.15 383.03,551.82 383.24,552.57 383.46,553.38 383.67,554.25 383.88,555.16 384.09,556.12 384.30,557.11 384.51,558.14 384.72,559.20 384.93,560.29 385.14,561.41 385.36,562.56 385.57,563.73 385.78,564.88 385.99,565.99 386.20,567.07 386.41,568.11 386.62,569.11 386.83,570.08 387.04,571.02 387.25,571.93 387.47,572.81 387.68,573.66 387.89,574.49 388.10,575.29 388.31,576.07 388.52,576.83 388.73,577.57 388.94,578.28 389.15,578.99 389.37,579.67 389.58,580.34 389.79,581.00 390.00,581.64 390.21,582.27 390.42,582.88 390.63,583.49 390.84,584.09 391.05,584.67 391.27,585.25 391.48,585.82 391.69,586.38 391.90,586.93 392.11,587.48 392.32,588.02 392.53,588.56 392.74,589.09 392.95,589.61 393.16,590.13 393.38,590.64 393.59,591.16 393.80,591.66 394.01,592.17 394.22,592.67 394.43,593.17 394.64,593.66 394.85,594.15 395.06,594.64 395.28,595.13 395.49,595.62 395.70,596.10 395.91,596.59 396.12,597.07 396.33,597.55 396.54,598.03 396.75,598.51 396.96,598.99 397.18,599.47 397.39,599.94 397.60,600.42 397.81,600.90 398.02,601.37 398.23,601.85 398.44,602.33 398.65,602.81 398.86,603.28 399.07,603.76 400.80,607.66 402.53,611.54 404.25,615.38 405.98,619.17 407.71,622.91 409.43,626.57 411.16,630.17 412.88,633.69 414.61,637.13 416.34,640.49 418.06,643.77 419.79,646.96 421.52,650.06 423.24,653.08 424.97,656.02 426.69,658.87 428.42,661.63 430.15,664.31 431.87,666.91 433.60,669.43 435.33,671.86 437.05,674.21 438.78,676.49 440.50,678.69 442.23,680.81 443.96,682.86 445.68,684.83 447.41,686.73 449.14,688.57 450.86,690.33 452.59,692.04 454.31,693.69 456.04,695.28 457.77,696.82 459.49,698.30 461.22,699.74 462.95,701.13 464.67,702.47 466.40,703.78 468.12,705.04 469.85,706.27 471.58,707.45 473.30,708.60 475.03,709.72 476.76,710.80 478.48,711.86 480.21,712.88 481.93,713.88 483.66,714.84 485.39,715.78 487.11,716.70 488.84,717.59 490.57,718.46 492.29,719.30 494.02,720.12 495.74,720.92 497.47,721.71 499.20,722.47 500.92,723.21 502.65,723.94 504.38,724.64 506.10,725.34 507.83,726.01 509.55,726.67 511.28,727.32 513.01,727.95 514.73,728.56 516.46,729.17 518.18,729.76 519.91,730.33 521.64,730.90 523.36,731.45 525.09,732.00 526.82,732.53 528.54,733.05 530.27,733.56 531.99,734.06 533.72,734.55 535.45,735.03 537.17,735.50 538.90,735.97 540.63,736.42 542.35,736.87 544.08,737.31 545.80,737.74 547.53,738.16 549.26,738.58 550.98,738.99 552.71,739.39 554.44,739.78 556.16,740.17 557.89,740.56 559.61,740.93 561.34,741.30 563.07,741.67 564.79,742.03 566.52,742.38 568.25,742.73 569.97,743.07 571.70,743.41 573.42,743.75 575.15,744.08 576.88,744.40 578.60,744.72 580.33,745.04 582.06,745.35 583.78,745.66 585.51,745.96 587.23,746.26 588.96,746.56 590.69,746.85 592.41,747.14 594.14,747.42 595.87,747.70 597.59,747.98 599.32,748.26 601.04,748.53 602.77,748.80 604.50,749.06 606.22,749.33 607.95,749.59 609.68,749.84 611.40,750.10 613.13,750.35 614.85,750.60 616.58,750.84 618.31,751.09 620.03,751.33 621.76,751.57 623.48,751.81 625.21,752.04 626.94,752.28 628.66,752.51 630.39,752.74 632.12,752.96 633.84,753.19 635.57,753.41 637.29,753.63 639.02,753.85 640.75,754.07 642.47,754.28 644.20,754.50 645.93,754.71 647.65,754.92 649.38,755.13 651.10,755.34 652.83,755.54 654.56,755.75 656.28,755.95 658.01,756.15 659.74,756.35 661.46,756.55 663.19,756.75 664.91,756.95 666.64,757.14 668.37,757.33 670.09,757.53 671.82,757.72 673.55,757.91" fill="none" stroke="#5050cc" stroke-width="1.10" stroke-linejoin="round"/>
<polygon points="382.40,550.20 382.40,550.26 382.43,550.52 382.50,550.94 382.61,551.51 382.82,552.41 383.03,553.21 383.24,553.95 383.46,554.64 383.67,555.31 383.88,555.94 384.09,556.55 384.30,557.15 384.51,557.73 384.72,558.29 384.93,558.85 385.14,559.39 385.36,559.92 385.57,560.45 385.78,560.96 385.99,561.47 386.20,561.97 386.41,562.46 386.62,562.95 386.83,563.43 387.04,563.91 387.25,564.38 387.47,564.84 387.68,565.30 387.89,565.76 388.10,566.21 388.31,566.66 388.52,567.10 388.73,567.54 388.94,567.98 389.15,568.41 389.37,568.84 389.58,569.27 389.79,569.69 390.00,570.11 390.21,570.53 390.42,570.95 390.63,571.36 390.84,571.77 391.05,572.18 391.27,572.58 391.48,572.98 391.69,573.37 391.90,573.77 392.11,574.16 392.32,574.54 392.53,574.93 392.74,575.30 392.95,575.68 393.16,576.06 393.38,576.43 393.59,576.79 393.80,577.16 394.01,577.52 394.22,577.88 394.43,578.24 394.64,578.59 394.85,578.94 395.06,579.29 395.28,579.64 395.49,579.98 395.70,580.32 395.91,580.66 396.12,580.99 396.33,581.33 396.54,581.66 396.75,581.99 396.96,582.31 397.18,582.64 397.39,582.96 397.60,583.28 397.81,583.60 398.02,583.91 398.23,584.23 398.44,584.54 398.65,584.85 398.86,585.15 399.07,585.46 400.80,587.88 402.53,590.18 404.25,592.37 405.98,594.46 407.71,596.46 409.43,598.36 411.16,600.19 412.88,601.94 414.61,603.62 416.34,605.24 418.06,606.79 419.79,608.29 421.52,609.73 423.24,611.11 424.97,612.45 426.69,613.74 428.42,614.99 430.15,616.20 431.87,617.36 433.60,618.49 435.33,619.58 437.05,620.64 438.78,621.66 440.50,622.65 442.23,623.61 443.96,624.54 445.68,625.45 447.41,626.33 449.14,627.18 450.86,628.00 452.59,628.80 454.31,629.58 456.04,630.34 457.77,631.08 459.49,631.79 461.22,632.49 462.95,633.17 464.67,633.82 466.40,634.46 468.12,635.09 469.85,635.69 471.58,636.28 473.30,636.86 475.03,637.42 476.76,637.96 478.48,638.49 480.21,639.01 481.93,639.51 483.66,640.00 485.39,640.48 487.11,640.94 488.84,641.40 490.57,641.84 492.29,642.27 494.02,642.69 495.74,643.10 497.47,643.50 499.20,643.89 500.92,644.26 502.65,644.63 504.38,644.99 506.10,645.34 507.83,645.69 509.55,646.02 511.28,646.35 513.01,646.66 514.73,646.97 516.46,647.28 518.18,647.57 519.91,647.86 521.64,648.14 523.36,648.41 525.09,648.67 526.82,648.93 528.54,649.19 530.27,649.43 531.99,649.67 533.72,649.91 535.45,650.14 537.17,650.36 538.90,650.57 540.63,650.79 542.35,650.99 544.08,651.19 545.80,651.39 547.53,651.58 549.26,651.76 550.98,651.94 552.71,652.12 554.44,652.29 556.16,652.46 557.89,652.62 559.61,652.78 561.34,652.93 563.07,653.08 564.79,653.22 566.52,653.37 568.25,653.50 569.97,653.64 571.70,653.77 573.42,653.89 575.15,654.02 576.88,654.13 578.60,654.25 580.33,654.36 582.06,654.47 583.78,654.58 585.51,654.68 587.23,654.78 588.96,654.87 590.69,654.97 592.41,655.06 594.14,655.14 595.87,655.23 597.59,655.31 599.32,655.39 601.04,655.46 602.77,655.54 604.50,655.61 606.22,655.68 607.95,655.74 609.68,655.81 611.40,655.87 613.13,655.92 614.85,655.98 616.58,656.04 618.31,656.09 620.03,656.14 621.76,656.18 623.48,656.23 625.21,656.27 626.94,656.31 628.66,656.35 630.39,656.39 632.12,656.42 633.84,656.46 635.57,656.49 637.29,656.52 639.02,656.55 640.75,656.57 642.47,656.60 644.20,656.62 645.93,656.64 647.65,656.66 649.38,656.68 651.10,656.69 652.83,656.71 654.56,656.72 656.28,656.73 658.01,656.74 659.74,656.75 661.46,656.76 663.19,656.76 664.91,656.77 666.64,656.77 668.37,656.77 670.09,656.77 671.82,656.77 673.55,656.77 673.55,827.18 671.82,826.87 670.09,826.55 668.37,826.24 666.64,825.93 664.91,825.62 663.19,825.30 661.46,824.99 659.74,824.67 658.01,824.36 656.28,824.04 654.56,823.73 652.83,823.41 651.10,823.09 649.38,822.78 647.65,822.46 645.93,822.14 644.20,821.82 642.47,821.50 640.75,821.17 639.02,820.85 637.29,820.52 635.57,820.20 633.84,819.87 632.12,819.54 630.39,819.21 628.66,818.88 626.94,818.55 625.21,818.22 623.48,817.88 621.76,817.54 620.03,817.21 618.31,816.86 616.58,816.52 614.85,816.18 613.13,815.83 611.40,815.48 609.68,815.13 607.95,814.78 606.22,814.42 604.50,814.06 602.77,813.70 601.04,813.33 599.32,812.97 597.59,812.59 595.87,812.22 594.14,811.84 592.41,811.46 590.69,811.08 588.96,810.69 587.23,810.30 585.51,809.90 583.78,809.50 582.06,809.10 580.33,808.69 578.60,808.27 576.88,807.85 575.15,807.43 573.42,807.00 571.70,806.56 569.97,806.12 568.25,805.68 566.52,805.23 564.79,804.77 563.07,804.30 561.34,803.84 559.61,803.36 557.89,802.88 556.16,802.39 554.44,801.89 552.71,801.39 550.98,800.87 549.26,800.36 547.53,799.83 545.80,799.29 544.08,798.75 542.35,798.20 540.63,797.64 538.90,797.07 537.17,796.49 535.45,795.90 533.72,795.30 531.99,794.69 530.27,794.07 528.54,793.43 526.82,792.79 525.09,792.13 523.36,791.46 521.64,790.78 519.91,790.09 518.18,789.38 516.46,788.66 514.73,787.92 513.01,787.17 511.28,786.40 509.55,785.62 507.83,784.82 506.10,784.00 504.38,783.16 502.65,782.30 500.92,781.43 499.20,780.53 497.47,779.62 495.74,778.68 494.02,777.71 492.29,776.73 490.57,775.72 488.84,774.68 487.11,773.62 485.39,772.53 483.66,771.41 481.93,770.25 480.21,769.07 478.48,767.86 476.76,766.61 475.03,765.32 473.30,764.00 471.58,762.64 469.85,761.24 468.12,759.80 466.40,758.32 464.67,756.80 462.95,755.23 461.22,753.61 459.49,751.95 457.77,750.24 456.04,748.47 454.31,746.66 452.59,744.78 450.86,742.85 449.14,740.86 447.41,738.81 445.68,736.69 443.96,734.50 442.23,732.25 440.50,729.92 438.78,727.51 437.05,725.02 435.33,722.45 433.60,719.79 431.87,717.03 430.15,714.19 428.42,711.23 426.69,708.18 424.97,705.01 423.24,701.72 421.52,698.31 419.79,694.77 418.06,691.09 416.34,687.27 414.61,683.28 412.88,679.14 411.16,674.81 409.43,670.30 407.71,665.59 405.98,660.66 404.25,655.49 402.53,650.09 400.80,644.42 399.07,638.49 398.86,637.74 398.65,636.99 398.44,636.24 398.23,635.48 398.02,634.72 397.81,633.95 397.60,633.18 397.39,632.40 397.18,631.62 396.96,630.84 396.75,630.05 396.54,629.25 396.33,628.45 396.12,627.65 395.91,626.84 395.70,626.03 395.49,625.21 395.28,624.39 395.06,623.56 394.85,622.73 394.64,621.90 394.43,621.06 394.22,620.21 394.01,619.36 393.80,618.50 393.59,617.64 393.38,616.77 393.16,615.90 392.95,615.02 392.74,614.13 392.53,613.23 392.32,612.33 392.11,611.41 391.90,610.49 391.69,609.56 391.48,608.62 391.27,607.66 391.05,606.70 390.84,605.72 390.63,604.73 390.42,603.73 390.21,602.71 390.00,601.68 389.79,600.63 389.58,599.56 389.37,598.48 389.15,597.37 388.94,596.25 388.73,595.10 388.52,593.93 388.31,592.73 388.10,591.51 387.89,590.26 387.68,588.98 387.47,587.67 387.25,586.32 387.04,584.93 386.83,583.51 386.62,582.05 386.41,580.54 386.20,578.99 385.99,577.38 385.78,575.73 385.57,574.04 385.36,572.36 385.14,570.69 384.93,569.02 384.72,567.36 384.51,565.71 384.30,564.06 384.09,562.43 383.88,560.81 383.67,559.21 383.46,557.62 383.24,556.05 383.03,554.51 382.82,553.00 382.61,551.54 382.50,550.80 382.43,550.39 382.40,550.22 382.40,550.20" fill="#82283c" fill-opacity="0.165"/>
<polyline points="382.40,550.20 382.40,550.23 382.43,550.45 382.50,550.92 382.61,551.67 382.82,553.05 383.03,554.41 383.24,555.75 383.46,557.08 383.67,558.40 383.88,559.70 384.09,561.00 384.30,562.29 384.51,563.57 384.72,564.85 384.93,566.10 385.14,567.29 385.36,568.44 385.57,569.55 385.78,570.62 385.99,571.65 386.20,572.65 386.41,573.61 386.62,574.55 386.83,575.46 387.04,576.35 387.25,577.22 387.47,578.06 387.68,578.88 387.89,579.69 388.10,580.47 388.31,581.24 388.52,582.00 388.73,582.74 388.94,583.47 389.15,584.18 389.37,584.88 389.58,585.58 389.79,586.26 390.00,586.93 390.21,587.59 390.42,588.24 390.63,588.88 390.84,589.52 391.05,590.14 391.27,590.76 391.48,591.37 391.69,591.98 391.90,592.58 392.11,593.17 392.32,593.76 392.53,594.34 392.74,594.92 392.95,595.49 393.16,596.06 393.38,596.62 393.59,597.18 393.80,597.73 394.01,598.28 394.22,598.83 394.43,599.37 394.64,599.90 394.85,600.44 395.06,600.97 395.28,601.50 395.49,602.02 395.70,602.55 395.91,603.07 396.12,603.58 396.33,604.10 396.54,604.61 396.75,605.12 396.96,605.62 397.18,606.13 397.39,606.63 397.60,607.13 397.81,607.63 398.02,608.13 398.23,608.62 398.44,609.12 398.65,609.61 398.86,610.10 399.07,610.59 400.80,614.51 402.53,618.33 404.25,622.03 405.98,625.62 407.71,629.09 409.43,632.44 411.16,635.69 412.88,638.82 414.61,641.85 416.34,644.78 418.06,647.60 419.79,650.33 421.52,652.96 423.24,655.50 424.97,657.95 426.69,660.31 428.42,662.58 430.15,664.78 431.87,666.90 433.60,668.94 435.33,670.91 437.05,672.82 438.78,674.66 440.50,676.44 442.23,678.15 443.96,679.81 445.68,681.42 447.41,682.97 449.14,684.48 450.86,685.93 452.59,687.34 454.31,688.70 456.04,690.01 457.77,691.29 459.49,692.52 461.22,693.72 462.95,694.88 464.67,696.00 466.40,697.09 468.12,698.14 469.85,699.16 471.58,700.14 473.30,701.10 475.03,702.03 476.76,702.93 478.48,703.79 480.21,704.64 481.93,705.45 483.66,706.24 485.39,707.01 487.11,707.75 488.84,708.48 490.57,709.18 492.29,709.85 494.02,710.52 495.74,711.16 497.47,711.78 499.20,712.39 500.92,712.98 502.65,713.56 504.38,714.12 506.10,714.67 507.83,715.20 509.55,715.73 511.28,716.24 513.01,716.73 514.73,717.22 516.46,717.70 518.18,718.16 519.91,718.62 521.64,719.06 523.36,719.50 525.09,719.93 526.82,720.35 528.54,720.76 530.27,721.17 531.99,721.57 533.72,721.96 535.45,722.34 537.17,722.72 538.90,723.09 540.63,723.46 542.35,723.82 544.08,724.17 545.80,724.52 547.53,724.86 549.26,725.20 550.98,725.54 552.71,725.87 554.44,726.19 556.16,726.52 557.89,726.83 559.61,727.15 561.34,727.46 563.07,727.76 564.79,728.07 566.52,728.37 568.25,728.67 569.97,728.96 571.70,729.25 573.42,729.54 575.15,729.83 576.88,730.11 578.60,730.39 580.33,730.67 582.06,730.95 583.78,731.22 585.51,731.49 587.23,731.76 588.96,732.03 590.69,732.30 592.41,732.56 594.14,732.83 595.87,733.09 597.59,733.35 599.32,733.61 601.04,733.86 602.77,734.12 604.50,734.37 606.22,734.63 607.95,734.88 609.68,735.13 611.40,735.38 613.13,735.63 614.85,735.88 616.58,736.12 618.31,736.37 620.03,736.62 621.76,736.86 623.48,737.10 625.21,737.35 626.94,737.59 628.66,737.83 630.39,738.07 632.12,738.31 633.84,738.55 635.57,738.79 637.29,739.03 639.02,739.27 640.75,739.51 642.47,739.75 644.20,739.98 645.93,740.22 647.65,740.46 649.38,740.69 651.10,740.93 652.83,741.17 654.56,741.40 656.28,741.64 658.01,741.87 659.74,742.11 661.46,742.34 663.19,742.58 664.91,742.81 666.64,743.05 668.37,743.28 670.09,743.52 671.82,743.75 673.55,743.98" fill="none" stroke="#9e5262" stroke-width="1.10" stroke-linejoin="round"/>
<line x1="376.40" y1="544.60" x2="679.60" y2="544.60" stroke="#8a8a8a" stroke-width="1"/>
<line x1="679.60" y1="544.60" x2="679.60" y2="936.40" stroke="#8a8a8a" stroke-width="1"/>
<line x1="376.40" y1="544.10" x2="376.40" y2="937.10" stroke="#555555" stroke-width="1.4"/>
<line x1="375.70" y1="936.40" x2="680.10" y2="936.40" stroke="#555555" stroke-width="1.4"/>
<line x1="372.40" y1="550.20" x2="376.40" y2="550.20" stroke="#505050" stroke-width="1.1"/>
<text x="0" y="0" transform="translate(369.20,550.20) rotate(-90)" text-anchor="middle" font-size="8.7" fill="#161616" font-family="Liberation Sans, sans-serif" stroke="#1a1a1a" stroke-width="0.22" paint-order="stroke">1.00</text>
<line x1="372.40" y1="597.80" x2="376.40" y2="597.80" stroke="#505050" stroke-width="1.1"/>
<text x="0" y="0" transform="translate(369.20,597.80) rotate(-90)" text-anchor="middle" font-size="8.7" fill="#161616" font-family="Liberation Sans, sans-serif" stroke="#1a1a1a" stroke-width="0.22" paint-order="stroke">0.98</text>
<line x1="372.40" y1="645.40" x2="376.40" y2="645.40" stroke="#505050" stroke-width="1.1"/>
<text x="0" y="0" transform="translate(369.20,645.40) rotate(-90)" text-anchor="middle" font-size="8.7" fill="#161616" font-family="Liberation Sans, sans-serif" stroke="#1a1a1a" stroke-width="0.22" paint-order="stroke">0.96</text>
<line x1="372.40" y1="693.00" x2="376.40" y2="693.00" stroke="#505050" stroke-width="1.1"/>
<text x="0" y="0" transform="translate(369.20,693.00) rotate(-90)" text-anchor="middle" font-size="8.7" fill="#161616" font-family="Liberation Sans, sans-serif" stroke="#1a1a1a" stroke-width="0.22" paint-order="stroke">0.94</text>
<line x1="372.40" y1="740.60" x2="376.40" y2="740.60" stroke="#505050" stroke-width="1.1"/>
<text x="0" y="0" transform="translate(369.20,740.60) rotate(-90)" text-anchor="middle" font-size="8.7" fill="#161616" font-family="Liberation Sans, sans-serif" stroke="#1a1a1a" stroke-width="0.22" paint-order="stroke">0.92</text>
<line x1="372.40" y1="788.20" x2="376.40" y2="788.20" stroke="#505050" stroke-width="1.1"/>
<text x="0" y="0" transform="translate(369.20,788.20) rotate(-90)" text-anchor="middle" font-size="8.7" fill="#161616" font-family="Liberation Sans, sans-serif" stroke="#1a1a1a" stroke-width="0.22" paint-order="stroke">0.90</text>
<line x1="372.40" y1="835.80" x2="376.40" y2="835.80" stroke="#505050" stroke-width="1.1"/>
<text x="0" y="0" transform="translate(369.20,835.80) rotate(-90)" text-anchor="middle" font-size="8.7" fill="#161616" font-family="Liberation Sans, sans-serif" stroke="#1a1a1a" stroke-width="0.22" paint-order="stroke">0.88</text>
<line x1="372.40" y1="883.40" x2="376.40" y2="883.40" stroke="#505050" stroke-width="1.1"/>
<text x="0" y="0" transform="translate(369.20,883.40) rotate(-90)" text-anchor="middle" font-size="8.7" fill="#161616" font-family="Liberation Sans, sans-serif" stroke="#1a1a1a" stroke-width="0.22" paint-order="stroke">0.86</text>
<line x1="372.40" y1="931.00" x2="376.40" y2="931.00" stroke="#505050" stroke-width="1.1"/>
<text x="0" y="0" transform="translate(369.20,931.00) rotate(-90)" text-anchor="middle" font-size="8.7" fill="#161616" font-family="Liberation Sans, sans-serif" stroke="#1a1a1a" stroke-width="0.22" paint-order="stroke">0.84</text>
<line x1="415.75" y1="936.40" x2="415.75" y2="940.40" stroke="#505050" stroke-width="1.1"/>
<text x="415.75" y="949.20" text-anchor="middle" font-size="8.7" fill="#161616" font-family="Liberation Sans, sans-serif" stroke="#1a1a1a" stroke-width="0.22" paint-order="stroke">1</text>
<line x1="449.10" y1="936.40" x2="449.10" y2="940.40" stroke="#505050" stroke-width="1.1"/>
<text x="449.10" y="949.20" text-anchor="middle" font-size="8.7" fill="#161616" font-family="Liberation Sans, sans-serif" stroke="#1a1a1a" stroke-width="0.22" paint-order="stroke">2</text>
<line x1="482.45" y1="936.40" x2="482.45" y2="940.40" stroke="#505050" stroke-width="1.1"/>
<text x="482.45" y="949.20" text-anchor="middle" font-size="8.7" fill="#161616" font-family="Liberation Sans, sans-serif" stroke="#1a1a1a" stroke-width="0.22" paint-order="stroke">3</text>
<line x1="515.80" y1="936.40" x2="515.80" y2="940.40" stroke="#505050" stroke-width="1.1"/>
<text x="515.80" y="949.20" text-anchor="middle" font-size="8.7" fill="#161616" font-family="Liberation Sans, sans-serif" stroke="#1a1a1a" stroke-width="0.22" paint-order="stroke">4</text>
<line x1="549.15" y1="936.40" x2="549.15" y2="940.40" stroke="#505050" stroke-width="1.1"/>
<text x="549.15" y="949.20" text-anchor="middle" font-size="8.7" fill="#161616" font-family="Liberation Sans, sans-serif" stroke="#1a1a1a" stroke-width="0.22" paint-order="stroke">5</text>
<line x1="582.50" y1="936.40" x2="582.50" y2="940.40" stroke="#505050" stroke-width="1.1"/>
<text x="582.50" y="949.20" text-anchor="middle" font-size="8.7" fill="#161616" font-family="Liberation Sans, sans-serif" stroke="#1a1a1a" stroke-width="0.22" paint-order="stroke">6</text>
<line x1="615.85" y1="936.40" x2="615.85" y2="940.40" stroke="#505050" stroke-width="1.1"/>
<text x="615.85" y="949.20" text-anchor="middle" font-size="8.7" fill="#161616" font-family="Liberation Sans, sans-serif" stroke="#1a1a1a" stroke-width="0.22" paint-order="stroke">7</text>
<line x1="649.20" y1="936.40" x2="649.20" y2="940.40" stroke="#505050" stroke-width="1.1"/>
<text x="649.20" y="949.20" text-anchor="middle" font-size="8.7" fill="#161616" font-family="Liberation Sans, sans-serif" stroke="#1a1a1a" stroke-width="0.22" paint-order="stroke">8</text>
<text x="528.00" y="958.00" text-anchor="middle" font-size="8.7" fill="#161616" font-family="Liberation Sans, sans-serif" stroke="#1a1a1a" stroke-width="0.22" paint-order="stroke">Years after primary surgery</text>
<text x="0" y="0" transform="translate(358.90,740.50) rotate(-90)" text-anchor="middle" font-size="8.7" fill="#161616" font-family="Liberation Sans, sans-serif" stroke="#1a1a1a" stroke-width="0.22" paint-order="stroke">Survival probability</text>
<rect x="398.60" y="966.00" width="258.80" height="31.40" fill="#fff" stroke="#8a8a8a" stroke-width="1.2"/>
<line x1="402.40" y1="973.50" x2="435.60" y2="973.50" stroke="#3f853f" stroke-width="1.40" stroke-opacity="0.95"/>
<text x="446.60" y="976.60" font-size="8.7" fill="#161616" font-family="Liberation Sans, sans-serif" stroke="#1a1a1a" stroke-width="0.22" paint-order="stroke">Elective OA</text>
<line x1="526.40" y1="973.50" x2="559.60" y2="973.50" stroke="#e2a262" stroke-width="1.40" stroke-opacity="0.95"/>
<text x="570.60" y="976.60" font-size="8.7" fill="#161616" font-family="Liberation Sans, sans-serif" stroke="#1a1a1a" stroke-width="0.22" paint-order="stroke">Cuff tear arthropathy</text>
<line x1="402.40" y1="989.90" x2="435.60" y2="989.90" stroke="#7a76e0" stroke-width="1.80" stroke-opacity="0.95"/>
<text x="446.60" y="993.00" font-size="8.7" fill="#161616" font-family="Liberation Sans, sans-serif" stroke="#1a1a1a" stroke-width="0.22" paint-order="stroke">Acute trauma</text>
<line x1="526.40" y1="989.90" x2="559.60" y2="989.90" stroke="#b8868e" stroke-width="1.80" stroke-opacity="0.95"/>
<text x="570.60" y="993.00" font-size="8.7" fill="#161616" font-family="Liberation Sans, sans-serif" stroke="#1a1a1a" stroke-width="0.22" paint-order="stroke">Other</text>
</svg>
</body></html>
